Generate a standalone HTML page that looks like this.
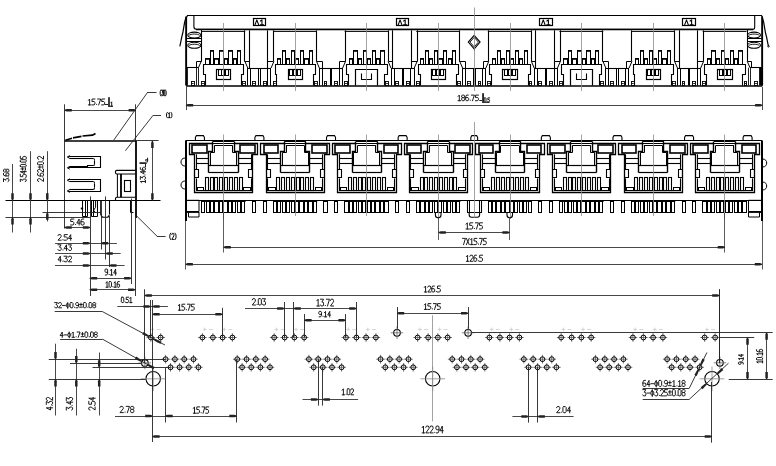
<!DOCTYPE html>
<html><head><meta charset="utf-8"><style>
html,body{margin:0;padding:0;background:#fff;}
body{width:776px;height:466px;overflow:hidden;}
svg{display:block;font-family:"Liberation Sans",sans-serif;will-change:transform;}
</style></head><body>
<svg width="776" height="466" viewBox="0 0 776 466">
<rect width="776" height="466" fill="#fff"/>
<path d="M186.50,85.50 L186.50,17.50 L187.50,15.50 L761.50,15.50 L762.50,17.50 L762.50,85.50" stroke="#000" stroke-width="1.2" fill="none" stroke-linejoin="miter"/>
<line x1="186.00" y1="16.50" x2="186.00" y2="85.60" stroke="#000" stroke-width="1.6" />
<line x1="762.00" y1="16.50" x2="762.00" y2="85.60" stroke="#000" stroke-width="1.6" />
<line x1="186.00" y1="86.00" x2="762.30" y2="86.00" stroke="#000" stroke-width="1.6" />
<path d="M193.9,15.8 V26.5 Q193.9,29.2 196.2,29.2 H753.3 Q754.6999999999999,29.2 754.6999999999999,27.5 V15.8" stroke="#000" stroke-width="1.1" fill="none" />
<line x1="196.00" y1="29.50" x2="753.30" y2="29.50" stroke="#000" stroke-width="1.4" />
<rect x="253.50" y="18.50" width="12.00" height="7.00" stroke="#000" stroke-width="1.2" fill="none"/>
<g transform="translate(255.00,19.90)"><path d="M0.00,5.00 L1.83,0.00 L3.66,5.00 M5.49,1.10 L6.95,0.00 L6.95,5.00 M5.49,5.00 L8.42,5.00" stroke="#000" stroke-width="1.1" fill="none" stroke-linejoin="round" stroke-linecap="square"/></g>
<rect x="396.50" y="18.50" width="12.00" height="7.00" stroke="#000" stroke-width="1.2" fill="none"/>
<g transform="translate(398.22,19.90)"><path d="M0.00,5.00 L1.83,0.00 L3.66,5.00 M5.49,1.10 L6.95,0.00 L6.95,5.00 M5.49,5.00 L8.42,5.00" stroke="#000" stroke-width="1.1" fill="none" stroke-linejoin="round" stroke-linecap="square"/></g>
<rect x="539.50" y="18.50" width="13.00" height="7.00" stroke="#000" stroke-width="1.2" fill="none"/>
<g transform="translate(541.44,19.90)"><path d="M0.00,5.00 L1.83,0.00 L3.66,5.00 M5.49,1.10 L6.95,0.00 L6.95,5.00 M5.49,5.00 L8.42,5.00" stroke="#000" stroke-width="1.1" fill="none" stroke-linejoin="round" stroke-linecap="square"/></g>
<rect x="682.50" y="18.50" width="13.00" height="7.00" stroke="#000" stroke-width="1.2" fill="none"/>
<g transform="translate(684.66,19.90)"><path d="M0.00,5.00 L1.83,0.00 L3.66,5.00 M5.49,1.10 L6.95,0.00 L6.95,5.00 M5.49,5.00 L8.42,5.00" stroke="#000" stroke-width="1.1" fill="none" stroke-linejoin="round" stroke-linecap="square"/></g>
<line x1="244.50" y1="30.30" x2="244.50" y2="61.40" stroke="#000" stroke-width="1.1" />
<line x1="273.50" y1="30.30" x2="273.50" y2="61.40" stroke="#000" stroke-width="1.1" />
<line x1="249.50" y1="30.30" x2="249.50" y2="68.10" stroke="#000" stroke-width="1.1" />
<line x1="267.50" y1="30.30" x2="267.50" y2="68.10" stroke="#000" stroke-width="1.1" />
<path d="M244.50,61.50 L249.50,61.50" stroke="#000" stroke-width="1" fill="none" stroke-linejoin="miter"/>
<path d="M267.50,61.50 L273.50,61.50" stroke="#000" stroke-width="1" fill="none" stroke-linejoin="miter"/>
<path d="M244.91000000000003,61.4 L247.81000000000003,68.1 M273.91,61.4 L271.01000000000005,68.1" stroke="#000" stroke-width="1" fill="none" />
<line x1="247.81" y1="68.50" x2="271.01" y2="68.50" stroke="#000" stroke-width="1.1" />
<line x1="247.50" y1="68.10" x2="247.50" y2="85.60" stroke="#000" stroke-width="1" />
<line x1="250.50" y1="68.10" x2="250.50" y2="85.60" stroke="#000" stroke-width="1" />
<line x1="258.50" y1="68.10" x2="258.50" y2="85.60" stroke="#000" stroke-width="1" />
<line x1="260.50" y1="68.10" x2="260.50" y2="85.60" stroke="#000" stroke-width="1" />
<line x1="267.50" y1="68.10" x2="267.50" y2="85.60" stroke="#000" stroke-width="1" />
<line x1="270.50" y1="68.10" x2="270.50" y2="85.60" stroke="#000" stroke-width="1" />
<rect x="242.50" y="81.50" width="3.00" height="4.00" stroke="#000" stroke-width="0.9" fill="none"/>
<line x1="242.81" y1="83.50" x2="245.21" y2="83.50" stroke="#000" stroke-width="0.8" />
<rect x="252.50" y="81.50" width="3.00" height="4.00" stroke="#000" stroke-width="0.9" fill="none"/>
<line x1="252.61" y1="83.50" x2="255.01" y2="83.50" stroke="#000" stroke-width="0.8" />
<rect x="263.50" y="81.50" width="3.00" height="4.00" stroke="#000" stroke-width="0.9" fill="none"/>
<line x1="263.41" y1="83.50" x2="265.81" y2="83.50" stroke="#000" stroke-width="0.8" />
<rect x="273.50" y="81.50" width="3.00" height="4.00" stroke="#000" stroke-width="0.9" fill="none"/>
<line x1="273.31" y1="83.50" x2="275.71" y2="83.50" stroke="#000" stroke-width="0.8" />
<line x1="316.50" y1="30.30" x2="316.50" y2="61.40" stroke="#000" stroke-width="1.1" />
<line x1="345.50" y1="30.30" x2="345.50" y2="61.40" stroke="#000" stroke-width="1.1" />
<path d="M316.50,61.50 L322.50,61.50 L322.50,68.50" stroke="#000" stroke-width="1" fill="none" stroke-linejoin="miter"/>
<path d="M339.50,68.50 L339.50,61.50 L345.50,61.50" stroke="#000" stroke-width="1" fill="none" stroke-linejoin="miter"/>
<path d="M316.52000000000004,61.4 L319.42,68.1 M345.52000000000004,61.4 L342.62000000000006,68.1" stroke="#000" stroke-width="1" fill="none" />
<line x1="319.42" y1="68.50" x2="342.62" y2="68.50" stroke="#000" stroke-width="1.1" />
<line x1="319.50" y1="68.10" x2="319.50" y2="85.60" stroke="#000" stroke-width="1" />
<line x1="322.50" y1="68.10" x2="322.50" y2="85.60" stroke="#000" stroke-width="1" />
<line x1="330.50" y1="68.10" x2="330.50" y2="85.60" stroke="#000" stroke-width="1" />
<line x1="331.50" y1="68.10" x2="331.50" y2="85.60" stroke="#000" stroke-width="1" />
<line x1="339.50" y1="68.10" x2="339.50" y2="85.60" stroke="#000" stroke-width="1" />
<line x1="342.50" y1="68.10" x2="342.50" y2="85.60" stroke="#000" stroke-width="1" />
<rect x="314.50" y="81.50" width="3.00" height="4.00" stroke="#000" stroke-width="0.9" fill="none"/>
<line x1="314.42" y1="83.50" x2="316.82" y2="83.50" stroke="#000" stroke-width="0.8" />
<rect x="324.50" y="81.50" width="2.00" height="4.00" stroke="#000" stroke-width="0.9" fill="none"/>
<line x1="324.22" y1="83.50" x2="326.62" y2="83.50" stroke="#000" stroke-width="0.8" />
<rect x="334.50" y="81.50" width="3.00" height="4.00" stroke="#000" stroke-width="0.9" fill="none"/>
<line x1="335.02" y1="83.50" x2="337.42" y2="83.50" stroke="#000" stroke-width="0.8" />
<rect x="344.50" y="81.50" width="3.00" height="4.00" stroke="#000" stroke-width="0.9" fill="none"/>
<line x1="344.92" y1="83.50" x2="347.32" y2="83.50" stroke="#000" stroke-width="0.8" />
<line x1="388.50" y1="30.30" x2="388.50" y2="61.40" stroke="#000" stroke-width="1.1" />
<line x1="417.50" y1="30.30" x2="417.50" y2="61.40" stroke="#000" stroke-width="1.1" />
<line x1="392.50" y1="30.30" x2="392.50" y2="68.10" stroke="#000" stroke-width="1.1" />
<line x1="411.50" y1="30.30" x2="411.50" y2="68.10" stroke="#000" stroke-width="1.1" />
<path d="M388.50,61.50 L392.50,61.50" stroke="#000" stroke-width="1" fill="none" stroke-linejoin="miter"/>
<path d="M411.50,61.50 L417.50,61.50" stroke="#000" stroke-width="1" fill="none" stroke-linejoin="miter"/>
<path d="M388.13,61.4 L391.03,68.1 M417.13,61.4 L414.23,68.1" stroke="#000" stroke-width="1" fill="none" />
<line x1="391.03" y1="68.50" x2="414.23" y2="68.50" stroke="#000" stroke-width="1.1" />
<line x1="391.50" y1="68.10" x2="391.50" y2="85.60" stroke="#000" stroke-width="1" />
<line x1="394.50" y1="68.10" x2="394.50" y2="85.60" stroke="#000" stroke-width="1" />
<line x1="402.50" y1="68.10" x2="402.50" y2="85.60" stroke="#000" stroke-width="1" />
<line x1="403.50" y1="68.10" x2="403.50" y2="85.60" stroke="#000" stroke-width="1" />
<line x1="410.50" y1="68.10" x2="410.50" y2="85.60" stroke="#000" stroke-width="1" />
<line x1="414.50" y1="68.10" x2="414.50" y2="85.60" stroke="#000" stroke-width="1" />
<rect x="385.50" y="81.50" width="3.00" height="4.00" stroke="#000" stroke-width="0.9" fill="none"/>
<line x1="386.03" y1="83.50" x2="388.43" y2="83.50" stroke="#000" stroke-width="0.8" />
<rect x="395.50" y="81.50" width="3.00" height="4.00" stroke="#000" stroke-width="0.9" fill="none"/>
<line x1="395.83" y1="83.50" x2="398.23" y2="83.50" stroke="#000" stroke-width="0.8" />
<rect x="406.50" y="81.50" width="3.00" height="4.00" stroke="#000" stroke-width="0.9" fill="none"/>
<line x1="406.63" y1="83.50" x2="409.03" y2="83.50" stroke="#000" stroke-width="0.8" />
<rect x="416.50" y="81.50" width="3.00" height="4.00" stroke="#000" stroke-width="0.9" fill="none"/>
<line x1="416.53" y1="83.50" x2="418.93" y2="83.50" stroke="#000" stroke-width="0.8" />
<line x1="459.50" y1="30.30" x2="459.50" y2="61.40" stroke="#000" stroke-width="1.1" />
<line x1="488.50" y1="30.30" x2="488.50" y2="61.40" stroke="#000" stroke-width="1.1" />
<path d="M459.50,61.50 L465.50,61.50 L465.50,68.50" stroke="#000" stroke-width="1" fill="none" stroke-linejoin="miter"/>
<path d="M483.50,68.50 L483.50,61.50 L488.50,61.50" stroke="#000" stroke-width="1" fill="none" stroke-linejoin="miter"/>
<path d="M459.74,61.4 L462.64,68.1 M488.74,61.4 L485.84000000000003,68.1" stroke="#000" stroke-width="1" fill="none" />
<line x1="462.64" y1="68.50" x2="485.84" y2="68.50" stroke="#000" stroke-width="1.1" />
<line x1="462.50" y1="68.10" x2="462.50" y2="85.60" stroke="#000" stroke-width="1" />
<line x1="465.50" y1="68.10" x2="465.50" y2="85.60" stroke="#000" stroke-width="1" />
<line x1="473.50" y1="68.10" x2="473.50" y2="85.60" stroke="#000" stroke-width="1" />
<line x1="475.50" y1="68.10" x2="475.50" y2="85.60" stroke="#000" stroke-width="1" />
<line x1="482.50" y1="68.10" x2="482.50" y2="85.60" stroke="#000" stroke-width="1" />
<line x1="485.50" y1="68.10" x2="485.50" y2="85.60" stroke="#000" stroke-width="1" />
<rect x="457.50" y="81.50" width="3.00" height="4.00" stroke="#000" stroke-width="0.9" fill="none"/>
<line x1="457.64" y1="83.50" x2="460.04" y2="83.50" stroke="#000" stroke-width="0.8" />
<rect x="467.50" y="81.50" width="3.00" height="4.00" stroke="#000" stroke-width="0.9" fill="none"/>
<line x1="467.44" y1="83.50" x2="469.84" y2="83.50" stroke="#000" stroke-width="0.8" />
<rect x="478.50" y="81.50" width="2.00" height="4.00" stroke="#000" stroke-width="0.9" fill="none"/>
<line x1="478.24" y1="83.50" x2="480.64" y2="83.50" stroke="#000" stroke-width="0.8" />
<rect x="487.50" y="81.50" width="3.00" height="4.00" stroke="#000" stroke-width="0.9" fill="none"/>
<line x1="488.14" y1="83.50" x2="490.54" y2="83.50" stroke="#000" stroke-width="0.8" />
<line x1="531.50" y1="30.30" x2="531.50" y2="61.40" stroke="#000" stroke-width="1.1" />
<line x1="560.50" y1="30.30" x2="560.50" y2="61.40" stroke="#000" stroke-width="1.1" />
<line x1="535.50" y1="30.30" x2="535.50" y2="68.10" stroke="#000" stroke-width="1.1" />
<line x1="554.50" y1="30.30" x2="554.50" y2="68.10" stroke="#000" stroke-width="1.1" />
<path d="M531.50,61.50 L535.50,61.50" stroke="#000" stroke-width="1" fill="none" stroke-linejoin="miter"/>
<path d="M554.50,61.50 L560.50,61.50" stroke="#000" stroke-width="1" fill="none" stroke-linejoin="miter"/>
<path d="M531.35,61.4 L534.25,68.1 M560.35,61.4 L557.45,68.1" stroke="#000" stroke-width="1" fill="none" />
<line x1="534.25" y1="68.50" x2="557.45" y2="68.50" stroke="#000" stroke-width="1.1" />
<line x1="534.50" y1="68.10" x2="534.50" y2="85.60" stroke="#000" stroke-width="1" />
<line x1="537.50" y1="68.10" x2="537.50" y2="85.60" stroke="#000" stroke-width="1" />
<line x1="545.50" y1="68.10" x2="545.50" y2="85.60" stroke="#000" stroke-width="1" />
<line x1="546.50" y1="68.10" x2="546.50" y2="85.60" stroke="#000" stroke-width="1" />
<line x1="554.50" y1="68.10" x2="554.50" y2="85.60" stroke="#000" stroke-width="1" />
<line x1="557.50" y1="68.10" x2="557.50" y2="85.60" stroke="#000" stroke-width="1" />
<rect x="529.50" y="81.50" width="2.00" height="4.00" stroke="#000" stroke-width="0.9" fill="none"/>
<line x1="529.25" y1="83.50" x2="531.65" y2="83.50" stroke="#000" stroke-width="0.8" />
<rect x="538.50" y="81.50" width="3.00" height="4.00" stroke="#000" stroke-width="0.9" fill="none"/>
<line x1="539.05" y1="83.50" x2="541.45" y2="83.50" stroke="#000" stroke-width="0.8" />
<rect x="549.50" y="81.50" width="3.00" height="4.00" stroke="#000" stroke-width="0.9" fill="none"/>
<line x1="549.85" y1="83.50" x2="552.25" y2="83.50" stroke="#000" stroke-width="0.8" />
<rect x="559.50" y="81.50" width="3.00" height="4.00" stroke="#000" stroke-width="0.9" fill="none"/>
<line x1="559.75" y1="83.50" x2="562.15" y2="83.50" stroke="#000" stroke-width="0.8" />
<line x1="602.50" y1="30.30" x2="602.50" y2="61.40" stroke="#000" stroke-width="1.1" />
<line x1="631.50" y1="30.30" x2="631.50" y2="61.40" stroke="#000" stroke-width="1.1" />
<path d="M602.50,61.50 L608.50,61.50 L608.50,68.50" stroke="#000" stroke-width="1" fill="none" stroke-linejoin="miter"/>
<path d="M626.50,68.50 L626.50,61.50 L631.50,61.50" stroke="#000" stroke-width="1" fill="none" stroke-linejoin="miter"/>
<path d="M602.96,61.4 L605.86,68.1 M631.96,61.4 L629.0600000000001,68.1" stroke="#000" stroke-width="1" fill="none" />
<line x1="605.86" y1="68.50" x2="629.06" y2="68.50" stroke="#000" stroke-width="1.1" />
<line x1="605.50" y1="68.10" x2="605.50" y2="85.60" stroke="#000" stroke-width="1" />
<line x1="608.50" y1="68.10" x2="608.50" y2="85.60" stroke="#000" stroke-width="1" />
<line x1="616.50" y1="68.10" x2="616.50" y2="85.60" stroke="#000" stroke-width="1" />
<line x1="618.50" y1="68.10" x2="618.50" y2="85.60" stroke="#000" stroke-width="1" />
<line x1="625.50" y1="68.10" x2="625.50" y2="85.60" stroke="#000" stroke-width="1" />
<line x1="628.50" y1="68.10" x2="628.50" y2="85.60" stroke="#000" stroke-width="1" />
<rect x="600.50" y="81.50" width="3.00" height="4.00" stroke="#000" stroke-width="0.9" fill="none"/>
<line x1="600.86" y1="83.50" x2="603.26" y2="83.50" stroke="#000" stroke-width="0.8" />
<rect x="610.50" y="81.50" width="3.00" height="4.00" stroke="#000" stroke-width="0.9" fill="none"/>
<line x1="610.66" y1="83.50" x2="613.06" y2="83.50" stroke="#000" stroke-width="0.8" />
<rect x="621.50" y="81.50" width="3.00" height="4.00" stroke="#000" stroke-width="0.9" fill="none"/>
<line x1="621.46" y1="83.50" x2="623.86" y2="83.50" stroke="#000" stroke-width="0.8" />
<rect x="631.50" y="81.50" width="3.00" height="4.00" stroke="#000" stroke-width="0.9" fill="none"/>
<line x1="631.36" y1="83.50" x2="633.76" y2="83.50" stroke="#000" stroke-width="0.8" />
<line x1="674.50" y1="30.30" x2="674.50" y2="61.40" stroke="#000" stroke-width="1.1" />
<line x1="703.50" y1="30.30" x2="703.50" y2="61.40" stroke="#000" stroke-width="1.1" />
<line x1="679.50" y1="30.30" x2="679.50" y2="68.10" stroke="#000" stroke-width="1.1" />
<line x1="697.50" y1="30.30" x2="697.50" y2="68.10" stroke="#000" stroke-width="1.1" />
<path d="M674.50,61.50 L679.50,61.50" stroke="#000" stroke-width="1" fill="none" stroke-linejoin="miter"/>
<path d="M697.50,61.50 L703.50,61.50" stroke="#000" stroke-width="1" fill="none" stroke-linejoin="miter"/>
<path d="M674.5699999999999,61.4 L677.4699999999999,68.1 M703.5699999999999,61.4 L700.67,68.1" stroke="#000" stroke-width="1" fill="none" />
<line x1="677.47" y1="68.50" x2="700.67" y2="68.50" stroke="#000" stroke-width="1.1" />
<line x1="677.50" y1="68.10" x2="677.50" y2="85.60" stroke="#000" stroke-width="1" />
<line x1="680.50" y1="68.10" x2="680.50" y2="85.60" stroke="#000" stroke-width="1" />
<line x1="688.50" y1="68.10" x2="688.50" y2="85.60" stroke="#000" stroke-width="1" />
<line x1="689.50" y1="68.10" x2="689.50" y2="85.60" stroke="#000" stroke-width="1" />
<line x1="697.50" y1="68.10" x2="697.50" y2="85.60" stroke="#000" stroke-width="1" />
<line x1="700.50" y1="68.10" x2="700.50" y2="85.60" stroke="#000" stroke-width="1" />
<rect x="672.50" y="81.50" width="3.00" height="4.00" stroke="#000" stroke-width="0.9" fill="none"/>
<line x1="672.47" y1="83.50" x2="674.87" y2="83.50" stroke="#000" stroke-width="0.8" />
<rect x="682.50" y="81.50" width="2.00" height="4.00" stroke="#000" stroke-width="0.9" fill="none"/>
<line x1="682.27" y1="83.50" x2="684.67" y2="83.50" stroke="#000" stroke-width="0.8" />
<rect x="692.50" y="81.50" width="3.00" height="4.00" stroke="#000" stroke-width="0.9" fill="none"/>
<line x1="693.07" y1="83.50" x2="695.47" y2="83.50" stroke="#000" stroke-width="0.8" />
<rect x="702.50" y="81.50" width="3.00" height="4.00" stroke="#000" stroke-width="0.9" fill="none"/>
<line x1="702.97" y1="83.50" x2="705.37" y2="83.50" stroke="#000" stroke-width="0.8" />
<line x1="201.41" y1="31.50" x2="245.21" y2="31.50" stroke="#000" stroke-width="0.9" />
<line x1="273.02" y1="31.50" x2="316.82" y2="31.50" stroke="#000" stroke-width="0.9" />
<line x1="344.63" y1="31.50" x2="388.43" y2="31.50" stroke="#000" stroke-width="0.9" />
<line x1="416.24" y1="31.50" x2="460.04" y2="31.50" stroke="#000" stroke-width="0.9" />
<line x1="487.85" y1="31.50" x2="531.64" y2="31.50" stroke="#000" stroke-width="0.9" />
<line x1="559.45" y1="31.50" x2="603.25" y2="31.50" stroke="#000" stroke-width="0.9" />
<line x1="631.06" y1="31.50" x2="674.87" y2="31.50" stroke="#000" stroke-width="0.9" />
<line x1="702.67" y1="31.50" x2="746.48" y2="31.50" stroke="#000" stroke-width="0.9" />
<line x1="201.50" y1="29.80" x2="201.50" y2="61.40" stroke="#000" stroke-width="1.1" />
<path d="M201.205,61.4 L198.405,67.8" stroke="#000" stroke-width="1" fill="none" />
<line x1="186.50" y1="67.50" x2="198.41" y2="67.50" stroke="#000" stroke-width="1.1" />
<path d="M201.50,61.50 L196.50,61.50 L196.50,67.50" stroke="#000" stroke-width="1" fill="none" stroke-linejoin="miter"/>
<line x1="187.50" y1="67.80" x2="187.50" y2="85.60" stroke="#222" stroke-width="1" />
<line x1="196.50" y1="67.80" x2="196.50" y2="85.60" stroke="#222" stroke-width="1" />
<line x1="198.50" y1="67.80" x2="198.50" y2="85.60" stroke="#222" stroke-width="1" />
<rect x="191.50" y="81.50" width="3.00" height="4.00" stroke="#000" stroke-width="0.9" fill="none"/>
<line x1="191.30" y1="83.50" x2="193.70" y2="83.50" stroke="#000" stroke-width="0.8" />
<rect x="201.50" y="81.50" width="3.00" height="4.00" stroke="#000" stroke-width="0.9" fill="none"/>
<line x1="201.70" y1="83.50" x2="204.10" y2="83.50" stroke="#000" stroke-width="0.8" />
<ellipse cx="194.35" cy="35.10" rx="6.55" ry="3.0" stroke="#000" stroke-width="1.1" fill="none"/>
<path d="M189.0,35.4 C190.5,33.6 198.205,33.6 199.705,35.4" stroke="#000" stroke-width="0.9" fill="none" />
<ellipse cx="194.35" cy="45.30" rx="6.55" ry="3.0" stroke="#000" stroke-width="1.1" fill="none"/>
<path d="M189.0,45.6 C190.5,43.8 198.205,43.8 199.705,45.6" stroke="#000" stroke-width="0.9" fill="none" />
<line x1="186.50" y1="38.50" x2="201.21" y2="38.50" stroke="#000" stroke-width="1" />
<line x1="186.50" y1="41.50" x2="201.21" y2="41.50" stroke="#000" stroke-width="1" />
<line x1="747.50" y1="29.80" x2="747.50" y2="61.40" stroke="#000" stroke-width="1.1" />
<path d="M747.275,61.4 L750.0749999999999,67.8" stroke="#000" stroke-width="1" fill="none" />
<line x1="761.80" y1="67.50" x2="750.07" y2="67.50" stroke="#000" stroke-width="1.1" />
<path d="M747.50,61.50 L751.50,61.50 L751.50,67.50" stroke="#000" stroke-width="1" fill="none" stroke-linejoin="miter"/>
<line x1="748.50" y1="67.80" x2="748.50" y2="85.60" stroke="#222" stroke-width="1" />
<line x1="750.50" y1="67.80" x2="750.50" y2="85.60" stroke="#222" stroke-width="1" />
<line x1="759.50" y1="67.80" x2="759.50" y2="85.60" stroke="#222" stroke-width="1" />
<rect x="759.8" y="67.8" width="2.6" height="17.5" fill="#000"/>
<rect x="754.50" y="81.50" width="3.00" height="4.00" stroke="#000" stroke-width="0.9" fill="none"/>
<line x1="754.60" y1="83.50" x2="757.00" y2="83.50" stroke="#000" stroke-width="0.8" />
<rect x="744.50" y="81.50" width="2.00" height="4.00" stroke="#000" stroke-width="0.9" fill="none"/>
<line x1="744.20" y1="83.50" x2="746.60" y2="83.50" stroke="#000" stroke-width="0.8" />
<ellipse cx="754.04" cy="35.10" rx="6.46" ry="3.0" stroke="#000" stroke-width="1.1" fill="none"/>
<path d="M748.775,35.4 C750.275,33.6 757.8,33.6 759.3,35.4" stroke="#000" stroke-width="0.9" fill="none" />
<ellipse cx="754.04" cy="45.30" rx="6.46" ry="3.0" stroke="#000" stroke-width="1.1" fill="none"/>
<path d="M748.775,45.6 C750.275,43.8 757.8,43.8 759.3,45.6" stroke="#000" stroke-width="0.9" fill="none" />
<line x1="761.80" y1="38.50" x2="747.27" y2="38.50" stroke="#000" stroke-width="1" />
<line x1="761.80" y1="41.50" x2="747.27" y2="41.50" stroke="#000" stroke-width="1" />
<path d="M186,17.5 C183.5,24 184,30 182,36 C181,40 180.8,43 179.8,46.3" stroke="#000" stroke-width="1.2" fill="none" />
<path d="M762.3,17.5 C764.8,24 764.3,30 766.3,36 C767.3,40 767.5,43 768.5,46.3" stroke="#000" stroke-width="1.2" fill="none" />
<circle cx="768.50" cy="46.30" r="0.80" stroke="#000" stroke-width="0.8" fill="none"/>
<rect x="205.50" y="58.50" width="4.00" height="6.00" stroke="#000" stroke-width="1" fill="none"/>
<line x1="205.81" y1="59.50" x2="209.00" y2="59.50" stroke="#000" stroke-width="0.8" />
<rect x="214.50" y="58.50" width="4.00" height="6.00" stroke="#000" stroke-width="1" fill="none"/>
<line x1="214.91" y1="59.50" x2="218.11" y2="59.50" stroke="#000" stroke-width="0.8" />
<rect x="224.50" y="58.50" width="3.00" height="6.00" stroke="#000" stroke-width="1" fill="none"/>
<line x1="224.11" y1="59.50" x2="227.31" y2="59.50" stroke="#000" stroke-width="0.8" />
<rect x="233.50" y="58.50" width="3.00" height="6.00" stroke="#000" stroke-width="1" fill="none"/>
<line x1="233.31" y1="59.50" x2="236.50" y2="59.50" stroke="#000" stroke-width="0.8" />
<rect x="210.50" y="50.50" width="3.00" height="14.00" stroke="#000" stroke-width="1" fill="none"/>
<line x1="210.61" y1="51.50" x2="213.81" y2="51.50" stroke="#000" stroke-width="0.8" />
<rect x="219.50" y="50.50" width="4.00" height="14.00" stroke="#000" stroke-width="1" fill="none"/>
<line x1="219.81" y1="51.50" x2="223.00" y2="51.50" stroke="#000" stroke-width="0.8" />
<rect x="228.50" y="50.50" width="4.00" height="14.00" stroke="#000" stroke-width="1" fill="none"/>
<line x1="228.91" y1="51.50" x2="232.11" y2="51.50" stroke="#000" stroke-width="0.8" />
<rect x="237.50" y="50.50" width="3.00" height="14.00" stroke="#000" stroke-width="1" fill="none"/>
<line x1="237.61" y1="51.50" x2="240.81" y2="51.50" stroke="#000" stroke-width="0.8" />
<path d="M205.50,85.50 L205.50,74.50 L203.50,74.50 L203.50,64.50 L243.50,64.50 L243.50,74.50 L241.50,74.50 L241.50,85.50" stroke="#000" stroke-width="1.1" fill="none" stroke-linejoin="miter"/>
<rect x="216.50" y="69.50" width="14.00" height="10.00" stroke="#000" stroke-width="1.2" fill="none"/>
<rect x="218.50" y="69.50" width="3.00" height="6.00" stroke="#000" stroke-width="1" fill="none"/>
<rect x="221.50" y="69.50" width="3.00" height="6.00" stroke="#000" stroke-width="1" fill="none"/>
<rect x="225.50" y="69.50" width="3.00" height="6.00" stroke="#000" stroke-width="1" fill="none"/>
<line x1="223.50" y1="23.00" x2="223.50" y2="91.00" stroke="#8a8a8a" stroke-width="0.8" />
<rect x="277.50" y="58.50" width="3.00" height="6.00" stroke="#000" stroke-width="1" fill="none"/>
<line x1="277.42" y1="59.50" x2="280.62" y2="59.50" stroke="#000" stroke-width="0.8" />
<rect x="286.50" y="58.50" width="3.00" height="6.00" stroke="#000" stroke-width="1" fill="none"/>
<line x1="286.52" y1="59.50" x2="289.72" y2="59.50" stroke="#000" stroke-width="0.8" />
<rect x="295.50" y="58.50" width="3.00" height="6.00" stroke="#000" stroke-width="1" fill="none"/>
<line x1="295.72" y1="59.50" x2="298.92" y2="59.50" stroke="#000" stroke-width="0.8" />
<rect x="304.50" y="58.50" width="4.00" height="6.00" stroke="#000" stroke-width="1" fill="none"/>
<line x1="304.92" y1="59.50" x2="308.12" y2="59.50" stroke="#000" stroke-width="0.8" />
<rect x="282.50" y="50.50" width="3.00" height="14.00" stroke="#000" stroke-width="1" fill="none"/>
<line x1="282.22" y1="51.50" x2="285.42" y2="51.50" stroke="#000" stroke-width="0.8" />
<rect x="291.50" y="50.50" width="3.00" height="14.00" stroke="#000" stroke-width="1" fill="none"/>
<line x1="291.42" y1="51.50" x2="294.62" y2="51.50" stroke="#000" stroke-width="0.8" />
<rect x="300.50" y="50.50" width="3.00" height="14.00" stroke="#000" stroke-width="1" fill="none"/>
<line x1="300.52" y1="51.50" x2="303.72" y2="51.50" stroke="#000" stroke-width="0.8" />
<rect x="309.50" y="50.50" width="3.00" height="14.00" stroke="#000" stroke-width="1" fill="none"/>
<line x1="309.22" y1="51.50" x2="312.42" y2="51.50" stroke="#000" stroke-width="0.8" />
<path d="M276.50,85.50 L276.50,74.50 L275.50,74.50 L275.50,64.50 L315.50,64.50 L315.50,74.50 L313.50,74.50 L313.50,85.50" stroke="#000" stroke-width="1.1" fill="none" stroke-linejoin="miter"/>
<rect x="288.50" y="69.50" width="14.00" height="10.00" stroke="#000" stroke-width="1.2" fill="none"/>
<rect x="289.50" y="69.50" width="3.00" height="6.00" stroke="#000" stroke-width="1" fill="none"/>
<rect x="293.50" y="69.50" width="3.00" height="6.00" stroke="#000" stroke-width="1" fill="none"/>
<rect x="297.50" y="69.50" width="3.00" height="6.00" stroke="#000" stroke-width="1" fill="none"/>
<line x1="295.50" y1="23.00" x2="295.50" y2="91.00" stroke="#8a8a8a" stroke-width="0.8" />
<rect x="349.50" y="58.50" width="3.00" height="6.00" stroke="#000" stroke-width="1" fill="none"/>
<line x1="349.03" y1="59.50" x2="352.23" y2="59.50" stroke="#000" stroke-width="0.8" />
<rect x="358.50" y="58.50" width="3.00" height="6.00" stroke="#000" stroke-width="1" fill="none"/>
<line x1="358.13" y1="59.50" x2="361.33" y2="59.50" stroke="#000" stroke-width="0.8" />
<rect x="367.50" y="58.50" width="3.00" height="6.00" stroke="#000" stroke-width="1" fill="none"/>
<line x1="367.33" y1="59.50" x2="370.53" y2="59.50" stroke="#000" stroke-width="0.8" />
<rect x="376.50" y="58.50" width="3.00" height="6.00" stroke="#000" stroke-width="1" fill="none"/>
<line x1="376.53" y1="59.50" x2="379.73" y2="59.50" stroke="#000" stroke-width="0.8" />
<rect x="353.50" y="50.50" width="4.00" height="14.00" stroke="#000" stroke-width="1" fill="none"/>
<line x1="353.83" y1="51.50" x2="357.03" y2="51.50" stroke="#000" stroke-width="0.8" />
<rect x="363.50" y="50.50" width="3.00" height="14.00" stroke="#000" stroke-width="1" fill="none"/>
<line x1="363.03" y1="51.50" x2="366.23" y2="51.50" stroke="#000" stroke-width="0.8" />
<rect x="372.50" y="50.50" width="3.00" height="14.00" stroke="#000" stroke-width="1" fill="none"/>
<line x1="372.13" y1="51.50" x2="375.33" y2="51.50" stroke="#000" stroke-width="0.8" />
<rect x="380.50" y="50.50" width="4.00" height="14.00" stroke="#000" stroke-width="1" fill="none"/>
<line x1="380.83" y1="51.50" x2="384.03" y2="51.50" stroke="#000" stroke-width="0.8" />
<path d="M348.50,85.50 L348.50,74.50 L346.50,74.50 L346.50,64.50 L387.50,64.50 L387.50,74.50 L384.50,74.50 L384.50,85.50" stroke="#000" stroke-width="1.1" fill="none" stroke-linejoin="miter"/>
<path d="M355.50,85.50 L355.50,69.50 L377.50,69.50 L377.50,85.50" stroke="#000" stroke-width="1.2" fill="none" stroke-linejoin="miter"/>
<path d="M361.50,73.50 L361.50,79.50 L371.50,79.50 L371.50,73.50" stroke="#000" stroke-width="1.1" fill="none" stroke-linejoin="miter"/>
<line x1="366.50" y1="23.00" x2="366.50" y2="91.00" stroke="#8a8a8a" stroke-width="0.8" />
<rect x="420.50" y="58.50" width="3.00" height="6.00" stroke="#000" stroke-width="1" fill="none"/>
<line x1="420.63" y1="59.50" x2="423.83" y2="59.50" stroke="#000" stroke-width="0.8" />
<rect x="429.50" y="58.50" width="3.00" height="6.00" stroke="#000" stroke-width="1" fill="none"/>
<line x1="429.74" y1="59.50" x2="432.94" y2="59.50" stroke="#000" stroke-width="0.8" />
<rect x="438.50" y="58.50" width="4.00" height="6.00" stroke="#000" stroke-width="1" fill="none"/>
<line x1="438.94" y1="59.50" x2="442.13" y2="59.50" stroke="#000" stroke-width="0.8" />
<rect x="448.50" y="58.50" width="3.00" height="6.00" stroke="#000" stroke-width="1" fill="none"/>
<line x1="448.13" y1="59.50" x2="451.33" y2="59.50" stroke="#000" stroke-width="0.8" />
<rect x="425.50" y="50.50" width="3.00" height="14.00" stroke="#000" stroke-width="1" fill="none"/>
<line x1="425.44" y1="51.50" x2="428.63" y2="51.50" stroke="#000" stroke-width="0.8" />
<rect x="434.50" y="50.50" width="3.00" height="14.00" stroke="#000" stroke-width="1" fill="none"/>
<line x1="434.63" y1="51.50" x2="437.83" y2="51.50" stroke="#000" stroke-width="0.8" />
<rect x="443.50" y="50.50" width="3.00" height="14.00" stroke="#000" stroke-width="1" fill="none"/>
<line x1="443.74" y1="51.50" x2="446.94" y2="51.50" stroke="#000" stroke-width="0.8" />
<rect x="452.50" y="50.50" width="3.00" height="14.00" stroke="#000" stroke-width="1" fill="none"/>
<line x1="452.44" y1="51.50" x2="455.63" y2="51.50" stroke="#000" stroke-width="0.8" />
<path d="M420.50,85.50 L420.50,74.50 L418.50,74.50 L418.50,64.50 L458.50,64.50 L458.50,74.50 L456.50,74.50 L456.50,85.50" stroke="#000" stroke-width="1.1" fill="none" stroke-linejoin="miter"/>
<rect x="431.50" y="69.50" width="14.00" height="10.00" stroke="#000" stroke-width="1.2" fill="none"/>
<rect x="432.50" y="69.50" width="3.00" height="6.00" stroke="#000" stroke-width="1" fill="none"/>
<rect x="436.50" y="69.50" width="3.00" height="6.00" stroke="#000" stroke-width="1" fill="none"/>
<rect x="440.50" y="69.50" width="3.00" height="6.00" stroke="#000" stroke-width="1" fill="none"/>
<line x1="438.50" y1="23.00" x2="438.50" y2="91.00" stroke="#8a8a8a" stroke-width="0.8" />
<rect x="492.50" y="58.50" width="3.00" height="6.00" stroke="#000" stroke-width="1" fill="none"/>
<line x1="492.25" y1="59.50" x2="495.44" y2="59.50" stroke="#000" stroke-width="0.8" />
<rect x="501.50" y="58.50" width="3.00" height="6.00" stroke="#000" stroke-width="1" fill="none"/>
<line x1="501.35" y1="59.50" x2="504.55" y2="59.50" stroke="#000" stroke-width="0.8" />
<rect x="510.50" y="58.50" width="3.00" height="6.00" stroke="#000" stroke-width="1" fill="none"/>
<line x1="510.55" y1="59.50" x2="513.75" y2="59.50" stroke="#000" stroke-width="0.8" />
<rect x="519.50" y="58.50" width="3.00" height="6.00" stroke="#000" stroke-width="1" fill="none"/>
<line x1="519.75" y1="59.50" x2="522.95" y2="59.50" stroke="#000" stroke-width="0.8" />
<rect x="497.50" y="50.50" width="3.00" height="14.00" stroke="#000" stroke-width="1" fill="none"/>
<line x1="497.05" y1="51.50" x2="500.25" y2="51.50" stroke="#000" stroke-width="0.8" />
<rect x="506.50" y="50.50" width="3.00" height="14.00" stroke="#000" stroke-width="1" fill="none"/>
<line x1="506.25" y1="51.50" x2="509.44" y2="51.50" stroke="#000" stroke-width="0.8" />
<rect x="515.50" y="50.50" width="3.00" height="14.00" stroke="#000" stroke-width="1" fill="none"/>
<line x1="515.35" y1="51.50" x2="518.55" y2="51.50" stroke="#000" stroke-width="0.8" />
<rect x="524.50" y="50.50" width="3.00" height="14.00" stroke="#000" stroke-width="1" fill="none"/>
<line x1="524.05" y1="51.50" x2="527.25" y2="51.50" stroke="#000" stroke-width="0.8" />
<path d="M491.50,85.50 L491.50,74.50 L489.50,74.50 L489.50,64.50 L530.50,64.50 L530.50,74.50 L528.50,74.50 L528.50,85.50" stroke="#000" stroke-width="1.1" fill="none" stroke-linejoin="miter"/>
<rect x="502.50" y="69.50" width="15.00" height="10.00" stroke="#000" stroke-width="1.2" fill="none"/>
<rect x="504.50" y="69.50" width="3.00" height="6.00" stroke="#000" stroke-width="1" fill="none"/>
<rect x="508.50" y="69.50" width="3.00" height="6.00" stroke="#000" stroke-width="1" fill="none"/>
<rect x="512.50" y="69.50" width="3.00" height="6.00" stroke="#000" stroke-width="1" fill="none"/>
<line x1="510.50" y1="23.00" x2="510.50" y2="91.00" stroke="#8a8a8a" stroke-width="0.8" />
<rect x="563.50" y="58.50" width="4.00" height="6.00" stroke="#000" stroke-width="1" fill="none"/>
<line x1="563.86" y1="59.50" x2="567.06" y2="59.50" stroke="#000" stroke-width="0.8" />
<rect x="572.50" y="58.50" width="4.00" height="6.00" stroke="#000" stroke-width="1" fill="none"/>
<line x1="572.95" y1="59.50" x2="576.15" y2="59.50" stroke="#000" stroke-width="0.8" />
<rect x="582.50" y="58.50" width="3.00" height="6.00" stroke="#000" stroke-width="1" fill="none"/>
<line x1="582.15" y1="59.50" x2="585.36" y2="59.50" stroke="#000" stroke-width="0.8" />
<rect x="591.50" y="58.50" width="3.00" height="6.00" stroke="#000" stroke-width="1" fill="none"/>
<line x1="591.36" y1="59.50" x2="594.56" y2="59.50" stroke="#000" stroke-width="0.8" />
<rect x="568.50" y="50.50" width="3.00" height="14.00" stroke="#000" stroke-width="1" fill="none"/>
<line x1="568.65" y1="51.50" x2="571.86" y2="51.50" stroke="#000" stroke-width="0.8" />
<rect x="577.50" y="50.50" width="4.00" height="14.00" stroke="#000" stroke-width="1" fill="none"/>
<line x1="577.86" y1="51.50" x2="581.06" y2="51.50" stroke="#000" stroke-width="0.8" />
<rect x="586.50" y="50.50" width="4.00" height="14.00" stroke="#000" stroke-width="1" fill="none"/>
<line x1="586.95" y1="51.50" x2="590.15" y2="51.50" stroke="#000" stroke-width="0.8" />
<rect x="595.50" y="50.50" width="3.00" height="14.00" stroke="#000" stroke-width="1" fill="none"/>
<line x1="595.65" y1="51.50" x2="598.86" y2="51.50" stroke="#000" stroke-width="0.8" />
<path d="M563.50,85.50 L563.50,74.50 L561.50,74.50 L561.50,64.50 L601.50,64.50 L601.50,74.50 L599.50,74.50 L599.50,85.50" stroke="#000" stroke-width="1.1" fill="none" stroke-linejoin="miter"/>
<path d="M570.50,85.50 L570.50,69.50 L592.50,69.50 L592.50,85.50" stroke="#000" stroke-width="1.2" fill="none" stroke-linejoin="miter"/>
<path d="M576.50,73.50 L576.50,79.50 L586.50,79.50 L586.50,73.50" stroke="#000" stroke-width="1.1" fill="none" stroke-linejoin="miter"/>
<line x1="581.50" y1="23.00" x2="581.50" y2="91.00" stroke="#8a8a8a" stroke-width="0.8" />
<rect x="635.50" y="58.50" width="3.00" height="6.00" stroke="#000" stroke-width="1" fill="none"/>
<line x1="635.47" y1="59.50" x2="638.67" y2="59.50" stroke="#000" stroke-width="0.8" />
<rect x="644.50" y="58.50" width="3.00" height="6.00" stroke="#000" stroke-width="1" fill="none"/>
<line x1="644.56" y1="59.50" x2="647.76" y2="59.50" stroke="#000" stroke-width="0.8" />
<rect x="653.50" y="58.50" width="3.00" height="6.00" stroke="#000" stroke-width="1" fill="none"/>
<line x1="653.76" y1="59.50" x2="656.97" y2="59.50" stroke="#000" stroke-width="0.8" />
<rect x="662.50" y="58.50" width="4.00" height="6.00" stroke="#000" stroke-width="1" fill="none"/>
<line x1="662.97" y1="59.50" x2="666.17" y2="59.50" stroke="#000" stroke-width="0.8" />
<rect x="640.50" y="50.50" width="3.00" height="14.00" stroke="#000" stroke-width="1" fill="none"/>
<line x1="640.26" y1="51.50" x2="643.47" y2="51.50" stroke="#000" stroke-width="0.8" />
<rect x="649.50" y="50.50" width="3.00" height="14.00" stroke="#000" stroke-width="1" fill="none"/>
<line x1="649.47" y1="51.50" x2="652.67" y2="51.50" stroke="#000" stroke-width="0.8" />
<rect x="658.50" y="50.50" width="3.00" height="14.00" stroke="#000" stroke-width="1" fill="none"/>
<line x1="658.56" y1="51.50" x2="661.76" y2="51.50" stroke="#000" stroke-width="0.8" />
<rect x="667.50" y="50.50" width="3.00" height="14.00" stroke="#000" stroke-width="1" fill="none"/>
<line x1="667.26" y1="51.50" x2="670.47" y2="51.50" stroke="#000" stroke-width="0.8" />
<path d="M634.50,85.50 L634.50,74.50 L633.50,74.50 L633.50,64.50 L673.50,64.50 L673.50,74.50 L671.50,74.50 L671.50,85.50" stroke="#000" stroke-width="1.1" fill="none" stroke-linejoin="miter"/>
<rect x="646.50" y="69.50" width="14.00" height="10.00" stroke="#000" stroke-width="1.2" fill="none"/>
<rect x="647.50" y="69.50" width="3.00" height="6.00" stroke="#000" stroke-width="1" fill="none"/>
<rect x="651.50" y="69.50" width="3.00" height="6.00" stroke="#000" stroke-width="1" fill="none"/>
<rect x="655.50" y="69.50" width="3.00" height="6.00" stroke="#000" stroke-width="1" fill="none"/>
<line x1="653.50" y1="23.00" x2="653.50" y2="91.00" stroke="#8a8a8a" stroke-width="0.8" />
<rect x="707.50" y="58.50" width="3.00" height="6.00" stroke="#000" stroke-width="1" fill="none"/>
<line x1="707.08" y1="59.50" x2="710.28" y2="59.50" stroke="#000" stroke-width="0.8" />
<rect x="716.50" y="58.50" width="3.00" height="6.00" stroke="#000" stroke-width="1" fill="none"/>
<line x1="716.17" y1="59.50" x2="719.38" y2="59.50" stroke="#000" stroke-width="0.8" />
<rect x="725.50" y="58.50" width="3.00" height="6.00" stroke="#000" stroke-width="1" fill="none"/>
<line x1="725.38" y1="59.50" x2="728.58" y2="59.50" stroke="#000" stroke-width="0.8" />
<rect x="734.50" y="58.50" width="3.00" height="6.00" stroke="#000" stroke-width="1" fill="none"/>
<line x1="734.58" y1="59.50" x2="737.78" y2="59.50" stroke="#000" stroke-width="0.8" />
<rect x="711.50" y="50.50" width="4.00" height="14.00" stroke="#000" stroke-width="1" fill="none"/>
<line x1="711.88" y1="51.50" x2="715.08" y2="51.50" stroke="#000" stroke-width="0.8" />
<rect x="721.50" y="50.50" width="3.00" height="14.00" stroke="#000" stroke-width="1" fill="none"/>
<line x1="721.08" y1="51.50" x2="724.28" y2="51.50" stroke="#000" stroke-width="0.8" />
<rect x="730.50" y="50.50" width="3.00" height="14.00" stroke="#000" stroke-width="1" fill="none"/>
<line x1="730.17" y1="51.50" x2="733.38" y2="51.50" stroke="#000" stroke-width="0.8" />
<rect x="738.50" y="50.50" width="4.00" height="14.00" stroke="#000" stroke-width="1" fill="none"/>
<line x1="738.88" y1="51.50" x2="742.08" y2="51.50" stroke="#000" stroke-width="0.8" />
<path d="M706.50,85.50 L706.50,74.50 L704.50,74.50 L704.50,64.50 L745.50,64.50 L745.50,74.50 L742.50,74.50 L742.50,85.50" stroke="#000" stroke-width="1.1" fill="none" stroke-linejoin="miter"/>
<rect x="717.50" y="69.50" width="15.00" height="10.00" stroke="#000" stroke-width="1.2" fill="none"/>
<rect x="719.50" y="69.50" width="3.00" height="6.00" stroke="#000" stroke-width="1" fill="none"/>
<rect x="723.50" y="69.50" width="3.00" height="6.00" stroke="#000" stroke-width="1" fill="none"/>
<rect x="727.50" y="69.50" width="3.00" height="6.00" stroke="#000" stroke-width="1" fill="none"/>
<line x1="724.50" y1="23.00" x2="724.50" y2="91.00" stroke="#8a8a8a" stroke-width="0.8" />
<path d="M474.2,35.4 L480.09999999999997,42.1 L474.2,48.8 L468.3,42.1 Z" stroke="#000" stroke-width="1.1" fill="none" />
<path d="M474.2,37.3 L478.4,42.1 L474.2,46.9 L470.0,42.1 Z" stroke="#000" stroke-width="0.9" fill="none" />
<line x1="474.50" y1="48.80" x2="474.50" y2="50.50" stroke="#000" stroke-width="1" />
<line x1="474.50" y1="7.50" x2="474.50" y2="91.00" stroke="#8a8a8a" stroke-width="0.8" />
<line x1="186.50" y1="87.00" x2="186.50" y2="110.00" stroke="#333" stroke-width="0.9" />
<line x1="762.50" y1="87.00" x2="762.50" y2="110.00" stroke="#333" stroke-width="0.9" />
<line x1="186.00" y1="105.50" x2="762.30" y2="105.50" stroke="#333" stroke-width="0.9" />
<path d="M186.00,104.70 L188.00,103.95 L193.20,103.95 L193.20,106.45 L188.00,106.45 L186.00,105.70 Z" fill="#222"/>
<path d="M762.30,104.70 L760.30,103.95 L755.10,103.95 L755.10,106.45 L760.30,106.45 L762.30,105.70 Z" fill="#222"/>
<g transform="translate(457.70,95.10)"><path d="M0.44,1.23 L1.62,0.00 L1.62,5.60 M0.44,5.60 L2.80,5.60 M6.35,2.63 L6.94,1.96 L6.94,0.67 L6.35,0.00 L4.58,0.00 L3.99,0.67 L3.99,1.96 L4.58,2.63 L6.35,2.63 L6.94,3.36 L6.94,4.93 L6.35,5.60 L4.58,5.60 L3.99,4.93 L3.99,3.36 L4.58,2.63 M10.49,0.00 L8.86,0.00 L7.98,1.68 L7.98,4.76 L8.57,5.60 L10.34,5.60 L10.93,4.76 L10.93,3.36 L10.34,2.52 L7.98,2.52 M13.76,0.00 L16.71,0.00 L14.79,5.60 M20.70,0.00 L17.90,0.00 L17.75,2.35 L19.96,2.35 L20.70,3.25 L20.70,4.76 L19.96,5.60 L17.75,5.60" stroke="#111" stroke-width="0.95" fill="none" stroke-linejoin="round" stroke-linecap="square"/><rect x="12.14" y="4.60" width="0.95" height="1.00" fill="#111"/></g>
<line x1="479.30" y1="100.50" x2="482.20" y2="100.50" stroke="#222" stroke-width="1" />
<rect x="482.2" y="93.2" width="1.7" height="9.3" fill="#111"/>
<g transform="translate(484.20,97.90)"><path d="M0.46,0.00 L1.37,0.00 L1.82,0.58 L1.82,3.31 L1.37,3.90 L0.46,3.90 L0.00,3.31 L0.00,0.58 L0.46,0.00 M5.40,0.00 L3.67,0.00 L3.58,1.64 L4.94,1.64 L5.40,2.26 L5.40,3.31 L4.94,3.90 L3.58,3.90" stroke="#111" stroke-width="0.95" fill="none" stroke-linejoin="round" stroke-linecap="square"/><rect x="2.40" y="2.90" width="0.95" height="1.00" fill="#111"/></g>
<line x1="482.20" y1="102.50" x2="489.60" y2="102.50" stroke="#222" stroke-width="0.9" />
<line x1="185.70" y1="140.50" x2="762.00" y2="140.50" stroke="#000" stroke-width="1.1" />
<line x1="185.70" y1="200.50" x2="762.00" y2="200.50" stroke="#000" stroke-width="1.1" />
<line x1="186.00" y1="140.60" x2="186.00" y2="221.00" stroke="#000" stroke-width="2" />
<line x1="762.00" y1="140.60" x2="762.00" y2="221.00" stroke="#000" stroke-width="2" />
<path d="M184.89999999999998,158 C179.7,158 179.7,166 184.89999999999998,166" stroke="#000" stroke-width="1" fill="none" />
<path d="M762.8,159 C768.0,159 768.0,167 762.8,167" stroke="#000" stroke-width="1" fill="none" />
<path d="M184.89999999999998,181 C179.7,181 179.7,189 184.89999999999998,189" stroke="#000" stroke-width="1" fill="none" />
<path d="M762.8,182 C768.0,182 768.0,190 762.8,190" stroke="#000" stroke-width="1" fill="none" />
<path d="M195.41,140.60 L195.41,137.30 L196.41,135.60 L203.41,135.60 L204.41,137.30 L204.41,140.60" stroke="#000" stroke-width="1.1" fill="none" stroke-linejoin="miter"/>
<path d="M254.91,140.60 L254.91,137.30 L255.91,135.60 L262.91,135.60 L263.91,137.30 L263.91,140.60" stroke="#000" stroke-width="1.1" fill="none" stroke-linejoin="miter"/>
<path d="M326.52,140.60 L326.52,137.30 L327.52,135.60 L334.52,135.60 L335.52,137.30 L335.52,140.60" stroke="#000" stroke-width="1.1" fill="none" stroke-linejoin="miter"/>
<path d="M398.13,140.60 L398.13,137.30 L399.13,135.60 L406.13,135.60 L407.13,137.30 L407.13,140.60" stroke="#000" stroke-width="1.1" fill="none" stroke-linejoin="miter"/>
<path d="M470.84,140.60 L470.84,137.30 L471.84,135.60 L476.64,135.60 L477.64,137.30 L477.64,140.60" stroke="#000" stroke-width="1.1" fill="none" stroke-linejoin="miter"/>
<path d="M541.35,140.60 L541.35,137.30 L542.35,135.60 L549.35,135.60 L550.35,137.30 L550.35,140.60" stroke="#000" stroke-width="1.1" fill="none" stroke-linejoin="miter"/>
<path d="M612.96,140.60 L612.96,137.30 L613.96,135.60 L620.96,135.60 L621.96,137.30 L621.96,140.60" stroke="#000" stroke-width="1.1" fill="none" stroke-linejoin="miter"/>
<path d="M684.57,140.60 L684.57,137.30 L685.57,135.60 L692.57,135.60 L693.57,137.30 L693.57,140.60" stroke="#000" stroke-width="1.1" fill="none" stroke-linejoin="miter"/>
<path d="M743.08,140.60 L743.08,137.30 L744.08,135.60 L751.08,135.60 L752.08,137.30 L752.08,140.60" stroke="#000" stroke-width="1.1" fill="none" stroke-linejoin="miter"/>
<path d="M212.50,143.50 L189.50,143.50 L189.50,154.50 L194.50,154.50 L194.50,192.50 L252.50,192.50 L252.50,154.50 L257.50,154.50 L257.50,143.50 L234.50,143.50" stroke="#000" stroke-width="1.3" fill="none" stroke-linejoin="miter"/>
<path d="M196.50,178.50 L196.50,190.50 L251.50,190.50 L251.50,178.50" stroke="#000" stroke-width="1.1" fill="none" stroke-linejoin="miter"/>
<line x1="196.50" y1="154.30" x2="196.50" y2="167.90" stroke="#000" stroke-width="1.1" />
<line x1="251.50" y1="154.30" x2="251.50" y2="167.90" stroke="#000" stroke-width="1.1" />
<path d="M194.50,169.50 L198.50,169.50 L198.50,177.50 L194.50,177.50" stroke="#000" stroke-width="1.1" fill="none" stroke-linejoin="miter"/>
<path d="M252.50,169.50 L248.50,169.50 L248.50,177.50 L252.50,177.50" stroke="#000" stroke-width="1.1" fill="none" stroke-linejoin="miter"/>
<line x1="196.50" y1="167.90" x2="196.50" y2="169.60" stroke="#000" stroke-width="1.1" />
<line x1="251.50" y1="167.90" x2="251.50" y2="169.60" stroke="#000" stroke-width="1.1" />
<line x1="196.50" y1="177.80" x2="196.50" y2="178.20" stroke="#000" stroke-width="1.1" />
<line x1="251.50" y1="177.80" x2="251.50" y2="178.20" stroke="#000" stroke-width="1.1" />
<line x1="212.71" y1="141.00" x2="234.31" y2="141.00" stroke="#000" stroke-width="2" />
<path d="M212.50,141.50 L212.50,151.50 L208.50,151.50 L208.50,172.50" stroke="#000" stroke-width="1.4" fill="none" stroke-linejoin="miter"/>
<path d="M234.50,141.50 L234.50,151.50 L238.50,151.50 L238.50,172.50" stroke="#000" stroke-width="1.4" fill="none" stroke-linejoin="miter"/>
<line x1="212.71" y1="143.50" x2="234.31" y2="143.50" stroke="#000" stroke-width="1" />
<line x1="214.41" y1="145.50" x2="232.61" y2="145.50" stroke="#000" stroke-width="1" />
<path d="M214.50,145.50 L214.50,152.50 L210.50,152.50 L210.50,165.50" stroke="#000" stroke-width="1" fill="none" stroke-linejoin="miter"/>
<path d="M232.50,145.50 L232.50,152.50 L236.50,152.50 L236.50,165.50" stroke="#000" stroke-width="1" fill="none" stroke-linejoin="miter"/>
<path d="M208.50,165.50 L238.50,165.50" stroke="#000" stroke-width="1.2" fill="none" stroke-linejoin="miter"/>
<path d="M208.50,172.50 L238.50,172.50" stroke="#000" stroke-width="1.2" fill="none" stroke-linejoin="miter"/>
<rect x="192.00" y="145.00" width="15.00" height="8.00" stroke="#000" stroke-width="1.6" fill="none"/>
<rect x="240.00" y="145.00" width="15.00" height="8.00" stroke="#000" stroke-width="1.6" fill="none"/>
<line x1="196.11" y1="158.50" x2="208.81" y2="158.50" stroke="#000" stroke-width="1.1" />
<line x1="196.11" y1="163.50" x2="208.81" y2="163.50" stroke="#000" stroke-width="1.1" />
<line x1="238.21" y1="158.50" x2="251.11" y2="158.50" stroke="#000" stroke-width="1.1" />
<line x1="238.21" y1="163.50" x2="251.11" y2="163.50" stroke="#000" stroke-width="1.1" />
<rect x="205.50" y="177.50" width="3.00" height="13.00" stroke="#000" stroke-width="1.1" fill="none"/>
<rect x="210.50" y="177.50" width="3.00" height="13.00" stroke="#000" stroke-width="1.1" fill="none"/>
<rect x="214.50" y="177.50" width="3.00" height="13.00" stroke="#000" stroke-width="1.1" fill="none"/>
<rect x="219.50" y="177.50" width="3.00" height="13.00" stroke="#000" stroke-width="1.1" fill="none"/>
<rect x="224.50" y="177.50" width="3.00" height="13.00" stroke="#000" stroke-width="1.1" fill="none"/>
<rect x="229.50" y="177.50" width="3.00" height="13.00" stroke="#000" stroke-width="1.1" fill="none"/>
<rect x="234.50" y="177.50" width="3.00" height="13.00" stroke="#000" stroke-width="1.1" fill="none"/>
<rect x="239.50" y="177.50" width="3.00" height="13.00" stroke="#000" stroke-width="1.1" fill="none"/>
<rect x="197.50" y="187.50" width="6.00" height="3.00" stroke="#000" stroke-width="1" fill="none"/>
<rect x="243.50" y="187.50" width="7.00" height="3.00" stroke="#000" stroke-width="1" fill="none"/>
<line x1="201.81" y1="201.50" x2="245.61" y2="201.50" stroke="#000" stroke-width="0.9" />
<rect x="201.50" y="201.50" width="3.00" height="11.00" stroke="#000" stroke-width="1" fill="none"/>
<rect x="206.50" y="201.50" width="3.00" height="11.00" stroke="#000" stroke-width="1" fill="none"/>
<rect x="210.50" y="201.50" width="3.00" height="11.00" stroke="#000" stroke-width="1" fill="none"/>
<rect x="214.50" y="201.50" width="4.00" height="11.00" stroke="#000" stroke-width="1" fill="none"/>
<rect x="219.50" y="201.50" width="3.00" height="11.00" stroke="#000" stroke-width="1" fill="none"/>
<rect x="223.50" y="201.50" width="4.00" height="11.00" stroke="#000" stroke-width="1" fill="none"/>
<rect x="228.50" y="201.50" width="3.00" height="11.00" stroke="#000" stroke-width="1" fill="none"/>
<rect x="232.50" y="201.50" width="3.00" height="11.00" stroke="#000" stroke-width="1" fill="none"/>
<rect x="237.50" y="201.50" width="3.00" height="11.00" stroke="#000" stroke-width="1" fill="none"/>
<rect x="241.50" y="201.50" width="3.00" height="11.00" stroke="#000" stroke-width="1" fill="none"/>
<rect x="252.50" y="201.50" width="3.00" height="11.00" stroke="#000" stroke-width="1" fill="none"/>
<rect x="263.50" y="201.50" width="3.00" height="11.00" stroke="#000" stroke-width="1" fill="none"/>
<line x1="223.50" y1="134.50" x2="223.50" y2="219.00" stroke="#8a8a8a" stroke-width="0.8" />
<path d="M284.50,143.50 L260.50,143.50 L260.50,154.50 L266.50,154.50 L266.50,192.50 L324.50,192.50 L324.50,154.50 L329.50,154.50 L329.50,143.50 L305.50,143.50" stroke="#000" stroke-width="1.3" fill="none" stroke-linejoin="miter"/>
<path d="M267.50,178.50 L267.50,190.50 L322.50,190.50 L322.50,178.50" stroke="#000" stroke-width="1.1" fill="none" stroke-linejoin="miter"/>
<line x1="267.50" y1="154.30" x2="267.50" y2="167.90" stroke="#000" stroke-width="1.1" />
<line x1="322.50" y1="154.30" x2="322.50" y2="167.90" stroke="#000" stroke-width="1.1" />
<path d="M266.50,169.50 L270.50,169.50 L270.50,177.50 L266.50,177.50" stroke="#000" stroke-width="1.1" fill="none" stroke-linejoin="miter"/>
<path d="M324.50,169.50 L320.50,169.50 L320.50,177.50 L324.50,177.50" stroke="#000" stroke-width="1.1" fill="none" stroke-linejoin="miter"/>
<line x1="267.50" y1="167.90" x2="267.50" y2="169.60" stroke="#000" stroke-width="1.1" />
<line x1="322.50" y1="167.90" x2="322.50" y2="169.60" stroke="#000" stroke-width="1.1" />
<line x1="267.50" y1="177.80" x2="267.50" y2="178.20" stroke="#000" stroke-width="1.1" />
<line x1="322.50" y1="177.80" x2="322.50" y2="178.20" stroke="#000" stroke-width="1.1" />
<line x1="284.32" y1="141.00" x2="305.92" y2="141.00" stroke="#000" stroke-width="2" />
<path d="M284.50,141.50 L284.50,151.50 L280.50,151.50 L280.50,172.50" stroke="#000" stroke-width="1.4" fill="none" stroke-linejoin="miter"/>
<path d="M305.50,141.50 L305.50,151.50 L309.50,151.50 L309.50,172.50" stroke="#000" stroke-width="1.4" fill="none" stroke-linejoin="miter"/>
<line x1="284.32" y1="143.50" x2="305.92" y2="143.50" stroke="#000" stroke-width="1" />
<line x1="286.02" y1="145.50" x2="304.22" y2="145.50" stroke="#000" stroke-width="1" />
<path d="M286.50,145.50 L286.50,152.50 L282.50,152.50 L282.50,165.50" stroke="#000" stroke-width="1" fill="none" stroke-linejoin="miter"/>
<path d="M304.50,145.50 L304.50,152.50 L308.50,152.50 L308.50,165.50" stroke="#000" stroke-width="1" fill="none" stroke-linejoin="miter"/>
<path d="M280.50,165.50 L309.50,165.50" stroke="#000" stroke-width="1.2" fill="none" stroke-linejoin="miter"/>
<path d="M280.50,172.50 L309.50,172.50" stroke="#000" stroke-width="1.2" fill="none" stroke-linejoin="miter"/>
<rect x="264.00" y="145.00" width="14.00" height="8.00" stroke="#000" stroke-width="1.6" fill="none"/>
<rect x="312.00" y="145.00" width="15.00" height="8.00" stroke="#000" stroke-width="1.6" fill="none"/>
<line x1="267.72" y1="158.50" x2="280.42" y2="158.50" stroke="#000" stroke-width="1.1" />
<line x1="267.72" y1="163.50" x2="280.42" y2="163.50" stroke="#000" stroke-width="1.1" />
<line x1="309.82" y1="158.50" x2="322.72" y2="158.50" stroke="#000" stroke-width="1.1" />
<line x1="309.82" y1="163.50" x2="322.72" y2="163.50" stroke="#000" stroke-width="1.1" />
<rect x="276.50" y="177.50" width="3.00" height="13.00" stroke="#000" stroke-width="1.1" fill="none"/>
<rect x="281.50" y="177.50" width="3.00" height="13.00" stroke="#000" stroke-width="1.1" fill="none"/>
<rect x="286.50" y="177.50" width="3.00" height="13.00" stroke="#000" stroke-width="1.1" fill="none"/>
<rect x="291.50" y="177.50" width="3.00" height="13.00" stroke="#000" stroke-width="1.1" fill="none"/>
<rect x="296.50" y="177.50" width="3.00" height="13.00" stroke="#000" stroke-width="1.1" fill="none"/>
<rect x="300.50" y="177.50" width="3.00" height="13.00" stroke="#000" stroke-width="1.1" fill="none"/>
<rect x="305.50" y="177.50" width="3.00" height="13.00" stroke="#000" stroke-width="1.1" fill="none"/>
<rect x="310.50" y="177.50" width="3.00" height="13.00" stroke="#000" stroke-width="1.1" fill="none"/>
<rect x="268.50" y="187.50" width="7.00" height="3.00" stroke="#000" stroke-width="1" fill="none"/>
<rect x="315.50" y="187.50" width="6.00" height="3.00" stroke="#000" stroke-width="1" fill="none"/>
<line x1="273.42" y1="201.50" x2="317.22" y2="201.50" stroke="#000" stroke-width="0.9" />
<rect x="273.50" y="201.50" width="3.00" height="11.00" stroke="#000" stroke-width="1" fill="none"/>
<rect x="277.50" y="201.50" width="3.00" height="11.00" stroke="#000" stroke-width="1" fill="none"/>
<rect x="282.50" y="201.50" width="3.00" height="11.00" stroke="#000" stroke-width="1" fill="none"/>
<rect x="286.50" y="201.50" width="3.00" height="11.00" stroke="#000" stroke-width="1" fill="none"/>
<rect x="291.50" y="201.50" width="3.00" height="11.00" stroke="#000" stroke-width="1" fill="none"/>
<rect x="295.50" y="201.50" width="3.00" height="11.00" stroke="#000" stroke-width="1" fill="none"/>
<rect x="299.50" y="201.50" width="4.00" height="11.00" stroke="#000" stroke-width="1" fill="none"/>
<rect x="304.50" y="201.50" width="3.00" height="11.00" stroke="#000" stroke-width="1" fill="none"/>
<rect x="308.50" y="201.50" width="4.00" height="11.00" stroke="#000" stroke-width="1" fill="none"/>
<rect x="313.50" y="201.50" width="3.00" height="11.00" stroke="#000" stroke-width="1" fill="none"/>
<rect x="323.50" y="201.50" width="4.00" height="11.00" stroke="#000" stroke-width="1" fill="none"/>
<rect x="334.50" y="201.50" width="3.00" height="11.00" stroke="#000" stroke-width="1" fill="none"/>
<line x1="295.50" y1="134.50" x2="295.50" y2="216.00" stroke="#8a8a8a" stroke-width="0.8" />
<path d="M355.50,143.50 L332.50,143.50 L332.50,154.50 L337.50,154.50 L337.50,192.50 L396.50,192.50 L396.50,154.50 L401.50,154.50 L401.50,143.50 L377.50,143.50" stroke="#000" stroke-width="1.3" fill="none" stroke-linejoin="miter"/>
<path d="M339.50,178.50 L339.50,190.50 L394.50,190.50 L394.50,178.50" stroke="#000" stroke-width="1.1" fill="none" stroke-linejoin="miter"/>
<line x1="339.50" y1="154.30" x2="339.50" y2="167.90" stroke="#000" stroke-width="1.1" />
<line x1="394.50" y1="154.30" x2="394.50" y2="167.90" stroke="#000" stroke-width="1.1" />
<path d="M337.50,169.50 L341.50,169.50 L341.50,177.50 L337.50,177.50" stroke="#000" stroke-width="1.1" fill="none" stroke-linejoin="miter"/>
<path d="M396.50,169.50 L392.50,169.50 L392.50,177.50 L396.50,177.50" stroke="#000" stroke-width="1.1" fill="none" stroke-linejoin="miter"/>
<line x1="339.50" y1="167.90" x2="339.50" y2="169.60" stroke="#000" stroke-width="1.1" />
<line x1="394.50" y1="167.90" x2="394.50" y2="169.60" stroke="#000" stroke-width="1.1" />
<line x1="339.50" y1="177.80" x2="339.50" y2="178.20" stroke="#000" stroke-width="1.1" />
<line x1="394.50" y1="177.80" x2="394.50" y2="178.20" stroke="#000" stroke-width="1.1" />
<line x1="355.93" y1="141.00" x2="377.53" y2="141.00" stroke="#000" stroke-width="2" />
<path d="M355.50,141.50 L355.50,151.50 L352.50,151.50 L352.50,172.50" stroke="#000" stroke-width="1.4" fill="none" stroke-linejoin="miter"/>
<path d="M377.50,141.50 L377.50,151.50 L381.50,151.50 L381.50,172.50" stroke="#000" stroke-width="1.4" fill="none" stroke-linejoin="miter"/>
<line x1="355.93" y1="143.50" x2="377.53" y2="143.50" stroke="#000" stroke-width="1" />
<line x1="357.63" y1="145.50" x2="375.83" y2="145.50" stroke="#000" stroke-width="1" />
<path d="M357.50,145.50 L357.50,152.50 L353.50,152.50 L353.50,165.50" stroke="#000" stroke-width="1" fill="none" stroke-linejoin="miter"/>
<path d="M375.50,145.50 L375.50,152.50 L379.50,152.50 L379.50,165.50" stroke="#000" stroke-width="1" fill="none" stroke-linejoin="miter"/>
<path d="M352.50,165.50 L381.50,165.50" stroke="#000" stroke-width="1.2" fill="none" stroke-linejoin="miter"/>
<path d="M352.50,172.50 L381.50,172.50" stroke="#000" stroke-width="1.2" fill="none" stroke-linejoin="miter"/>
<rect x="335.00" y="145.00" width="15.00" height="8.00" stroke="#000" stroke-width="1.6" fill="none"/>
<rect x="384.00" y="145.00" width="14.00" height="8.00" stroke="#000" stroke-width="1.6" fill="none"/>
<line x1="339.33" y1="158.50" x2="352.03" y2="158.50" stroke="#000" stroke-width="1.1" />
<line x1="339.33" y1="163.50" x2="352.03" y2="163.50" stroke="#000" stroke-width="1.1" />
<line x1="381.43" y1="158.50" x2="394.33" y2="158.50" stroke="#000" stroke-width="1.1" />
<line x1="381.43" y1="163.50" x2="394.33" y2="163.50" stroke="#000" stroke-width="1.1" />
<rect x="348.50" y="177.50" width="3.00" height="13.00" stroke="#000" stroke-width="1.1" fill="none"/>
<rect x="353.50" y="177.50" width="3.00" height="13.00" stroke="#000" stroke-width="1.1" fill="none"/>
<rect x="358.50" y="177.50" width="3.00" height="13.00" stroke="#000" stroke-width="1.1" fill="none"/>
<rect x="362.50" y="177.50" width="3.00" height="13.00" stroke="#000" stroke-width="1.1" fill="none"/>
<rect x="367.50" y="177.50" width="3.00" height="13.00" stroke="#000" stroke-width="1.1" fill="none"/>
<rect x="372.50" y="177.50" width="3.00" height="13.00" stroke="#000" stroke-width="1.1" fill="none"/>
<rect x="377.50" y="177.50" width="3.00" height="13.00" stroke="#000" stroke-width="1.1" fill="none"/>
<rect x="382.50" y="177.50" width="3.00" height="13.00" stroke="#000" stroke-width="1.1" fill="none"/>
<rect x="340.50" y="187.50" width="6.00" height="3.00" stroke="#000" stroke-width="1" fill="none"/>
<rect x="387.50" y="187.50" width="6.00" height="3.00" stroke="#000" stroke-width="1" fill="none"/>
<line x1="345.03" y1="201.50" x2="388.83" y2="201.50" stroke="#000" stroke-width="0.9" />
<rect x="344.50" y="201.50" width="4.00" height="11.00" stroke="#000" stroke-width="1" fill="none"/>
<rect x="349.50" y="201.50" width="3.00" height="11.00" stroke="#000" stroke-width="1" fill="none"/>
<rect x="353.50" y="201.50" width="3.00" height="11.00" stroke="#000" stroke-width="1" fill="none"/>
<rect x="358.50" y="201.50" width="3.00" height="11.00" stroke="#000" stroke-width="1" fill="none"/>
<rect x="362.50" y="201.50" width="3.00" height="11.00" stroke="#000" stroke-width="1" fill="none"/>
<rect x="367.50" y="201.50" width="3.00" height="11.00" stroke="#000" stroke-width="1" fill="none"/>
<rect x="371.50" y="201.50" width="3.00" height="11.00" stroke="#000" stroke-width="1" fill="none"/>
<rect x="375.50" y="201.50" width="4.00" height="11.00" stroke="#000" stroke-width="1" fill="none"/>
<rect x="380.50" y="201.50" width="3.00" height="11.00" stroke="#000" stroke-width="1" fill="none"/>
<rect x="384.50" y="201.50" width="4.00" height="11.00" stroke="#000" stroke-width="1" fill="none"/>
<rect x="395.50" y="201.50" width="3.00" height="11.00" stroke="#000" stroke-width="1" fill="none"/>
<rect x="406.50" y="201.50" width="3.00" height="11.00" stroke="#000" stroke-width="1" fill="none"/>
<line x1="366.50" y1="134.50" x2="366.50" y2="216.00" stroke="#8a8a8a" stroke-width="0.8" />
<path d="M427.50,143.50 L404.50,143.50 L404.50,154.50 L409.50,154.50 L409.50,192.50 L467.50,192.50 L467.50,154.50 L472.50,154.50 L472.50,143.50 L449.50,143.50" stroke="#000" stroke-width="1.3" fill="none" stroke-linejoin="miter"/>
<path d="M410.50,178.50 L410.50,190.50 L465.50,190.50 L465.50,178.50" stroke="#000" stroke-width="1.1" fill="none" stroke-linejoin="miter"/>
<line x1="410.50" y1="154.30" x2="410.50" y2="167.90" stroke="#000" stroke-width="1.1" />
<line x1="465.50" y1="154.30" x2="465.50" y2="167.90" stroke="#000" stroke-width="1.1" />
<path d="M409.50,169.50 L413.50,169.50 L413.50,177.50 L409.50,177.50" stroke="#000" stroke-width="1.1" fill="none" stroke-linejoin="miter"/>
<path d="M467.50,169.50 L463.50,169.50 L463.50,177.50 L467.50,177.50" stroke="#000" stroke-width="1.1" fill="none" stroke-linejoin="miter"/>
<line x1="410.50" y1="167.90" x2="410.50" y2="169.60" stroke="#000" stroke-width="1.1" />
<line x1="465.50" y1="167.90" x2="465.50" y2="169.60" stroke="#000" stroke-width="1.1" />
<line x1="410.50" y1="177.80" x2="410.50" y2="178.20" stroke="#000" stroke-width="1.1" />
<line x1="465.50" y1="177.80" x2="465.50" y2="178.20" stroke="#000" stroke-width="1.1" />
<line x1="427.54" y1="141.00" x2="449.13" y2="141.00" stroke="#000" stroke-width="2" />
<path d="M427.50,141.50 L427.50,151.50 L423.50,151.50 L423.50,172.50" stroke="#000" stroke-width="1.4" fill="none" stroke-linejoin="miter"/>
<path d="M449.50,141.50 L449.50,151.50 L453.50,151.50 L453.50,172.50" stroke="#000" stroke-width="1.4" fill="none" stroke-linejoin="miter"/>
<line x1="427.54" y1="143.50" x2="449.13" y2="143.50" stroke="#000" stroke-width="1" />
<line x1="429.24" y1="145.50" x2="447.44" y2="145.50" stroke="#000" stroke-width="1" />
<path d="M429.50,145.50 L429.50,152.50 L425.50,152.50 L425.50,165.50" stroke="#000" stroke-width="1" fill="none" stroke-linejoin="miter"/>
<path d="M447.50,145.50 L447.50,152.50 L451.50,152.50 L451.50,165.50" stroke="#000" stroke-width="1" fill="none" stroke-linejoin="miter"/>
<path d="M423.50,165.50 L453.50,165.50" stroke="#000" stroke-width="1.2" fill="none" stroke-linejoin="miter"/>
<path d="M423.50,172.50 L453.50,172.50" stroke="#000" stroke-width="1.2" fill="none" stroke-linejoin="miter"/>
<rect x="407.00" y="145.00" width="14.00" height="8.00" stroke="#000" stroke-width="1.6" fill="none"/>
<rect x="455.00" y="145.00" width="15.00" height="8.00" stroke="#000" stroke-width="1.6" fill="none"/>
<line x1="410.94" y1="158.50" x2="423.63" y2="158.50" stroke="#000" stroke-width="1.1" />
<line x1="410.94" y1="163.50" x2="423.63" y2="163.50" stroke="#000" stroke-width="1.1" />
<line x1="453.04" y1="158.50" x2="465.94" y2="158.50" stroke="#000" stroke-width="1.1" />
<line x1="453.04" y1="163.50" x2="465.94" y2="163.50" stroke="#000" stroke-width="1.1" />
<rect x="420.50" y="177.50" width="3.00" height="13.00" stroke="#000" stroke-width="1.1" fill="none"/>
<rect x="424.50" y="177.50" width="3.00" height="13.00" stroke="#000" stroke-width="1.1" fill="none"/>
<rect x="429.50" y="177.50" width="3.00" height="13.00" stroke="#000" stroke-width="1.1" fill="none"/>
<rect x="434.50" y="177.50" width="3.00" height="13.00" stroke="#000" stroke-width="1.1" fill="none"/>
<rect x="439.50" y="177.50" width="3.00" height="13.00" stroke="#000" stroke-width="1.1" fill="none"/>
<rect x="444.50" y="177.50" width="3.00" height="13.00" stroke="#000" stroke-width="1.1" fill="none"/>
<rect x="449.50" y="177.50" width="3.00" height="13.00" stroke="#000" stroke-width="1.1" fill="none"/>
<rect x="453.50" y="177.50" width="3.00" height="13.00" stroke="#000" stroke-width="1.1" fill="none"/>
<rect x="411.50" y="187.50" width="7.00" height="3.00" stroke="#000" stroke-width="1" fill="none"/>
<rect x="458.50" y="187.50" width="7.00" height="3.00" stroke="#000" stroke-width="1" fill="none"/>
<line x1="416.63" y1="201.50" x2="460.44" y2="201.50" stroke="#000" stroke-width="0.9" />
<rect x="416.50" y="201.50" width="3.00" height="11.00" stroke="#000" stroke-width="1" fill="none"/>
<rect x="420.50" y="201.50" width="4.00" height="11.00" stroke="#000" stroke-width="1" fill="none"/>
<rect x="425.50" y="201.50" width="3.00" height="11.00" stroke="#000" stroke-width="1" fill="none"/>
<rect x="429.50" y="201.50" width="3.00" height="11.00" stroke="#000" stroke-width="1" fill="none"/>
<rect x="434.50" y="201.50" width="3.00" height="11.00" stroke="#000" stroke-width="1" fill="none"/>
<rect x="438.50" y="201.50" width="3.00" height="11.00" stroke="#000" stroke-width="1" fill="none"/>
<rect x="443.50" y="201.50" width="3.00" height="11.00" stroke="#000" stroke-width="1" fill="none"/>
<rect x="447.50" y="201.50" width="3.00" height="11.00" stroke="#000" stroke-width="1" fill="none"/>
<rect x="452.50" y="201.50" width="3.00" height="11.00" stroke="#000" stroke-width="1" fill="none"/>
<rect x="456.50" y="201.50" width="3.00" height="11.00" stroke="#000" stroke-width="1" fill="none"/>
<line x1="438.50" y1="134.50" x2="438.50" y2="219.00" stroke="#8a8a8a" stroke-width="0.8" />
<path d="M499.50,143.50 L475.50,143.50 L475.50,154.50 L480.50,154.50 L480.50,192.50 L539.50,192.50 L539.50,154.50 L544.50,154.50 L544.50,143.50 L520.50,143.50" stroke="#000" stroke-width="1.3" fill="none" stroke-linejoin="miter"/>
<path d="M482.50,178.50 L482.50,190.50 L537.50,190.50 L537.50,178.50" stroke="#000" stroke-width="1.1" fill="none" stroke-linejoin="miter"/>
<line x1="482.50" y1="154.30" x2="482.50" y2="167.90" stroke="#000" stroke-width="1.1" />
<line x1="537.50" y1="154.30" x2="537.50" y2="167.90" stroke="#000" stroke-width="1.1" />
<path d="M480.50,169.50 L484.50,169.50 L484.50,177.50 L480.50,177.50" stroke="#000" stroke-width="1.1" fill="none" stroke-linejoin="miter"/>
<path d="M539.50,169.50 L535.50,169.50 L535.50,177.50 L539.50,177.50" stroke="#000" stroke-width="1.1" fill="none" stroke-linejoin="miter"/>
<line x1="482.50" y1="167.90" x2="482.50" y2="169.60" stroke="#000" stroke-width="1.1" />
<line x1="537.50" y1="167.90" x2="537.50" y2="169.60" stroke="#000" stroke-width="1.1" />
<line x1="482.50" y1="177.80" x2="482.50" y2="178.20" stroke="#000" stroke-width="1.1" />
<line x1="537.50" y1="177.80" x2="537.50" y2="178.20" stroke="#000" stroke-width="1.1" />
<line x1="499.15" y1="141.00" x2="520.75" y2="141.00" stroke="#000" stroke-width="2" />
<path d="M499.50,141.50 L499.50,151.50 L495.50,151.50 L495.50,172.50" stroke="#000" stroke-width="1.4" fill="none" stroke-linejoin="miter"/>
<path d="M520.50,141.50 L520.50,151.50 L524.50,151.50 L524.50,172.50" stroke="#000" stroke-width="1.4" fill="none" stroke-linejoin="miter"/>
<line x1="499.15" y1="143.50" x2="520.75" y2="143.50" stroke="#000" stroke-width="1" />
<line x1="500.85" y1="145.50" x2="519.05" y2="145.50" stroke="#000" stroke-width="1" />
<path d="M500.50,145.50 L500.50,152.50 L496.50,152.50 L496.50,165.50" stroke="#000" stroke-width="1" fill="none" stroke-linejoin="miter"/>
<path d="M519.50,145.50 L519.50,152.50 L523.50,152.50 L523.50,165.50" stroke="#000" stroke-width="1" fill="none" stroke-linejoin="miter"/>
<path d="M495.50,165.50 L524.50,165.50" stroke="#000" stroke-width="1.2" fill="none" stroke-linejoin="miter"/>
<path d="M495.50,172.50 L524.50,172.50" stroke="#000" stroke-width="1.2" fill="none" stroke-linejoin="miter"/>
<rect x="479.00" y="145.00" width="14.00" height="8.00" stroke="#000" stroke-width="1.6" fill="none"/>
<rect x="527.00" y="145.00" width="14.00" height="8.00" stroke="#000" stroke-width="1.6" fill="none"/>
<line x1="482.55" y1="158.50" x2="495.25" y2="158.50" stroke="#000" stroke-width="1.1" />
<line x1="482.55" y1="163.50" x2="495.25" y2="163.50" stroke="#000" stroke-width="1.1" />
<line x1="524.64" y1="158.50" x2="537.55" y2="158.50" stroke="#000" stroke-width="1.1" />
<line x1="524.64" y1="163.50" x2="537.55" y2="163.50" stroke="#000" stroke-width="1.1" />
<rect x="491.50" y="177.50" width="3.00" height="13.00" stroke="#000" stroke-width="1.1" fill="none"/>
<rect x="496.50" y="177.50" width="3.00" height="13.00" stroke="#000" stroke-width="1.1" fill="none"/>
<rect x="501.50" y="177.50" width="3.00" height="13.00" stroke="#000" stroke-width="1.1" fill="none"/>
<rect x="506.50" y="177.50" width="3.00" height="13.00" stroke="#000" stroke-width="1.1" fill="none"/>
<rect x="510.50" y="177.50" width="3.00" height="13.00" stroke="#000" stroke-width="1.1" fill="none"/>
<rect x="515.50" y="177.50" width="3.00" height="13.00" stroke="#000" stroke-width="1.1" fill="none"/>
<rect x="520.50" y="177.50" width="3.00" height="13.00" stroke="#000" stroke-width="1.1" fill="none"/>
<rect x="525.50" y="177.50" width="3.00" height="13.00" stroke="#000" stroke-width="1.1" fill="none"/>
<rect x="483.50" y="187.50" width="6.00" height="3.00" stroke="#000" stroke-width="1" fill="none"/>
<rect x="530.50" y="187.50" width="6.00" height="3.00" stroke="#000" stroke-width="1" fill="none"/>
<line x1="488.25" y1="201.50" x2="532.05" y2="201.50" stroke="#000" stroke-width="0.9" />
<rect x="488.50" y="201.50" width="3.00" height="11.00" stroke="#000" stroke-width="1" fill="none"/>
<rect x="492.50" y="201.50" width="3.00" height="11.00" stroke="#000" stroke-width="1" fill="none"/>
<rect x="496.50" y="201.50" width="4.00" height="11.00" stroke="#000" stroke-width="1" fill="none"/>
<rect x="501.50" y="201.50" width="3.00" height="11.00" stroke="#000" stroke-width="1" fill="none"/>
<rect x="505.50" y="201.50" width="4.00" height="11.00" stroke="#000" stroke-width="1" fill="none"/>
<rect x="510.50" y="201.50" width="3.00" height="11.00" stroke="#000" stroke-width="1" fill="none"/>
<rect x="514.50" y="201.50" width="3.00" height="11.00" stroke="#000" stroke-width="1" fill="none"/>
<rect x="519.50" y="201.50" width="3.00" height="11.00" stroke="#000" stroke-width="1" fill="none"/>
<rect x="523.50" y="201.50" width="3.00" height="11.00" stroke="#000" stroke-width="1" fill="none"/>
<rect x="528.50" y="201.50" width="3.00" height="11.00" stroke="#000" stroke-width="1" fill="none"/>
<rect x="538.50" y="201.50" width="3.00" height="11.00" stroke="#000" stroke-width="1" fill="none"/>
<rect x="549.50" y="201.50" width="3.00" height="11.00" stroke="#000" stroke-width="1" fill="none"/>
<line x1="510.50" y1="134.50" x2="510.50" y2="219.00" stroke="#8a8a8a" stroke-width="0.8" />
<path d="M570.50,143.50 L547.50,143.50 L547.50,154.50 L552.50,154.50 L552.50,192.50 L610.50,192.50 L610.50,154.50 L615.50,154.50 L615.50,143.50 L592.50,143.50" stroke="#000" stroke-width="1.3" fill="none" stroke-linejoin="miter"/>
<path d="M554.50,178.50 L554.50,190.50 L609.50,190.50 L609.50,178.50" stroke="#000" stroke-width="1.1" fill="none" stroke-linejoin="miter"/>
<line x1="554.50" y1="154.30" x2="554.50" y2="167.90" stroke="#000" stroke-width="1.1" />
<line x1="609.50" y1="154.30" x2="609.50" y2="167.90" stroke="#000" stroke-width="1.1" />
<path d="M552.50,169.50 L556.50,169.50 L556.50,177.50 L552.50,177.50" stroke="#000" stroke-width="1.1" fill="none" stroke-linejoin="miter"/>
<path d="M610.50,169.50 L606.50,169.50 L606.50,177.50 L610.50,177.50" stroke="#000" stroke-width="1.1" fill="none" stroke-linejoin="miter"/>
<line x1="554.50" y1="167.90" x2="554.50" y2="169.60" stroke="#000" stroke-width="1.1" />
<line x1="609.50" y1="167.90" x2="609.50" y2="169.60" stroke="#000" stroke-width="1.1" />
<line x1="554.50" y1="177.80" x2="554.50" y2="178.20" stroke="#000" stroke-width="1.1" />
<line x1="609.50" y1="177.80" x2="609.50" y2="178.20" stroke="#000" stroke-width="1.1" />
<line x1="570.75" y1="141.00" x2="592.36" y2="141.00" stroke="#000" stroke-width="2" />
<path d="M570.50,141.50 L570.50,151.50 L566.50,151.50 L566.50,172.50" stroke="#000" stroke-width="1.4" fill="none" stroke-linejoin="miter"/>
<path d="M592.50,141.50 L592.50,151.50 L596.50,151.50 L596.50,172.50" stroke="#000" stroke-width="1.4" fill="none" stroke-linejoin="miter"/>
<line x1="570.75" y1="143.50" x2="592.36" y2="143.50" stroke="#000" stroke-width="1" />
<line x1="572.45" y1="145.50" x2="590.65" y2="145.50" stroke="#000" stroke-width="1" />
<path d="M572.50,145.50 L572.50,152.50 L568.50,152.50 L568.50,165.50" stroke="#000" stroke-width="1" fill="none" stroke-linejoin="miter"/>
<path d="M590.50,145.50 L590.50,152.50 L594.50,152.50 L594.50,165.50" stroke="#000" stroke-width="1" fill="none" stroke-linejoin="miter"/>
<path d="M566.50,165.50 L596.50,165.50" stroke="#000" stroke-width="1.2" fill="none" stroke-linejoin="miter"/>
<path d="M566.50,172.50 L596.50,172.50" stroke="#000" stroke-width="1.2" fill="none" stroke-linejoin="miter"/>
<rect x="550.00" y="145.00" width="15.00" height="8.00" stroke="#000" stroke-width="1.6" fill="none"/>
<rect x="598.00" y="145.00" width="15.00" height="8.00" stroke="#000" stroke-width="1.6" fill="none"/>
<line x1="554.15" y1="158.50" x2="566.86" y2="158.50" stroke="#000" stroke-width="1.1" />
<line x1="554.15" y1="163.50" x2="566.86" y2="163.50" stroke="#000" stroke-width="1.1" />
<line x1="596.25" y1="158.50" x2="609.15" y2="158.50" stroke="#000" stroke-width="1.1" />
<line x1="596.25" y1="163.50" x2="609.15" y2="163.50" stroke="#000" stroke-width="1.1" />
<rect x="563.50" y="177.50" width="3.00" height="13.00" stroke="#000" stroke-width="1.1" fill="none"/>
<rect x="568.50" y="177.50" width="3.00" height="13.00" stroke="#000" stroke-width="1.1" fill="none"/>
<rect x="572.50" y="177.50" width="3.00" height="13.00" stroke="#000" stroke-width="1.1" fill="none"/>
<rect x="577.50" y="177.50" width="3.00" height="13.00" stroke="#000" stroke-width="1.1" fill="none"/>
<rect x="582.50" y="177.50" width="3.00" height="13.00" stroke="#000" stroke-width="1.1" fill="none"/>
<rect x="587.50" y="177.50" width="3.00" height="13.00" stroke="#000" stroke-width="1.1" fill="none"/>
<rect x="592.50" y="177.50" width="3.00" height="13.00" stroke="#000" stroke-width="1.1" fill="none"/>
<rect x="597.50" y="177.50" width="3.00" height="13.00" stroke="#000" stroke-width="1.1" fill="none"/>
<rect x="555.50" y="187.50" width="6.00" height="3.00" stroke="#000" stroke-width="1" fill="none"/>
<rect x="601.50" y="187.50" width="7.00" height="3.00" stroke="#000" stroke-width="1" fill="none"/>
<line x1="559.86" y1="201.50" x2="603.65" y2="201.50" stroke="#000" stroke-width="0.9" />
<rect x="559.50" y="201.50" width="3.00" height="11.00" stroke="#000" stroke-width="1" fill="none"/>
<rect x="564.50" y="201.50" width="3.00" height="11.00" stroke="#000" stroke-width="1" fill="none"/>
<rect x="568.50" y="201.50" width="3.00" height="11.00" stroke="#000" stroke-width="1" fill="none"/>
<rect x="573.50" y="201.50" width="3.00" height="11.00" stroke="#000" stroke-width="1" fill="none"/>
<rect x="577.50" y="201.50" width="3.00" height="11.00" stroke="#000" stroke-width="1" fill="none"/>
<rect x="581.50" y="201.50" width="4.00" height="11.00" stroke="#000" stroke-width="1" fill="none"/>
<rect x="586.50" y="201.50" width="3.00" height="11.00" stroke="#000" stroke-width="1" fill="none"/>
<rect x="590.50" y="201.50" width="4.00" height="11.00" stroke="#000" stroke-width="1" fill="none"/>
<rect x="595.50" y="201.50" width="3.00" height="11.00" stroke="#000" stroke-width="1" fill="none"/>
<rect x="599.50" y="201.50" width="3.00" height="11.00" stroke="#000" stroke-width="1" fill="none"/>
<rect x="610.50" y="201.50" width="3.00" height="11.00" stroke="#000" stroke-width="1" fill="none"/>
<rect x="621.50" y="201.50" width="3.00" height="11.00" stroke="#000" stroke-width="1" fill="none"/>
<line x1="581.50" y1="134.50" x2="581.50" y2="216.00" stroke="#8a8a8a" stroke-width="0.8" />
<path d="M642.50,143.50 L618.50,143.50 L618.50,154.50 L624.50,154.50 L624.50,192.50 L682.50,192.50 L682.50,154.50 L687.50,154.50 L687.50,143.50 L663.50,143.50" stroke="#000" stroke-width="1.3" fill="none" stroke-linejoin="miter"/>
<path d="M625.50,178.50 L625.50,190.50 L680.50,190.50 L680.50,178.50" stroke="#000" stroke-width="1.1" fill="none" stroke-linejoin="miter"/>
<line x1="625.50" y1="154.30" x2="625.50" y2="167.90" stroke="#000" stroke-width="1.1" />
<line x1="680.50" y1="154.30" x2="680.50" y2="167.90" stroke="#000" stroke-width="1.1" />
<path d="M624.50,169.50 L628.50,169.50 L628.50,177.50 L624.50,177.50" stroke="#000" stroke-width="1.1" fill="none" stroke-linejoin="miter"/>
<path d="M682.50,169.50 L678.50,169.50 L678.50,177.50 L682.50,177.50" stroke="#000" stroke-width="1.1" fill="none" stroke-linejoin="miter"/>
<line x1="625.50" y1="167.90" x2="625.50" y2="169.60" stroke="#000" stroke-width="1.1" />
<line x1="680.50" y1="167.90" x2="680.50" y2="169.60" stroke="#000" stroke-width="1.1" />
<line x1="625.50" y1="177.80" x2="625.50" y2="178.20" stroke="#000" stroke-width="1.1" />
<line x1="680.50" y1="177.80" x2="680.50" y2="178.20" stroke="#000" stroke-width="1.1" />
<line x1="642.37" y1="141.00" x2="663.97" y2="141.00" stroke="#000" stroke-width="2" />
<path d="M642.50,141.50 L642.50,151.50 L638.50,151.50 L638.50,172.50" stroke="#000" stroke-width="1.4" fill="none" stroke-linejoin="miter"/>
<path d="M663.50,141.50 L663.50,151.50 L667.50,151.50 L667.50,172.50" stroke="#000" stroke-width="1.4" fill="none" stroke-linejoin="miter"/>
<line x1="642.37" y1="143.50" x2="663.97" y2="143.50" stroke="#000" stroke-width="1" />
<line x1="644.06" y1="145.50" x2="662.26" y2="145.50" stroke="#000" stroke-width="1" />
<path d="M644.50,145.50 L644.50,152.50 L640.50,152.50 L640.50,165.50" stroke="#000" stroke-width="1" fill="none" stroke-linejoin="miter"/>
<path d="M662.50,145.50 L662.50,152.50 L666.50,152.50 L666.50,165.50" stroke="#000" stroke-width="1" fill="none" stroke-linejoin="miter"/>
<path d="M638.50,165.50 L667.50,165.50" stroke="#000" stroke-width="1.2" fill="none" stroke-linejoin="miter"/>
<path d="M638.50,172.50 L667.50,172.50" stroke="#000" stroke-width="1.2" fill="none" stroke-linejoin="miter"/>
<rect x="622.00" y="145.00" width="14.00" height="8.00" stroke="#000" stroke-width="1.6" fill="none"/>
<rect x="670.00" y="145.00" width="15.00" height="8.00" stroke="#000" stroke-width="1.6" fill="none"/>
<line x1="625.76" y1="158.50" x2="638.47" y2="158.50" stroke="#000" stroke-width="1.1" />
<line x1="625.76" y1="163.50" x2="638.47" y2="163.50" stroke="#000" stroke-width="1.1" />
<line x1="667.87" y1="158.50" x2="680.76" y2="158.50" stroke="#000" stroke-width="1.1" />
<line x1="667.87" y1="163.50" x2="680.76" y2="163.50" stroke="#000" stroke-width="1.1" />
<rect x="634.50" y="177.50" width="3.00" height="13.00" stroke="#000" stroke-width="1.1" fill="none"/>
<rect x="639.50" y="177.50" width="3.00" height="13.00" stroke="#000" stroke-width="1.1" fill="none"/>
<rect x="644.50" y="177.50" width="3.00" height="13.00" stroke="#000" stroke-width="1.1" fill="none"/>
<rect x="649.50" y="177.50" width="3.00" height="13.00" stroke="#000" stroke-width="1.1" fill="none"/>
<rect x="654.50" y="177.50" width="3.00" height="13.00" stroke="#000" stroke-width="1.1" fill="none"/>
<rect x="659.50" y="177.50" width="3.00" height="13.00" stroke="#000" stroke-width="1.1" fill="none"/>
<rect x="663.50" y="177.50" width="3.00" height="13.00" stroke="#000" stroke-width="1.1" fill="none"/>
<rect x="668.50" y="177.50" width="3.00" height="13.00" stroke="#000" stroke-width="1.1" fill="none"/>
<rect x="626.50" y="187.50" width="7.00" height="3.00" stroke="#000" stroke-width="1" fill="none"/>
<rect x="673.50" y="187.50" width="6.00" height="3.00" stroke="#000" stroke-width="1" fill="none"/>
<line x1="631.47" y1="201.50" x2="675.26" y2="201.50" stroke="#000" stroke-width="0.9" />
<rect x="631.50" y="201.50" width="3.00" height="11.00" stroke="#000" stroke-width="1" fill="none"/>
<rect x="635.50" y="201.50" width="3.00" height="11.00" stroke="#000" stroke-width="1" fill="none"/>
<rect x="640.50" y="201.50" width="3.00" height="11.00" stroke="#000" stroke-width="1" fill="none"/>
<rect x="644.50" y="201.50" width="3.00" height="11.00" stroke="#000" stroke-width="1" fill="none"/>
<rect x="649.50" y="201.50" width="3.00" height="11.00" stroke="#000" stroke-width="1" fill="none"/>
<rect x="653.50" y="201.50" width="3.00" height="11.00" stroke="#000" stroke-width="1" fill="none"/>
<rect x="657.50" y="201.50" width="4.00" height="11.00" stroke="#000" stroke-width="1" fill="none"/>
<rect x="662.50" y="201.50" width="3.00" height="11.00" stroke="#000" stroke-width="1" fill="none"/>
<rect x="666.50" y="201.50" width="4.00" height="11.00" stroke="#000" stroke-width="1" fill="none"/>
<rect x="671.50" y="201.50" width="3.00" height="11.00" stroke="#000" stroke-width="1" fill="none"/>
<rect x="682.50" y="201.50" width="3.00" height="11.00" stroke="#000" stroke-width="1" fill="none"/>
<rect x="692.50" y="201.50" width="3.00" height="11.00" stroke="#000" stroke-width="1" fill="none"/>
<line x1="653.50" y1="134.50" x2="653.50" y2="216.00" stroke="#8a8a8a" stroke-width="0.8" />
<path d="M713.50,143.50 L690.50,143.50 L690.50,154.50 L695.50,154.50 L695.50,192.50 L754.50,192.50 L754.50,154.50 L759.50,154.50 L759.50,143.50 L735.50,143.50" stroke="#000" stroke-width="1.3" fill="none" stroke-linejoin="miter"/>
<path d="M697.50,178.50 L697.50,190.50 L752.50,190.50 L752.50,178.50" stroke="#000" stroke-width="1.1" fill="none" stroke-linejoin="miter"/>
<line x1="697.50" y1="154.30" x2="697.50" y2="167.90" stroke="#000" stroke-width="1.1" />
<line x1="752.50" y1="154.30" x2="752.50" y2="167.90" stroke="#000" stroke-width="1.1" />
<path d="M695.50,169.50 L699.50,169.50 L699.50,177.50 L695.50,177.50" stroke="#000" stroke-width="1.1" fill="none" stroke-linejoin="miter"/>
<path d="M754.50,169.50 L750.50,169.50 L750.50,177.50 L754.50,177.50" stroke="#000" stroke-width="1.1" fill="none" stroke-linejoin="miter"/>
<line x1="697.50" y1="167.90" x2="697.50" y2="169.60" stroke="#000" stroke-width="1.1" />
<line x1="752.50" y1="167.90" x2="752.50" y2="169.60" stroke="#000" stroke-width="1.1" />
<line x1="697.50" y1="177.80" x2="697.50" y2="178.20" stroke="#000" stroke-width="1.1" />
<line x1="752.50" y1="177.80" x2="752.50" y2="178.20" stroke="#000" stroke-width="1.1" />
<line x1="713.98" y1="141.00" x2="735.58" y2="141.00" stroke="#000" stroke-width="2" />
<path d="M713.50,141.50 L713.50,151.50 L710.50,151.50 L710.50,172.50" stroke="#000" stroke-width="1.4" fill="none" stroke-linejoin="miter"/>
<path d="M735.50,141.50 L735.50,151.50 L739.50,151.50 L739.50,172.50" stroke="#000" stroke-width="1.4" fill="none" stroke-linejoin="miter"/>
<line x1="713.98" y1="143.50" x2="735.58" y2="143.50" stroke="#000" stroke-width="1" />
<line x1="715.67" y1="145.50" x2="733.88" y2="145.50" stroke="#000" stroke-width="1" />
<path d="M715.50,145.50 L715.50,152.50 L711.50,152.50 L711.50,165.50" stroke="#000" stroke-width="1" fill="none" stroke-linejoin="miter"/>
<path d="M733.50,145.50 L733.50,152.50 L737.50,152.50 L737.50,165.50" stroke="#000" stroke-width="1" fill="none" stroke-linejoin="miter"/>
<path d="M710.50,165.50 L739.50,165.50" stroke="#000" stroke-width="1.2" fill="none" stroke-linejoin="miter"/>
<path d="M710.50,172.50 L739.50,172.50" stroke="#000" stroke-width="1.2" fill="none" stroke-linejoin="miter"/>
<rect x="693.00" y="145.00" width="15.00" height="8.00" stroke="#000" stroke-width="1.6" fill="none"/>
<rect x="742.00" y="145.00" width="14.00" height="8.00" stroke="#000" stroke-width="1.6" fill="none"/>
<line x1="697.38" y1="158.50" x2="710.08" y2="158.50" stroke="#000" stroke-width="1.1" />
<line x1="697.38" y1="163.50" x2="710.08" y2="163.50" stroke="#000" stroke-width="1.1" />
<line x1="739.48" y1="158.50" x2="752.38" y2="158.50" stroke="#000" stroke-width="1.1" />
<line x1="739.48" y1="163.50" x2="752.38" y2="163.50" stroke="#000" stroke-width="1.1" />
<rect x="706.50" y="177.50" width="3.00" height="13.00" stroke="#000" stroke-width="1.1" fill="none"/>
<rect x="711.50" y="177.50" width="3.00" height="13.00" stroke="#000" stroke-width="1.1" fill="none"/>
<rect x="716.50" y="177.50" width="3.00" height="13.00" stroke="#000" stroke-width="1.1" fill="none"/>
<rect x="720.50" y="177.50" width="3.00" height="13.00" stroke="#000" stroke-width="1.1" fill="none"/>
<rect x="725.50" y="177.50" width="3.00" height="13.00" stroke="#000" stroke-width="1.1" fill="none"/>
<rect x="730.50" y="177.50" width="3.00" height="13.00" stroke="#000" stroke-width="1.1" fill="none"/>
<rect x="735.50" y="177.50" width="3.00" height="13.00" stroke="#000" stroke-width="1.1" fill="none"/>
<rect x="740.50" y="177.50" width="3.00" height="13.00" stroke="#000" stroke-width="1.1" fill="none"/>
<rect x="698.50" y="187.50" width="6.00" height="3.00" stroke="#000" stroke-width="1" fill="none"/>
<rect x="745.50" y="187.50" width="6.00" height="3.00" stroke="#000" stroke-width="1" fill="none"/>
<line x1="703.08" y1="201.50" x2="746.88" y2="201.50" stroke="#000" stroke-width="0.9" />
<rect x="702.50" y="201.50" width="4.00" height="11.00" stroke="#000" stroke-width="1" fill="none"/>
<rect x="707.50" y="201.50" width="3.00" height="11.00" stroke="#000" stroke-width="1" fill="none"/>
<rect x="711.50" y="201.50" width="3.00" height="11.00" stroke="#000" stroke-width="1" fill="none"/>
<rect x="716.50" y="201.50" width="3.00" height="11.00" stroke="#000" stroke-width="1" fill="none"/>
<rect x="720.50" y="201.50" width="3.00" height="11.00" stroke="#000" stroke-width="1" fill="none"/>
<rect x="725.50" y="201.50" width="3.00" height="11.00" stroke="#000" stroke-width="1" fill="none"/>
<rect x="729.50" y="201.50" width="3.00" height="11.00" stroke="#000" stroke-width="1" fill="none"/>
<rect x="734.50" y="201.50" width="3.00" height="11.00" stroke="#000" stroke-width="1" fill="none"/>
<rect x="738.50" y="201.50" width="3.00" height="11.00" stroke="#000" stroke-width="1" fill="none"/>
<rect x="742.50" y="201.50" width="4.00" height="11.00" stroke="#000" stroke-width="1" fill="none"/>
<line x1="724.50" y1="134.50" x2="724.50" y2="219.00" stroke="#8a8a8a" stroke-width="0.8" />
<path d="M185.7,200.3 H199 V211.5 H185.7" stroke="#000" stroke-width="1" fill="none" />
<line x1="186.70" y1="212.00" x2="199.00" y2="212.00" stroke="#000" stroke-width="1.8" />
<path d="M188.5,212 V217 H199 V212" stroke="#000" stroke-width="1" fill="none" />
<path d="M762.0,200.3 H748.5 V211.5 H762.0" stroke="#000" stroke-width="1" fill="none" />
<line x1="748.50" y1="212.00" x2="761.00" y2="212.00" stroke="#000" stroke-width="1.8" />
<path d="M759.5,212 V217 H748.5 V212" stroke="#000" stroke-width="1" fill="none" />
<path d="M435.4,212.7 V215 Q435.4,217.7 437.9,217.7 H438.5 Q441.0,217.7 441.0,215 V212.7" stroke="#000" stroke-width="1.1" fill="none" />
<path d="M507.0,212.7 V215 Q507.0,217.7 509.5,217.7 H510.0 Q512.5,217.7 512.5,215 V212.7" stroke="#000" stroke-width="1.1" fill="none" />
<path d="M467.50,200.50 L467.50,212.50 L481.50,212.50 L481.50,200.50" stroke="#000" stroke-width="1.1" fill="none" stroke-linejoin="miter"/>
<line x1="469.50" y1="200.60" x2="469.50" y2="212.70" stroke="#000" stroke-width="1" />
<line x1="479.50" y1="200.60" x2="479.50" y2="212.70" stroke="#000" stroke-width="1" />
<path d="M469.2,212.7 V215 Q469.2,217.2 471.5,217.2 H477.3 Q479.6,217.2 479.6,215 V212.7" stroke="#000" stroke-width="1.1" fill="none" />
<line x1="474.50" y1="122.00" x2="474.50" y2="218.00" stroke="#8a8a8a" stroke-width="0.8" />
<line x1="438.50" y1="218.00" x2="438.50" y2="240.00" stroke="#333" stroke-width="0.8" />
<line x1="509.50" y1="218.00" x2="509.50" y2="240.00" stroke="#333" stroke-width="0.8" />
<line x1="438.63" y1="232.50" x2="509.55" y2="232.50" stroke="#333" stroke-width="0.9" />
<path d="M438.63,232.10 L440.63,231.35 L445.83,231.35 L445.83,233.85 L440.63,233.85 L438.63,233.10 Z" fill="#222"/>
<path d="M509.55,232.10 L507.55,231.35 L502.35,231.35 L502.35,233.85 L507.55,233.85 L509.55,233.10 Z" fill="#222"/>
<g transform="translate(465.70,222.80)"><path d="M0.44,1.36 L1.62,0.00 L1.62,6.20 M0.44,6.20 L2.80,6.20 M6.94,0.00 L4.13,0.00 L3.99,2.60 L6.20,2.60 L6.94,3.60 L6.94,5.27 L6.20,6.20 L3.99,6.20 M9.76,0.00 L12.71,0.00 L10.80,6.20 M16.70,0.00 L13.90,0.00 L13.75,2.60 L15.96,2.60 L16.70,3.60 L16.70,5.27 L15.96,6.20 L13.75,6.20" stroke="#111" stroke-width="0.95" fill="none" stroke-linejoin="round" stroke-linecap="square"/><rect x="8.15" y="5.20" width="0.95" height="1.00" fill="#111"/></g>
<line x1="223.50" y1="213.00" x2="223.50" y2="252.50" stroke="#333" stroke-width="0.8" />
<line x1="724.50" y1="213.00" x2="724.50" y2="252.50" stroke="#333" stroke-width="0.8" />
<line x1="223.61" y1="247.50" x2="724.88" y2="247.50" stroke="#333" stroke-width="0.9" />
<path d="M223.61,246.80 L225.61,246.05 L230.81,246.05 L230.81,248.55 L225.61,248.55 L223.61,247.80 Z" fill="#222"/>
<path d="M724.88,246.80 L722.88,246.05 L717.67,246.05 L717.67,248.55 L722.88,248.55 L724.88,247.80 Z" fill="#222"/>
<g transform="translate(462.60,238.40)"><path d="M0.00,0.00 L2.82,0.00 L0.99,6.20 M3.81,0.00 L6.63,6.20 M6.63,0.00 L3.81,6.20 M8.05,1.36 L9.18,0.00 L9.18,6.20 M8.05,6.20 L10.31,6.20 M14.26,0.00 L11.58,0.00 L11.44,2.60 L13.55,2.60 L14.26,3.60 L14.26,5.27 L13.55,6.20 L11.44,6.20 M16.97,0.00 L19.79,0.00 L17.95,6.20 M23.60,0.00 L20.92,0.00 L20.78,2.60 L22.89,2.60 L23.60,3.60 L23.60,5.27 L22.89,6.20 L20.78,6.20" stroke="#111" stroke-width="0.95" fill="none" stroke-linejoin="round" stroke-linecap="square"/><rect x="15.40" y="5.20" width="0.95" height="1.00" fill="#111"/></g>
<line x1="185.50" y1="221.00" x2="185.50" y2="269.50" stroke="#333" stroke-width="0.8" />
<line x1="762.50" y1="221.00" x2="762.50" y2="269.50" stroke="#333" stroke-width="0.8" />
<line x1="185.70" y1="264.50" x2="762.00" y2="264.50" stroke="#333" stroke-width="0.9" />
<path d="M185.70,263.70 L187.70,262.95 L192.90,262.95 L192.90,265.45 L187.70,265.45 L185.70,264.70 Z" fill="#222"/>
<path d="M762.00,263.70 L760.00,262.95 L754.80,262.95 L754.80,265.45 L760.00,265.45 L762.00,264.70 Z" fill="#222"/>
<g transform="translate(466.00,255.20)"><path d="M0.44,1.34 L1.60,0.00 L1.60,6.10 M0.44,6.10 L2.77,6.10 M3.94,1.10 L4.52,0.00 L6.27,0.00 L6.85,1.10 L6.85,2.32 L3.94,6.10 L6.85,6.10 M10.35,0.00 L8.75,0.00 L7.88,1.83 L7.88,5.19 L8.46,6.10 L10.21,6.10 L10.79,5.19 L10.79,3.66 L10.21,2.75 L7.88,2.75 M16.50,0.00 L13.73,0.00 L13.59,2.56 L15.77,2.56 L16.50,3.54 L16.50,5.19 L15.77,6.10 L13.59,6.10" stroke="#111" stroke-width="0.95" fill="none" stroke-linejoin="round" stroke-linecap="square"/><rect x="11.98" y="5.10" width="0.95" height="1.00" fill="#111"/></g>
<line x1="64.50" y1="104.30" x2="64.50" y2="228.50" stroke="#222" stroke-width="0.9" />
<line x1="135.50" y1="104.30" x2="135.50" y2="140.90" stroke="#222" stroke-width="0.9" />
<line x1="64.60" y1="141.00" x2="135.80" y2="141.00" stroke="#000" stroke-width="1.5" />
<line x1="136.00" y1="140.90" x2="136.00" y2="218.00" stroke="#000" stroke-width="1.8" />
<line x1="5.50" y1="200.50" x2="160.50" y2="200.50" stroke="#000" stroke-width="1" />
<line x1="135.80" y1="140.50" x2="158.60" y2="140.50" stroke="#222" stroke-width="0.9" />
<path d="M65.4,140.2 L72,138.3 M73,137.9 L81.5,136.3 M82.5,136 L92.5,135.2 L95.5,133.4" stroke="#000" stroke-width="1.7" fill="none" />
<line x1="64.60" y1="110.50" x2="135.80" y2="110.50" stroke="#333" stroke-width="0.9" />
<path d="M64.60,109.70 L66.60,108.95 L71.80,108.95 L71.80,111.45 L66.60,111.45 L64.60,110.70 Z" fill="#222"/>
<path d="M135.80,109.70 L133.80,108.95 L128.60,108.95 L128.60,111.45 L133.80,111.45 L135.80,110.70 Z" fill="#222"/>
<g transform="translate(88.00,99.00)"><path d="M0.44,1.30 L1.61,0.00 L1.61,5.90 M0.44,5.90 L2.79,5.90 M6.89,0.00 L4.11,0.00 L3.96,2.48 L6.16,2.48 L6.89,3.42 L6.89,5.02 L6.16,5.90 L3.96,5.90 M9.71,0.00 L12.64,0.00 L10.73,5.90 M16.60,0.00 L13.81,0.00 L13.67,2.48 L15.87,2.48 L16.60,3.42 L16.60,5.02 L15.87,5.90 L13.67,5.90" stroke="#111" stroke-width="0.95" fill="none" stroke-linejoin="round" stroke-linecap="square"/><rect x="8.10" y="4.90" width="0.95" height="1.00" fill="#111"/></g>
<line x1="104.60" y1="104.50" x2="108.20" y2="104.50" stroke="#222" stroke-width="1" />
<rect x="108.2" y="97.2" width="1.6" height="9.4" fill="#111"/>
<g transform="translate(110.70,101.80)"><path d="M0.27,0.92 L0.99,0.00 L0.99,4.20 M0.27,4.20 L1.71,4.20" stroke="#111" stroke-width="0.95" fill="none" stroke-linejoin="round" stroke-linecap="square"/></g>
<line x1="108.20" y1="106.50" x2="112.80" y2="106.50" stroke="#222" stroke-width="0.9" />
<line x1="113.60" y1="140.30" x2="147.80" y2="92.00" stroke="#222" stroke-width="0.9" />
<line x1="147.80" y1="92.50" x2="156.50" y2="92.50" stroke="#222" stroke-width="0.9" />
<g transform="translate(159.80,90.20)"><path d="M1.01,-0.11 L0.40,1.38 L0.40,4.12 L1.01,5.61 M1.82,0.00 L3.16,0.00 L2.42,2.31 L2.89,2.31 L3.16,3.19 L3.16,4.67 L2.89,5.50 L2.09,5.50 L1.82,4.67 M3.97,0.00 L4.65,0.00 L4.98,0.82 L4.98,4.67 L4.65,5.50 L3.97,5.50 L3.64,4.67 L3.64,0.82 L3.97,0.00 M5.79,-0.11 L6.40,1.38 L6.40,4.12 L5.79,5.61" stroke="#000" stroke-width="0.95" fill="none" stroke-linejoin="round" stroke-linecap="square"/></g>
<line x1="125.40" y1="150.70" x2="153.20" y2="115.20" stroke="#222" stroke-width="0.9" />
<line x1="153.20" y1="115.50" x2="161.00" y2="115.50" stroke="#222" stroke-width="0.9" />
<g transform="translate(166.00,112.60)"><path d="M1.30,-0.10 L0.52,1.25 L0.52,3.75 L1.30,5.10 M2.60,1.10 L3.29,0.00 L3.29,5.00 M2.60,5.00 L3.98,5.00 M5.10,-0.10 L5.88,1.25 L5.88,3.75 L5.10,5.10" stroke="#000" stroke-width="0.95" fill="none" stroke-linejoin="round" stroke-linecap="square"/></g>
<path d="M68.50,156.50 L100.50,156.50 L100.50,167.50 L68.50,167.50" stroke="#000" stroke-width="1.1" fill="none" stroke-linejoin="miter"/>
<path d="M69.50,158.50 L93.50,158.50" stroke="#000" stroke-width="1.1" fill="none" stroke-linejoin="miter"/>
<path d="M94.50,160.50 L94.50,164.50" stroke="#000" stroke-width="1.1" fill="none" stroke-linejoin="miter"/>
<path d="M93.5,158.5 Q94.5,158.5 94.5,160.5 M94.5,164.5 Q94.5,165.5 93.3,165.5" stroke="#000" stroke-width="1.1" fill="none" />
<path d="M93.50,165.50 L87.50,165.50 L87.50,166.50 L69.50,166.50" stroke="#000" stroke-width="1.1" fill="none" stroke-linejoin="miter"/>
<path d="M69.8,155.6 L67.3,157.0 L69.8,158.39999999999998" stroke="#000" stroke-width="1" fill="none" />
<path d="M69.8,166.39999999999998 L67.3,167.79999999999998 L69.8,169.2" stroke="#000" stroke-width="1" fill="none" />
<path d="M68.50,179.50 L100.50,179.50 L100.50,191.50 L68.50,191.50" stroke="#000" stroke-width="1.1" fill="none" stroke-linejoin="miter"/>
<path d="M69.50,181.50 L93.50,181.50" stroke="#000" stroke-width="1.1" fill="none" stroke-linejoin="miter"/>
<path d="M94.50,183.50 L94.50,187.50" stroke="#000" stroke-width="1.1" fill="none" stroke-linejoin="miter"/>
<path d="M93.5,181.5 Q94.5,181.5 94.5,183.5 M94.5,187.5 Q94.5,189.5 93.3,189.5" stroke="#000" stroke-width="1.1" fill="none" />
<path d="M93.50,189.50 L87.50,189.50 L87.50,189.50 L69.50,189.50" stroke="#000" stroke-width="1.1" fill="none" stroke-linejoin="miter"/>
<path d="M69.8,178.79999999999998 L67.3,180.2 L69.8,181.59999999999997" stroke="#000" stroke-width="1" fill="none" />
<path d="M69.8,189.59999999999997 L67.3,190.99999999999997 L69.8,192.39999999999998" stroke="#000" stroke-width="1" fill="none" />
<path d="M135.4,170.4 H116.8 Q115.5,170.4 115.5,171.6 V172.8 Q115.5,174 116.8,174 H135.4" stroke="#000" stroke-width="1.1" fill="none" />
<path d="M117.4,174 V197.2 M120.6,174 V197.2 M121.4,174 V197.2" stroke="#000" stroke-width="1" fill="none" />
<rect x="124.50" y="180.50" width="6.00" height="11.00" stroke="#000" stroke-width="1.1" fill="none"/>
<path d="M135.4,197.2 H116.8 Q115.5,197.2 115.5,198.4 V200.4" stroke="#000" stroke-width="1.1" fill="none" />
<path d="M82.50,200.50 L82.50,216.50 L87.50,216.50 L87.50,200.50" stroke="#000" stroke-width="1" fill="none" stroke-linejoin="miter"/>
<line x1="85.50" y1="200.40" x2="85.50" y2="216.80" stroke="#000" stroke-width="1" />
<rect x="80.8" y="207.6" width="2.4" height="1.8" fill="#000"/>
<path d="M91.50,200.50 L91.50,216.50 L97.50,216.50 L97.50,200.50" stroke="#000" stroke-width="1" fill="none" stroke-linejoin="miter"/>
<line x1="93.50" y1="200.40" x2="93.50" y2="216.80" stroke="#000" stroke-width="1" />
<path d="M95.6,200.9 V207.3 L93.6,210.2 L95.6,213.0" stroke="#000" stroke-width="1" fill="none" />
<path d="M101.00,200.00 L101.00,215.00" stroke="#000" stroke-width="1.6" fill="none" stroke-linejoin="miter"/>
<path d="M101.0,214.8 Q101.6,217.3 103.6,217.3 H106.8 Q108.8,217.3 109.3,214.8" stroke="#000" stroke-width="1.1" fill="none" />
<path d="M109.50,200.50 L109.50,214.50" stroke="#000" stroke-width="1.1" fill="none" stroke-linejoin="miter"/>
<path d="M130.50,200.50 L130.50,212.50 L133.50,212.50" stroke="#000" stroke-width="1" fill="none" stroke-linejoin="miter"/>
<line x1="131.50" y1="200.40" x2="131.50" y2="212.50" stroke="#000" stroke-width="1" />
<line x1="64.60" y1="212.50" x2="100.70" y2="212.50" stroke="#222" stroke-width="0.9" />
<line x1="5.50" y1="217.50" x2="90.00" y2="217.50" stroke="#222" stroke-width="0.9" />
<line x1="90.50" y1="196.40" x2="90.50" y2="296.00" stroke="#222" stroke-width="0.9" />
<line x1="101.50" y1="216.00" x2="101.50" y2="249.50" stroke="#222" stroke-width="0.9" />
<line x1="105.50" y1="196.40" x2="105.50" y2="259.50" stroke="#222" stroke-width="0.9" />
<line x1="109.50" y1="216.00" x2="109.50" y2="267.00" stroke="#222" stroke-width="0.9" />
<line x1="131.50" y1="198.50" x2="131.50" y2="284.00" stroke="#222" stroke-width="0.9" />
<line x1="135.50" y1="216.00" x2="135.50" y2="296.00" stroke="#222" stroke-width="0.9" />
<line x1="64.60" y1="227.50" x2="90.00" y2="227.50" stroke="#333" stroke-width="0.9" />
<path d="M64.60,227.00 L66.60,226.25 L71.80,226.25 L71.80,228.75 L66.60,228.75 L64.60,228.00 Z" fill="#222"/>
<path d="M90.00,227.00 L88.00,226.25 L82.80,226.25 L82.80,228.75 L88.00,228.75 L90.00,228.00 Z" fill="#222"/>
<g transform="translate(70.70,219.00)"><path d="M3.11,0.00 L0.16,0.00 L0.00,2.52 L2.33,2.52 L3.11,3.48 L3.11,5.10 L2.33,6.00 L0.00,6.00 M8.42,6.00 L8.42,0.00 L6.09,4.08 L9.20,4.08 M12.93,0.00 L11.22,0.00 L10.29,1.80 L10.29,5.10 L10.91,6.00 L12.78,6.00 L13.40,5.10 L13.40,3.60 L12.78,2.70 L10.29,2.70" stroke="#111" stroke-width="0.95" fill="none" stroke-linejoin="round" stroke-linecap="square"/><rect x="4.41" y="5.00" width="0.95" height="1.00" fill="#111"/></g>
<line x1="55.00" y1="243.50" x2="116.90" y2="243.50" stroke="#333" stroke-width="0.9" />
<path d="M90.00,242.70 L88.00,241.95 L82.80,241.95 L82.80,244.45 L88.00,244.45 L90.00,243.70 Z" fill="#222"/>
<path d="M101.00,242.70 L103.00,241.95 L108.20,241.95 L108.20,244.45 L103.00,244.45 L101.00,243.70 Z" fill="#222"/>
<g transform="translate(58.00,234.60)"><path d="M0.00,1.01 L0.63,0.00 L2.51,0.00 L3.13,1.01 L3.13,2.13 L0.00,5.60 L3.13,5.60 M9.27,0.00 L6.29,0.00 L6.14,2.35 L8.49,2.35 L9.27,3.25 L9.27,4.76 L8.49,5.60 L6.14,5.60 M12.72,5.60 L12.72,0.00 L10.37,3.81 L13.50,3.81" stroke="#111" stroke-width="0.95" fill="none" stroke-linejoin="round" stroke-linecap="square"/><rect x="4.45" y="4.60" width="0.95" height="1.00" fill="#111"/></g>
<line x1="55.00" y1="253.50" x2="120.70" y2="253.50" stroke="#333" stroke-width="0.9" />
<path d="M90.00,253.00 L88.00,252.25 L82.80,252.25 L82.80,254.75 L88.00,254.75 L90.00,254.00 Z" fill="#222"/>
<path d="M105.60,253.00 L107.60,252.25 L112.80,252.25 L112.80,254.75 L107.60,254.75 L105.60,254.00 Z" fill="#222"/>
<g transform="translate(58.00,244.80)"><path d="M0.00,0.00 L3.13,0.00 L1.41,2.35 L2.51,2.35 L3.13,3.25 L3.13,4.76 L2.51,5.60 L0.63,5.60 L0.00,4.76 M8.49,5.60 L8.49,0.00 L6.14,3.81 L9.27,3.81 M10.37,0.00 L13.50,0.00 L11.78,2.35 L12.87,2.35 L13.50,3.25 L13.50,4.76 L12.87,5.60 L10.99,5.60 L10.37,4.76" stroke="#111" stroke-width="0.95" fill="none" stroke-linejoin="round" stroke-linecap="square"/><rect x="4.45" y="4.60" width="0.95" height="1.00" fill="#111"/></g>
<line x1="55.00" y1="265.50" x2="124.60" y2="265.50" stroke="#333" stroke-width="0.9" />
<path d="M90.00,264.90 L88.00,264.15 L82.80,264.15 L82.80,266.65 L88.00,266.65 L90.00,265.90 Z" fill="#222"/>
<path d="M109.30,264.90 L111.30,264.15 L116.50,264.15 L116.50,266.65 L111.30,266.65 L109.30,265.90 Z" fill="#222"/>
<g transform="translate(58.00,256.20)"><path d="M2.35,5.60 L2.35,0.00 L0.00,3.81 L3.13,3.81 M6.14,0.00 L9.27,0.00 L7.55,2.35 L8.64,2.35 L9.27,3.25 L9.27,4.76 L8.64,5.60 L6.76,5.60 L6.14,4.76 M10.37,1.01 L10.99,0.00 L12.87,0.00 L13.50,1.01 L13.50,2.13 L10.37,5.60 L13.50,5.60" stroke="#111" stroke-width="0.95" fill="none" stroke-linejoin="round" stroke-linecap="square"/><rect x="4.45" y="4.60" width="0.95" height="1.00" fill="#111"/></g>
<line x1="89.50" y1="278.50" x2="131.30" y2="278.50" stroke="#333" stroke-width="0.9" />
<path d="M90.00,277.70 L92.00,276.95 L97.20,276.95 L97.20,279.45 L92.00,279.45 L90.00,278.70 Z" fill="#222"/>
<path d="M131.30,277.70 L129.30,276.95 L124.10,276.95 L124.10,279.45 L129.30,279.45 L131.30,278.70 Z" fill="#222"/>
<g transform="translate(105.00,269.00)"><path d="M2.62,3.30 L0.52,3.30 L0.00,2.40 L0.00,0.90 L0.52,0.00 L2.10,0.00 L2.62,0.90 L2.62,4.20 L1.83,6.00 L0.39,6.00 M5.53,1.32 L6.58,0.00 L6.58,6.00 M5.53,6.00 L7.63,6.00 M10.64,6.00 L10.64,0.00 L8.68,4.08 L11.30,4.08" stroke="#111" stroke-width="0.95" fill="none" stroke-linejoin="round" stroke-linecap="square"/><rect x="3.65" y="5.00" width="0.95" height="1.00" fill="#111"/></g>
<line x1="89.50" y1="289.50" x2="135.20" y2="289.50" stroke="#333" stroke-width="0.9" />
<path d="M90.00,289.20 L92.00,288.45 L97.20,288.45 L97.20,290.95 L92.00,290.95 L90.00,290.20 Z" fill="#222"/>
<path d="M135.20,289.20 L133.20,288.45 L128.00,288.45 L128.00,290.95 L133.20,290.95 L135.20,290.20 Z" fill="#222"/>
<g transform="translate(105.70,281.60)"><path d="M0.37,1.23 L1.35,0.00 L1.35,5.60 M0.37,5.60 L2.33,5.60 M3.93,0.00 L5.16,0.00 L5.77,0.84 L5.77,4.76 L5.16,5.60 L3.93,5.60 L3.32,4.76 L3.32,0.84 L3.93,0.00 M8.50,1.23 L9.48,0.00 L9.48,5.60 M8.50,5.60 L10.46,5.60 M13.53,0.00 L12.18,0.00 L11.45,1.68 L11.45,4.76 L11.94,5.60 L13.41,5.60 L13.90,4.76 L13.90,3.36 L13.41,2.52 L11.45,2.52" stroke="#111" stroke-width="0.95" fill="none" stroke-linejoin="round" stroke-linecap="square"/><rect x="6.71" y="4.60" width="0.95" height="1.00" fill="#111"/></g>
<line x1="136.20" y1="215.50" x2="157.00" y2="236.20" stroke="#222" stroke-width="0.9" />
<line x1="157.00" y1="236.50" x2="165.60" y2="236.50" stroke="#222" stroke-width="0.9" />
<g transform="translate(169.20,233.40)"><path d="M1.50,-0.12 L0.60,1.50 L0.60,4.50 L1.50,6.12 M2.70,1.08 L3.10,0.00 L4.30,0.00 L4.70,1.08 L4.70,2.28 L2.70,6.00 L4.70,6.00 M5.90,-0.12 L6.80,1.50 L6.80,4.50 L5.90,6.12" stroke="#000" stroke-width="0.95" fill="none" stroke-linejoin="round" stroke-linecap="square"/></g>
<line x1="152.50" y1="140.90" x2="152.50" y2="200.40" stroke="#333" stroke-width="0.9" />
<path d="M151.90,140.90 L151.15,142.90 L151.15,148.10 L153.65,148.10 L153.65,142.90 L152.90,140.90 Z" fill="#222"/>
<path d="M151.90,200.40 L151.15,198.40 L151.15,193.20 L153.65,193.20 L153.65,198.40 L152.90,200.40 Z" fill="#222"/>
<g transform="matrix(0,-1,1,0,140.30,183.00)"><path d="M0.42,1.12 L1.53,0.00 L1.53,5.10 M0.42,5.10 L2.63,5.10 M3.75,0.00 L6.52,0.00 L4.99,2.14 L5.97,2.14 L6.52,2.96 L6.52,4.33 L5.97,5.10 L4.30,5.10 L3.75,4.33 M11.26,5.10 L11.26,0.00 L9.18,3.47 L11.95,3.47 M15.28,0.00 L13.76,0.00 L12.93,1.53 L12.93,4.33 L13.48,5.10 L15.15,5.10 L15.70,4.33 L15.70,3.06 L15.15,2.29 L12.93,2.29" stroke="#111" stroke-width="0.95" fill="none" stroke-linejoin="round" stroke-linecap="square"/><rect x="7.63" y="4.10" width="0.95" height="1.00" fill="#111"/></g>
<rect x="139.5" y="162.3" width="7.2" height="1.6" fill="#111"/>
<line x1="145.50" y1="163.90" x2="145.50" y2="167.30" stroke="#222" stroke-width="1" />
<g transform="matrix(0,-1,1,0,145.60,161.60)"><path d="M0.51,0.44 L1.87,0.00 L1.87,2.00 M0.51,2.00 L3.23,2.00" stroke="#111" stroke-width="0.95" fill="none" stroke-linejoin="round" stroke-linecap="square"/></g>
<line x1="147.50" y1="157.80" x2="147.50" y2="162.30" stroke="#222" stroke-width="0.9" />
<line x1="12.50" y1="164.00" x2="12.50" y2="232.50" stroke="#333" stroke-width="0.9" />
<path d="M12.00,200.40 L11.25,198.40 L11.25,193.20 L13.75,193.20 L13.75,198.40 L13.00,200.40 Z" fill="#222"/>
<path d="M12.00,217.30 L11.25,219.30 L11.25,224.50 L13.75,224.50 L13.75,219.30 L13.00,217.30 Z" fill="#222"/>
<g transform="matrix(0,-1,1,0,3.50,181.50)"><path d="M0.00,0.00 L2.85,0.00 L1.28,2.27 L2.28,2.27 L2.85,3.13 L2.85,4.59 L2.28,5.40 L0.57,5.40 L0.00,4.59 M8.02,0.00 L6.45,0.00 L5.59,1.62 L5.59,4.59 L6.16,5.40 L7.87,5.40 L8.44,4.59 L8.44,3.24 L7.87,2.43 L5.59,2.43 M11.73,2.54 L12.30,1.89 L12.30,0.65 L11.73,0.00 L10.02,0.00 L9.45,0.65 L9.45,1.89 L10.02,2.54 L11.73,2.54 L12.30,3.24 L12.30,4.75 L11.73,5.40 L10.02,5.40 L9.45,4.75 L9.45,3.24 L10.02,2.54" stroke="#111" stroke-width="0.95" fill="none" stroke-linejoin="round" stroke-linecap="square"/><rect x="4.01" y="4.40" width="0.95" height="1.00" fill="#111"/></g>
<line x1="30.50" y1="151.20" x2="30.50" y2="232.50" stroke="#333" stroke-width="0.9" />
<path d="M30.00,200.40 L29.25,198.40 L29.25,193.20 L31.75,193.20 L31.75,198.40 L31.00,200.40 Z" fill="#222"/>
<path d="M30.00,217.30 L29.25,219.30 L29.25,224.50 L31.75,224.50 L31.75,219.30 L31.00,217.30 Z" fill="#222"/>
<g transform="matrix(0,-1,1,0,20.30,181.50)"><path d="M0.00,0.00 L2.43,0.00 L1.09,2.48 L1.94,2.48 L2.43,3.42 L2.43,5.01 L1.94,5.90 L0.49,5.90 L0.00,5.01 M7.19,0.00 L4.89,0.00 L4.76,2.48 L6.59,2.48 L7.19,3.42 L7.19,5.01 L6.59,5.90 L4.76,5.90 M9.87,5.90 L9.87,0.00 L8.05,4.01 L10.48,4.01 M12.55,0.71 L12.55,3.66 M11.46,2.18 L13.64,2.18 M11.46,5.19 L13.64,5.19 M15.23,0.00 L16.44,0.00 L17.05,0.88 L17.05,5.01 L16.44,5.90 L15.23,5.90 L14.62,5.01 L14.62,0.88 L15.23,0.00 M19.99,0.00 L21.21,0.00 L21.81,0.88 L21.81,5.01 L21.21,5.90 L19.99,5.90 L19.38,5.01 L19.38,0.88 L19.99,0.00 M25.10,0.00 L22.79,0.00 L22.67,2.48 L24.49,2.48 L25.10,3.42 L25.10,5.01 L24.49,5.90 L22.67,5.90" stroke="#111" stroke-width="0.95" fill="none" stroke-linejoin="round" stroke-linecap="square"/><rect x="3.35" y="4.90" width="0.95" height="1.00" fill="#111"/><rect x="17.97" y="4.90" width="0.95" height="1.00" fill="#111"/></g>
<line x1="47.50" y1="151.20" x2="47.50" y2="221.50" stroke="#333" stroke-width="0.9" />
<path d="M46.80,200.40 L46.05,198.40 L46.05,193.20 L48.55,193.20 L48.55,198.40 L47.80,200.40 Z" fill="#222"/>
<path d="M46.80,212.50 L46.05,214.50 L46.05,219.70 L48.55,219.70 L48.55,214.50 L47.80,212.50 Z" fill="#222"/>
<g transform="matrix(0,-1,1,0,37.60,181.50)"><path d="M0.00,1.06 L0.56,0.00 L2.24,0.00 L2.80,1.06 L2.80,2.24 L0.00,5.90 L2.80,5.90 M7.86,0.00 L6.32,0.00 L5.48,1.77 L5.48,5.01 L6.04,5.90 L7.72,5.90 L8.28,5.01 L8.28,3.54 L7.72,2.65 L5.48,2.65 M9.26,1.06 L9.82,0.00 L11.50,0.00 L12.06,1.06 L12.06,2.24 L9.26,5.90 L12.06,5.90 M14.44,0.71 L14.44,3.66 M13.18,2.18 L15.70,2.18 M13.18,5.19 L15.70,5.19 M17.52,0.00 L18.92,0.00 L19.62,0.88 L19.62,5.01 L18.92,5.90 L17.52,5.90 L16.82,5.01 L16.82,0.88 L17.52,0.00 M22.30,1.06 L22.86,0.00 L24.54,0.00 L25.10,1.06 L25.10,2.24 L22.30,5.90 L25.10,5.90" stroke="#111" stroke-width="0.95" fill="none" stroke-linejoin="round" stroke-linecap="square"/><rect x="3.93" y="4.90" width="0.95" height="1.00" fill="#111"/><rect x="20.75" y="4.90" width="0.95" height="1.00" fill="#111"/></g>
<line x1="42.50" y1="212.50" x2="64.60" y2="212.50" stroke="#222" stroke-width="0.9" />
<line x1="146.55" y1="337.50" x2="155.15" y2="337.50" stroke="#555" stroke-width="0.8" />
<line x1="150.85" y1="333.20" x2="150.85" y2="341.80" stroke="#555" stroke-width="0.8" />
<circle cx="150.85" cy="337.50" r="2.40" stroke="#000" stroke-width="1.0" fill="none"/>
<line x1="156.35" y1="337.50" x2="164.95" y2="337.50" stroke="#555" stroke-width="0.8" />
<line x1="160.65" y1="333.20" x2="160.65" y2="341.80" stroke="#555" stroke-width="0.8" />
<circle cx="160.65" cy="337.50" r="2.40" stroke="#000" stroke-width="1.0" fill="none"/>
<line x1="150.75" y1="329.40" x2="154.35" y2="329.40" stroke="#ccc" stroke-width="0.8" />
<line x1="152.55" y1="327.60" x2="152.55" y2="331.20" stroke="#ccc" stroke-width="0.8" />
<line x1="156.65" y1="329.50" x2="160.45" y2="329.50" stroke="#ccc" stroke-width="0.8" />
<line x1="198.10" y1="337.50" x2="206.70" y2="337.50" stroke="#555" stroke-width="0.8" />
<line x1="202.40" y1="333.20" x2="202.40" y2="341.80" stroke="#555" stroke-width="0.8" />
<circle cx="202.40" cy="337.50" r="2.40" stroke="#000" stroke-width="1.0" fill="none"/>
<line x1="208.60" y1="337.50" x2="217.20" y2="337.50" stroke="#555" stroke-width="0.8" />
<line x1="212.90" y1="333.20" x2="212.90" y2="341.80" stroke="#555" stroke-width="0.8" />
<circle cx="212.90" cy="337.50" r="2.40" stroke="#000" stroke-width="1.0" fill="none"/>
<line x1="218.30" y1="337.50" x2="226.90" y2="337.50" stroke="#555" stroke-width="0.8" />
<line x1="222.60" y1="333.20" x2="222.60" y2="341.80" stroke="#555" stroke-width="0.8" />
<circle cx="222.60" cy="337.50" r="2.40" stroke="#000" stroke-width="1.0" fill="none"/>
<line x1="228.10" y1="337.50" x2="236.70" y2="337.50" stroke="#555" stroke-width="0.8" />
<line x1="232.40" y1="333.20" x2="232.40" y2="341.80" stroke="#555" stroke-width="0.8" />
<circle cx="232.40" cy="337.50" r="2.40" stroke="#000" stroke-width="1.0" fill="none"/>
<line x1="202.90" y1="329.40" x2="206.50" y2="329.40" stroke="#ccc" stroke-width="0.8" />
<line x1="204.70" y1="327.60" x2="204.70" y2="331.20" stroke="#ccc" stroke-width="0.8" />
<line x1="208.90" y1="329.50" x2="212.70" y2="329.50" stroke="#ccc" stroke-width="0.8" />
<line x1="222.50" y1="329.40" x2="226.10" y2="329.40" stroke="#ccc" stroke-width="0.8" />
<line x1="224.30" y1="327.60" x2="224.30" y2="331.20" stroke="#ccc" stroke-width="0.8" />
<line x1="228.40" y1="329.50" x2="232.20" y2="329.50" stroke="#ccc" stroke-width="0.8" />
<line x1="269.85" y1="337.50" x2="278.45" y2="337.50" stroke="#555" stroke-width="0.8" />
<line x1="274.15" y1="333.20" x2="274.15" y2="341.80" stroke="#555" stroke-width="0.8" />
<circle cx="274.15" cy="337.50" r="2.40" stroke="#000" stroke-width="1.0" fill="none"/>
<line x1="280.35" y1="337.50" x2="288.95" y2="337.50" stroke="#555" stroke-width="0.8" />
<line x1="284.65" y1="333.20" x2="284.65" y2="341.80" stroke="#555" stroke-width="0.8" />
<circle cx="284.65" cy="337.50" r="2.40" stroke="#000" stroke-width="1.0" fill="none"/>
<line x1="290.05" y1="337.50" x2="298.65" y2="337.50" stroke="#555" stroke-width="0.8" />
<line x1="294.35" y1="333.20" x2="294.35" y2="341.80" stroke="#555" stroke-width="0.8" />
<circle cx="294.35" cy="337.50" r="2.40" stroke="#000" stroke-width="1.0" fill="none"/>
<line x1="299.85" y1="337.50" x2="308.45" y2="337.50" stroke="#555" stroke-width="0.8" />
<line x1="304.15" y1="333.20" x2="304.15" y2="341.80" stroke="#555" stroke-width="0.8" />
<circle cx="304.15" cy="337.50" r="2.40" stroke="#000" stroke-width="1.0" fill="none"/>
<line x1="274.65" y1="329.40" x2="278.25" y2="329.40" stroke="#ccc" stroke-width="0.8" />
<line x1="276.45" y1="327.60" x2="276.45" y2="331.20" stroke="#ccc" stroke-width="0.8" />
<line x1="280.65" y1="329.50" x2="284.45" y2="329.50" stroke="#ccc" stroke-width="0.8" />
<line x1="294.25" y1="329.40" x2="297.85" y2="329.40" stroke="#ccc" stroke-width="0.8" />
<line x1="296.05" y1="327.60" x2="296.05" y2="331.20" stroke="#ccc" stroke-width="0.8" />
<line x1="300.15" y1="329.50" x2="303.95" y2="329.50" stroke="#ccc" stroke-width="0.8" />
<line x1="341.60" y1="337.50" x2="350.20" y2="337.50" stroke="#555" stroke-width="0.8" />
<line x1="345.90" y1="333.20" x2="345.90" y2="341.80" stroke="#555" stroke-width="0.8" />
<circle cx="345.90" cy="337.50" r="2.40" stroke="#000" stroke-width="1.0" fill="none"/>
<line x1="352.10" y1="337.50" x2="360.70" y2="337.50" stroke="#555" stroke-width="0.8" />
<line x1="356.40" y1="333.20" x2="356.40" y2="341.80" stroke="#555" stroke-width="0.8" />
<circle cx="356.40" cy="337.50" r="2.40" stroke="#000" stroke-width="1.0" fill="none"/>
<line x1="361.80" y1="337.50" x2="370.40" y2="337.50" stroke="#555" stroke-width="0.8" />
<line x1="366.10" y1="333.20" x2="366.10" y2="341.80" stroke="#555" stroke-width="0.8" />
<circle cx="366.10" cy="337.50" r="2.40" stroke="#000" stroke-width="1.0" fill="none"/>
<line x1="371.60" y1="337.50" x2="380.20" y2="337.50" stroke="#555" stroke-width="0.8" />
<line x1="375.90" y1="333.20" x2="375.90" y2="341.80" stroke="#555" stroke-width="0.8" />
<circle cx="375.90" cy="337.50" r="2.40" stroke="#000" stroke-width="1.0" fill="none"/>
<line x1="346.40" y1="329.40" x2="350.00" y2="329.40" stroke="#ccc" stroke-width="0.8" />
<line x1="348.20" y1="327.60" x2="348.20" y2="331.20" stroke="#ccc" stroke-width="0.8" />
<line x1="352.40" y1="329.50" x2="356.20" y2="329.50" stroke="#ccc" stroke-width="0.8" />
<line x1="366.00" y1="329.40" x2="369.60" y2="329.40" stroke="#ccc" stroke-width="0.8" />
<line x1="367.80" y1="327.60" x2="367.80" y2="331.20" stroke="#ccc" stroke-width="0.8" />
<line x1="371.90" y1="329.50" x2="375.70" y2="329.50" stroke="#ccc" stroke-width="0.8" />
<line x1="413.35" y1="337.50" x2="421.95" y2="337.50" stroke="#555" stroke-width="0.8" />
<line x1="417.65" y1="333.20" x2="417.65" y2="341.80" stroke="#555" stroke-width="0.8" />
<circle cx="417.65" cy="337.50" r="2.40" stroke="#000" stroke-width="1.0" fill="none"/>
<line x1="423.85" y1="337.50" x2="432.45" y2="337.50" stroke="#555" stroke-width="0.8" />
<line x1="428.15" y1="333.20" x2="428.15" y2="341.80" stroke="#555" stroke-width="0.8" />
<circle cx="428.15" cy="337.50" r="2.40" stroke="#000" stroke-width="1.0" fill="none"/>
<line x1="433.55" y1="337.50" x2="442.15" y2="337.50" stroke="#555" stroke-width="0.8" />
<line x1="437.85" y1="333.20" x2="437.85" y2="341.80" stroke="#555" stroke-width="0.8" />
<circle cx="437.85" cy="337.50" r="2.40" stroke="#000" stroke-width="1.0" fill="none"/>
<line x1="443.35" y1="337.50" x2="451.95" y2="337.50" stroke="#555" stroke-width="0.8" />
<line x1="447.65" y1="333.20" x2="447.65" y2="341.80" stroke="#555" stroke-width="0.8" />
<circle cx="447.65" cy="337.50" r="2.40" stroke="#000" stroke-width="1.0" fill="none"/>
<line x1="418.15" y1="329.40" x2="421.75" y2="329.40" stroke="#ccc" stroke-width="0.8" />
<line x1="419.95" y1="327.60" x2="419.95" y2="331.20" stroke="#ccc" stroke-width="0.8" />
<line x1="424.15" y1="329.50" x2="427.95" y2="329.50" stroke="#ccc" stroke-width="0.8" />
<line x1="437.75" y1="329.40" x2="441.35" y2="329.40" stroke="#ccc" stroke-width="0.8" />
<line x1="439.55" y1="327.60" x2="439.55" y2="331.20" stroke="#ccc" stroke-width="0.8" />
<line x1="443.65" y1="329.50" x2="447.45" y2="329.50" stroke="#ccc" stroke-width="0.8" />
<line x1="485.10" y1="337.50" x2="493.70" y2="337.50" stroke="#555" stroke-width="0.8" />
<line x1="489.40" y1="333.20" x2="489.40" y2="341.80" stroke="#555" stroke-width="0.8" />
<circle cx="489.40" cy="337.50" r="2.40" stroke="#000" stroke-width="1.0" fill="none"/>
<line x1="495.60" y1="337.50" x2="504.20" y2="337.50" stroke="#555" stroke-width="0.8" />
<line x1="499.90" y1="333.20" x2="499.90" y2="341.80" stroke="#555" stroke-width="0.8" />
<circle cx="499.90" cy="337.50" r="2.40" stroke="#000" stroke-width="1.0" fill="none"/>
<line x1="505.30" y1="337.50" x2="513.90" y2="337.50" stroke="#555" stroke-width="0.8" />
<line x1="509.60" y1="333.20" x2="509.60" y2="341.80" stroke="#555" stroke-width="0.8" />
<circle cx="509.60" cy="337.50" r="2.40" stroke="#000" stroke-width="1.0" fill="none"/>
<line x1="515.10" y1="337.50" x2="523.70" y2="337.50" stroke="#555" stroke-width="0.8" />
<line x1="519.40" y1="333.20" x2="519.40" y2="341.80" stroke="#555" stroke-width="0.8" />
<circle cx="519.40" cy="337.50" r="2.40" stroke="#000" stroke-width="1.0" fill="none"/>
<line x1="489.90" y1="329.40" x2="493.50" y2="329.40" stroke="#ccc" stroke-width="0.8" />
<line x1="491.70" y1="327.60" x2="491.70" y2="331.20" stroke="#ccc" stroke-width="0.8" />
<line x1="495.90" y1="329.50" x2="499.70" y2="329.50" stroke="#ccc" stroke-width="0.8" />
<line x1="509.50" y1="329.40" x2="513.10" y2="329.40" stroke="#ccc" stroke-width="0.8" />
<line x1="511.30" y1="327.60" x2="511.30" y2="331.20" stroke="#ccc" stroke-width="0.8" />
<line x1="515.40" y1="329.50" x2="519.20" y2="329.50" stroke="#ccc" stroke-width="0.8" />
<line x1="556.85" y1="337.50" x2="565.45" y2="337.50" stroke="#555" stroke-width="0.8" />
<line x1="561.15" y1="333.20" x2="561.15" y2="341.80" stroke="#555" stroke-width="0.8" />
<circle cx="561.15" cy="337.50" r="2.40" stroke="#000" stroke-width="1.0" fill="none"/>
<line x1="567.35" y1="337.50" x2="575.95" y2="337.50" stroke="#555" stroke-width="0.8" />
<line x1="571.65" y1="333.20" x2="571.65" y2="341.80" stroke="#555" stroke-width="0.8" />
<circle cx="571.65" cy="337.50" r="2.40" stroke="#000" stroke-width="1.0" fill="none"/>
<line x1="577.05" y1="337.50" x2="585.65" y2="337.50" stroke="#555" stroke-width="0.8" />
<line x1="581.35" y1="333.20" x2="581.35" y2="341.80" stroke="#555" stroke-width="0.8" />
<circle cx="581.35" cy="337.50" r="2.40" stroke="#000" stroke-width="1.0" fill="none"/>
<line x1="586.85" y1="337.50" x2="595.45" y2="337.50" stroke="#555" stroke-width="0.8" />
<line x1="591.15" y1="333.20" x2="591.15" y2="341.80" stroke="#555" stroke-width="0.8" />
<circle cx="591.15" cy="337.50" r="2.40" stroke="#000" stroke-width="1.0" fill="none"/>
<line x1="561.65" y1="329.40" x2="565.25" y2="329.40" stroke="#ccc" stroke-width="0.8" />
<line x1="563.45" y1="327.60" x2="563.45" y2="331.20" stroke="#ccc" stroke-width="0.8" />
<line x1="567.65" y1="329.50" x2="571.45" y2="329.50" stroke="#ccc" stroke-width="0.8" />
<line x1="581.25" y1="329.40" x2="584.85" y2="329.40" stroke="#ccc" stroke-width="0.8" />
<line x1="583.05" y1="327.60" x2="583.05" y2="331.20" stroke="#ccc" stroke-width="0.8" />
<line x1="587.15" y1="329.50" x2="590.95" y2="329.50" stroke="#ccc" stroke-width="0.8" />
<line x1="628.60" y1="337.50" x2="637.20" y2="337.50" stroke="#555" stroke-width="0.8" />
<line x1="632.90" y1="333.20" x2="632.90" y2="341.80" stroke="#555" stroke-width="0.8" />
<circle cx="632.90" cy="337.50" r="2.40" stroke="#000" stroke-width="1.0" fill="none"/>
<line x1="639.10" y1="337.50" x2="647.70" y2="337.50" stroke="#555" stroke-width="0.8" />
<line x1="643.40" y1="333.20" x2="643.40" y2="341.80" stroke="#555" stroke-width="0.8" />
<circle cx="643.40" cy="337.50" r="2.40" stroke="#000" stroke-width="1.0" fill="none"/>
<line x1="648.80" y1="337.50" x2="657.40" y2="337.50" stroke="#555" stroke-width="0.8" />
<line x1="653.10" y1="333.20" x2="653.10" y2="341.80" stroke="#555" stroke-width="0.8" />
<circle cx="653.10" cy="337.50" r="2.40" stroke="#000" stroke-width="1.0" fill="none"/>
<line x1="658.60" y1="337.50" x2="667.20" y2="337.50" stroke="#555" stroke-width="0.8" />
<line x1="662.90" y1="333.20" x2="662.90" y2="341.80" stroke="#555" stroke-width="0.8" />
<circle cx="662.90" cy="337.50" r="2.40" stroke="#000" stroke-width="1.0" fill="none"/>
<line x1="633.40" y1="329.40" x2="637.00" y2="329.40" stroke="#ccc" stroke-width="0.8" />
<line x1="635.20" y1="327.60" x2="635.20" y2="331.20" stroke="#ccc" stroke-width="0.8" />
<line x1="639.40" y1="329.50" x2="643.20" y2="329.50" stroke="#ccc" stroke-width="0.8" />
<line x1="653.00" y1="329.40" x2="656.60" y2="329.40" stroke="#ccc" stroke-width="0.8" />
<line x1="654.80" y1="327.60" x2="654.80" y2="331.20" stroke="#ccc" stroke-width="0.8" />
<line x1="658.90" y1="329.50" x2="662.70" y2="329.50" stroke="#ccc" stroke-width="0.8" />
<line x1="700.35" y1="337.50" x2="708.95" y2="337.50" stroke="#555" stroke-width="0.8" />
<line x1="704.65" y1="333.20" x2="704.65" y2="341.80" stroke="#555" stroke-width="0.8" />
<circle cx="704.65" cy="337.50" r="2.40" stroke="#000" stroke-width="1.0" fill="none"/>
<line x1="710.85" y1="337.50" x2="719.45" y2="337.50" stroke="#555" stroke-width="0.8" />
<line x1="715.15" y1="333.20" x2="715.15" y2="341.80" stroke="#555" stroke-width="0.8" />
<circle cx="715.15" cy="337.50" r="2.40" stroke="#000" stroke-width="1.0" fill="none"/>
<line x1="705.15" y1="329.40" x2="708.75" y2="329.40" stroke="#ccc" stroke-width="0.8" />
<line x1="706.95" y1="327.60" x2="706.95" y2="331.20" stroke="#ccc" stroke-width="0.8" />
<line x1="711.15" y1="329.50" x2="714.95" y2="329.50" stroke="#ccc" stroke-width="0.8" />
<line x1="161.30" y1="359.20" x2="169.90" y2="359.20" stroke="#555" stroke-width="0.8" />
<line x1="165.60" y1="354.90" x2="165.60" y2="363.50" stroke="#555" stroke-width="0.8" />
<circle cx="165.60" cy="359.20" r="2.40" stroke="#000" stroke-width="1.0" fill="none"/>
<line x1="170.60" y1="359.20" x2="179.20" y2="359.20" stroke="#555" stroke-width="0.8" />
<line x1="174.90" y1="354.90" x2="174.90" y2="363.50" stroke="#555" stroke-width="0.8" />
<circle cx="174.90" cy="359.20" r="2.40" stroke="#000" stroke-width="1.0" fill="none"/>
<line x1="179.90" y1="359.20" x2="188.50" y2="359.20" stroke="#555" stroke-width="0.8" />
<line x1="184.20" y1="354.90" x2="184.20" y2="363.50" stroke="#555" stroke-width="0.8" />
<circle cx="184.20" cy="359.20" r="2.40" stroke="#000" stroke-width="1.0" fill="none"/>
<line x1="189.20" y1="359.20" x2="197.80" y2="359.20" stroke="#555" stroke-width="0.8" />
<line x1="193.50" y1="354.90" x2="193.50" y2="363.50" stroke="#555" stroke-width="0.8" />
<circle cx="193.50" cy="359.20" r="2.40" stroke="#000" stroke-width="1.0" fill="none"/>
<line x1="166.20" y1="367.30" x2="174.80" y2="367.30" stroke="#555" stroke-width="0.8" />
<line x1="170.50" y1="363.00" x2="170.50" y2="371.60" stroke="#555" stroke-width="0.8" />
<circle cx="170.50" cy="367.30" r="2.40" stroke="#000" stroke-width="1.0" fill="none"/>
<line x1="175.30" y1="367.30" x2="183.90" y2="367.30" stroke="#555" stroke-width="0.8" />
<line x1="179.60" y1="363.00" x2="179.60" y2="371.60" stroke="#555" stroke-width="0.8" />
<circle cx="179.60" cy="367.30" r="2.40" stroke="#000" stroke-width="1.0" fill="none"/>
<line x1="184.50" y1="367.30" x2="193.10" y2="367.30" stroke="#555" stroke-width="0.8" />
<line x1="188.80" y1="363.00" x2="188.80" y2="371.60" stroke="#555" stroke-width="0.8" />
<circle cx="188.80" cy="367.30" r="2.40" stroke="#000" stroke-width="1.0" fill="none"/>
<line x1="194.10" y1="367.30" x2="202.70" y2="367.30" stroke="#555" stroke-width="0.8" />
<line x1="198.40" y1="363.00" x2="198.40" y2="371.60" stroke="#555" stroke-width="0.8" />
<circle cx="198.40" cy="367.30" r="2.40" stroke="#000" stroke-width="1.0" fill="none"/>
<line x1="232.95" y1="359.20" x2="241.55" y2="359.20" stroke="#555" stroke-width="0.8" />
<line x1="237.25" y1="354.90" x2="237.25" y2="363.50" stroke="#555" stroke-width="0.8" />
<circle cx="237.25" cy="359.20" r="2.40" stroke="#000" stroke-width="1.0" fill="none"/>
<line x1="242.25" y1="359.20" x2="250.85" y2="359.20" stroke="#555" stroke-width="0.8" />
<line x1="246.55" y1="354.90" x2="246.55" y2="363.50" stroke="#555" stroke-width="0.8" />
<circle cx="246.55" cy="359.20" r="2.40" stroke="#000" stroke-width="1.0" fill="none"/>
<line x1="251.55" y1="359.20" x2="260.15" y2="359.20" stroke="#555" stroke-width="0.8" />
<line x1="255.85" y1="354.90" x2="255.85" y2="363.50" stroke="#555" stroke-width="0.8" />
<circle cx="255.85" cy="359.20" r="2.40" stroke="#000" stroke-width="1.0" fill="none"/>
<line x1="260.85" y1="359.20" x2="269.45" y2="359.20" stroke="#555" stroke-width="0.8" />
<line x1="265.15" y1="354.90" x2="265.15" y2="363.50" stroke="#555" stroke-width="0.8" />
<circle cx="265.15" cy="359.20" r="2.40" stroke="#000" stroke-width="1.0" fill="none"/>
<line x1="237.80" y1="367.30" x2="246.40" y2="367.30" stroke="#555" stroke-width="0.8" />
<line x1="242.10" y1="363.00" x2="242.10" y2="371.60" stroke="#555" stroke-width="0.8" />
<circle cx="242.10" cy="367.30" r="2.40" stroke="#000" stroke-width="1.0" fill="none"/>
<line x1="246.90" y1="367.30" x2="255.50" y2="367.30" stroke="#555" stroke-width="0.8" />
<line x1="251.20" y1="363.00" x2="251.20" y2="371.60" stroke="#555" stroke-width="0.8" />
<circle cx="251.20" cy="367.30" r="2.40" stroke="#000" stroke-width="1.0" fill="none"/>
<line x1="256.10" y1="367.30" x2="264.70" y2="367.30" stroke="#555" stroke-width="0.8" />
<line x1="260.40" y1="363.00" x2="260.40" y2="371.60" stroke="#555" stroke-width="0.8" />
<circle cx="260.40" cy="367.30" r="2.40" stroke="#000" stroke-width="1.0" fill="none"/>
<line x1="265.70" y1="367.30" x2="274.30" y2="367.30" stroke="#555" stroke-width="0.8" />
<line x1="270.00" y1="363.00" x2="270.00" y2="371.60" stroke="#555" stroke-width="0.8" />
<circle cx="270.00" cy="367.30" r="2.40" stroke="#000" stroke-width="1.0" fill="none"/>
<line x1="304.60" y1="359.20" x2="313.20" y2="359.20" stroke="#555" stroke-width="0.8" />
<line x1="308.90" y1="354.90" x2="308.90" y2="363.50" stroke="#555" stroke-width="0.8" />
<circle cx="308.90" cy="359.20" r="2.40" stroke="#000" stroke-width="1.0" fill="none"/>
<line x1="313.90" y1="359.20" x2="322.50" y2="359.20" stroke="#555" stroke-width="0.8" />
<line x1="318.20" y1="354.90" x2="318.20" y2="363.50" stroke="#555" stroke-width="0.8" />
<circle cx="318.20" cy="359.20" r="2.40" stroke="#000" stroke-width="1.0" fill="none"/>
<line x1="323.20" y1="359.20" x2="331.80" y2="359.20" stroke="#555" stroke-width="0.8" />
<line x1="327.50" y1="354.90" x2="327.50" y2="363.50" stroke="#555" stroke-width="0.8" />
<circle cx="327.50" cy="359.20" r="2.40" stroke="#000" stroke-width="1.0" fill="none"/>
<line x1="332.50" y1="359.20" x2="341.10" y2="359.20" stroke="#555" stroke-width="0.8" />
<line x1="336.80" y1="354.90" x2="336.80" y2="363.50" stroke="#555" stroke-width="0.8" />
<circle cx="336.80" cy="359.20" r="2.40" stroke="#000" stroke-width="1.0" fill="none"/>
<line x1="309.40" y1="367.30" x2="318.00" y2="367.30" stroke="#555" stroke-width="0.8" />
<line x1="313.70" y1="363.00" x2="313.70" y2="371.60" stroke="#555" stroke-width="0.8" />
<circle cx="313.70" cy="367.30" r="2.40" stroke="#000" stroke-width="1.0" fill="none"/>
<line x1="318.50" y1="367.30" x2="327.10" y2="367.30" stroke="#555" stroke-width="0.8" />
<line x1="322.80" y1="363.00" x2="322.80" y2="371.60" stroke="#555" stroke-width="0.8" />
<circle cx="322.80" cy="367.30" r="2.40" stroke="#000" stroke-width="1.0" fill="none"/>
<line x1="327.70" y1="367.30" x2="336.30" y2="367.30" stroke="#555" stroke-width="0.8" />
<line x1="332.00" y1="363.00" x2="332.00" y2="371.60" stroke="#555" stroke-width="0.8" />
<circle cx="332.00" cy="367.30" r="2.40" stroke="#000" stroke-width="1.0" fill="none"/>
<line x1="337.30" y1="367.30" x2="345.90" y2="367.30" stroke="#555" stroke-width="0.8" />
<line x1="341.60" y1="363.00" x2="341.60" y2="371.60" stroke="#555" stroke-width="0.8" />
<circle cx="341.60" cy="367.30" r="2.40" stroke="#000" stroke-width="1.0" fill="none"/>
<line x1="376.25" y1="359.20" x2="384.85" y2="359.20" stroke="#555" stroke-width="0.8" />
<line x1="380.55" y1="354.90" x2="380.55" y2="363.50" stroke="#555" stroke-width="0.8" />
<circle cx="380.55" cy="359.20" r="2.40" stroke="#000" stroke-width="1.0" fill="none"/>
<line x1="385.55" y1="359.20" x2="394.15" y2="359.20" stroke="#555" stroke-width="0.8" />
<line x1="389.85" y1="354.90" x2="389.85" y2="363.50" stroke="#555" stroke-width="0.8" />
<circle cx="389.85" cy="359.20" r="2.40" stroke="#000" stroke-width="1.0" fill="none"/>
<line x1="394.85" y1="359.20" x2="403.45" y2="359.20" stroke="#555" stroke-width="0.8" />
<line x1="399.15" y1="354.90" x2="399.15" y2="363.50" stroke="#555" stroke-width="0.8" />
<circle cx="399.15" cy="359.20" r="2.40" stroke="#000" stroke-width="1.0" fill="none"/>
<line x1="404.15" y1="359.20" x2="412.75" y2="359.20" stroke="#555" stroke-width="0.8" />
<line x1="408.45" y1="354.90" x2="408.45" y2="363.50" stroke="#555" stroke-width="0.8" />
<circle cx="408.45" cy="359.20" r="2.40" stroke="#000" stroke-width="1.0" fill="none"/>
<line x1="381.00" y1="367.30" x2="389.60" y2="367.30" stroke="#555" stroke-width="0.8" />
<line x1="385.30" y1="363.00" x2="385.30" y2="371.60" stroke="#555" stroke-width="0.8" />
<circle cx="385.30" cy="367.30" r="2.40" stroke="#000" stroke-width="1.0" fill="none"/>
<line x1="390.10" y1="367.30" x2="398.70" y2="367.30" stroke="#555" stroke-width="0.8" />
<line x1="394.40" y1="363.00" x2="394.40" y2="371.60" stroke="#555" stroke-width="0.8" />
<circle cx="394.40" cy="367.30" r="2.40" stroke="#000" stroke-width="1.0" fill="none"/>
<line x1="399.30" y1="367.30" x2="407.90" y2="367.30" stroke="#555" stroke-width="0.8" />
<line x1="403.60" y1="363.00" x2="403.60" y2="371.60" stroke="#555" stroke-width="0.8" />
<circle cx="403.60" cy="367.30" r="2.40" stroke="#000" stroke-width="1.0" fill="none"/>
<line x1="408.90" y1="367.30" x2="417.50" y2="367.30" stroke="#555" stroke-width="0.8" />
<line x1="413.20" y1="363.00" x2="413.20" y2="371.60" stroke="#555" stroke-width="0.8" />
<circle cx="413.20" cy="367.30" r="2.40" stroke="#000" stroke-width="1.0" fill="none"/>
<line x1="447.90" y1="359.20" x2="456.50" y2="359.20" stroke="#555" stroke-width="0.8" />
<line x1="452.20" y1="354.90" x2="452.20" y2="363.50" stroke="#555" stroke-width="0.8" />
<circle cx="452.20" cy="359.20" r="2.40" stroke="#000" stroke-width="1.0" fill="none"/>
<line x1="457.20" y1="359.20" x2="465.80" y2="359.20" stroke="#555" stroke-width="0.8" />
<line x1="461.50" y1="354.90" x2="461.50" y2="363.50" stroke="#555" stroke-width="0.8" />
<circle cx="461.50" cy="359.20" r="2.40" stroke="#000" stroke-width="1.0" fill="none"/>
<line x1="466.50" y1="359.20" x2="475.10" y2="359.20" stroke="#555" stroke-width="0.8" />
<line x1="470.80" y1="354.90" x2="470.80" y2="363.50" stroke="#555" stroke-width="0.8" />
<circle cx="470.80" cy="359.20" r="2.40" stroke="#000" stroke-width="1.0" fill="none"/>
<line x1="475.80" y1="359.20" x2="484.40" y2="359.20" stroke="#555" stroke-width="0.8" />
<line x1="480.10" y1="354.90" x2="480.10" y2="363.50" stroke="#555" stroke-width="0.8" />
<circle cx="480.10" cy="359.20" r="2.40" stroke="#000" stroke-width="1.0" fill="none"/>
<line x1="452.60" y1="367.30" x2="461.20" y2="367.30" stroke="#555" stroke-width="0.8" />
<line x1="456.90" y1="363.00" x2="456.90" y2="371.60" stroke="#555" stroke-width="0.8" />
<circle cx="456.90" cy="367.30" r="2.40" stroke="#000" stroke-width="1.0" fill="none"/>
<line x1="461.70" y1="367.30" x2="470.30" y2="367.30" stroke="#555" stroke-width="0.8" />
<line x1="466.00" y1="363.00" x2="466.00" y2="371.60" stroke="#555" stroke-width="0.8" />
<circle cx="466.00" cy="367.30" r="2.40" stroke="#000" stroke-width="1.0" fill="none"/>
<line x1="470.90" y1="367.30" x2="479.50" y2="367.30" stroke="#555" stroke-width="0.8" />
<line x1="475.20" y1="363.00" x2="475.20" y2="371.60" stroke="#555" stroke-width="0.8" />
<circle cx="475.20" cy="367.30" r="2.40" stroke="#000" stroke-width="1.0" fill="none"/>
<line x1="480.50" y1="367.30" x2="489.10" y2="367.30" stroke="#555" stroke-width="0.8" />
<line x1="484.80" y1="363.00" x2="484.80" y2="371.60" stroke="#555" stroke-width="0.8" />
<circle cx="484.80" cy="367.30" r="2.40" stroke="#000" stroke-width="1.0" fill="none"/>
<line x1="519.55" y1="359.20" x2="528.15" y2="359.20" stroke="#555" stroke-width="0.8" />
<line x1="523.85" y1="354.90" x2="523.85" y2="363.50" stroke="#555" stroke-width="0.8" />
<circle cx="523.85" cy="359.20" r="2.40" stroke="#000" stroke-width="1.0" fill="none"/>
<line x1="528.85" y1="359.20" x2="537.45" y2="359.20" stroke="#555" stroke-width="0.8" />
<line x1="533.15" y1="354.90" x2="533.15" y2="363.50" stroke="#555" stroke-width="0.8" />
<circle cx="533.15" cy="359.20" r="2.40" stroke="#000" stroke-width="1.0" fill="none"/>
<line x1="538.15" y1="359.20" x2="546.75" y2="359.20" stroke="#555" stroke-width="0.8" />
<line x1="542.45" y1="354.90" x2="542.45" y2="363.50" stroke="#555" stroke-width="0.8" />
<circle cx="542.45" cy="359.20" r="2.40" stroke="#000" stroke-width="1.0" fill="none"/>
<line x1="547.45" y1="359.20" x2="556.05" y2="359.20" stroke="#555" stroke-width="0.8" />
<line x1="551.75" y1="354.90" x2="551.75" y2="363.50" stroke="#555" stroke-width="0.8" />
<circle cx="551.75" cy="359.20" r="2.40" stroke="#000" stroke-width="1.0" fill="none"/>
<line x1="524.20" y1="367.30" x2="532.80" y2="367.30" stroke="#555" stroke-width="0.8" />
<line x1="528.50" y1="363.00" x2="528.50" y2="371.60" stroke="#555" stroke-width="0.8" />
<circle cx="528.50" cy="367.30" r="2.40" stroke="#000" stroke-width="1.0" fill="none"/>
<line x1="533.30" y1="367.30" x2="541.90" y2="367.30" stroke="#555" stroke-width="0.8" />
<line x1="537.60" y1="363.00" x2="537.60" y2="371.60" stroke="#555" stroke-width="0.8" />
<circle cx="537.60" cy="367.30" r="2.40" stroke="#000" stroke-width="1.0" fill="none"/>
<line x1="542.50" y1="367.30" x2="551.10" y2="367.30" stroke="#555" stroke-width="0.8" />
<line x1="546.80" y1="363.00" x2="546.80" y2="371.60" stroke="#555" stroke-width="0.8" />
<circle cx="546.80" cy="367.30" r="2.40" stroke="#000" stroke-width="1.0" fill="none"/>
<line x1="552.10" y1="367.30" x2="560.70" y2="367.30" stroke="#555" stroke-width="0.8" />
<line x1="556.40" y1="363.00" x2="556.40" y2="371.60" stroke="#555" stroke-width="0.8" />
<circle cx="556.40" cy="367.30" r="2.40" stroke="#000" stroke-width="1.0" fill="none"/>
<line x1="591.20" y1="359.20" x2="599.80" y2="359.20" stroke="#555" stroke-width="0.8" />
<line x1="595.50" y1="354.90" x2="595.50" y2="363.50" stroke="#555" stroke-width="0.8" />
<circle cx="595.50" cy="359.20" r="2.40" stroke="#000" stroke-width="1.0" fill="none"/>
<line x1="600.50" y1="359.20" x2="609.10" y2="359.20" stroke="#555" stroke-width="0.8" />
<line x1="604.80" y1="354.90" x2="604.80" y2="363.50" stroke="#555" stroke-width="0.8" />
<circle cx="604.80" cy="359.20" r="2.40" stroke="#000" stroke-width="1.0" fill="none"/>
<line x1="609.80" y1="359.20" x2="618.40" y2="359.20" stroke="#555" stroke-width="0.8" />
<line x1="614.10" y1="354.90" x2="614.10" y2="363.50" stroke="#555" stroke-width="0.8" />
<circle cx="614.10" cy="359.20" r="2.40" stroke="#000" stroke-width="1.0" fill="none"/>
<line x1="619.10" y1="359.20" x2="627.70" y2="359.20" stroke="#555" stroke-width="0.8" />
<line x1="623.40" y1="354.90" x2="623.40" y2="363.50" stroke="#555" stroke-width="0.8" />
<circle cx="623.40" cy="359.20" r="2.40" stroke="#000" stroke-width="1.0" fill="none"/>
<line x1="595.80" y1="367.30" x2="604.40" y2="367.30" stroke="#555" stroke-width="0.8" />
<line x1="600.10" y1="363.00" x2="600.10" y2="371.60" stroke="#555" stroke-width="0.8" />
<circle cx="600.10" cy="367.30" r="2.40" stroke="#000" stroke-width="1.0" fill="none"/>
<line x1="604.90" y1="367.30" x2="613.50" y2="367.30" stroke="#555" stroke-width="0.8" />
<line x1="609.20" y1="363.00" x2="609.20" y2="371.60" stroke="#555" stroke-width="0.8" />
<circle cx="609.20" cy="367.30" r="2.40" stroke="#000" stroke-width="1.0" fill="none"/>
<line x1="614.10" y1="367.30" x2="622.70" y2="367.30" stroke="#555" stroke-width="0.8" />
<line x1="618.40" y1="363.00" x2="618.40" y2="371.60" stroke="#555" stroke-width="0.8" />
<circle cx="618.40" cy="367.30" r="2.40" stroke="#000" stroke-width="1.0" fill="none"/>
<line x1="623.70" y1="367.30" x2="632.30" y2="367.30" stroke="#555" stroke-width="0.8" />
<line x1="628.00" y1="363.00" x2="628.00" y2="371.60" stroke="#555" stroke-width="0.8" />
<circle cx="628.00" cy="367.30" r="2.40" stroke="#000" stroke-width="1.0" fill="none"/>
<line x1="662.85" y1="359.20" x2="671.45" y2="359.20" stroke="#555" stroke-width="0.8" />
<line x1="667.15" y1="354.90" x2="667.15" y2="363.50" stroke="#555" stroke-width="0.8" />
<circle cx="667.15" cy="359.20" r="2.40" stroke="#000" stroke-width="1.0" fill="none"/>
<line x1="672.15" y1="359.20" x2="680.75" y2="359.20" stroke="#555" stroke-width="0.8" />
<line x1="676.45" y1="354.90" x2="676.45" y2="363.50" stroke="#555" stroke-width="0.8" />
<circle cx="676.45" cy="359.20" r="2.40" stroke="#000" stroke-width="1.0" fill="none"/>
<line x1="681.45" y1="359.20" x2="690.05" y2="359.20" stroke="#555" stroke-width="0.8" />
<line x1="685.75" y1="354.90" x2="685.75" y2="363.50" stroke="#555" stroke-width="0.8" />
<circle cx="685.75" cy="359.20" r="2.40" stroke="#000" stroke-width="1.0" fill="none"/>
<line x1="690.75" y1="359.20" x2="699.35" y2="359.20" stroke="#555" stroke-width="0.8" />
<line x1="695.05" y1="354.90" x2="695.05" y2="363.50" stroke="#555" stroke-width="0.8" />
<circle cx="695.05" cy="359.20" r="2.40" stroke="#000" stroke-width="1.0" fill="none"/>
<line x1="667.40" y1="367.30" x2="676.00" y2="367.30" stroke="#555" stroke-width="0.8" />
<line x1="671.70" y1="363.00" x2="671.70" y2="371.60" stroke="#555" stroke-width="0.8" />
<circle cx="671.70" cy="367.30" r="2.40" stroke="#000" stroke-width="1.0" fill="none"/>
<line x1="676.50" y1="367.30" x2="685.10" y2="367.30" stroke="#555" stroke-width="0.8" />
<line x1="680.80" y1="363.00" x2="680.80" y2="371.60" stroke="#555" stroke-width="0.8" />
<circle cx="680.80" cy="367.30" r="2.40" stroke="#000" stroke-width="1.0" fill="none"/>
<line x1="685.70" y1="367.30" x2="694.30" y2="367.30" stroke="#555" stroke-width="0.8" />
<line x1="690.00" y1="363.00" x2="690.00" y2="371.60" stroke="#555" stroke-width="0.8" />
<circle cx="690.00" cy="367.30" r="2.40" stroke="#000" stroke-width="1.0" fill="none"/>
<line x1="695.30" y1="367.30" x2="703.90" y2="367.30" stroke="#555" stroke-width="0.8" />
<line x1="699.60" y1="363.00" x2="699.60" y2="371.60" stroke="#555" stroke-width="0.8" />
<circle cx="699.60" cy="367.30" r="2.40" stroke="#000" stroke-width="1.0" fill="none"/>
<circle cx="144.85" cy="362.95" r="3.35" stroke="#000" stroke-width="1.05" fill="none"/>
<line x1="138.65" y1="362.95" x2="151.05" y2="362.95" stroke="#666" stroke-width="0.8" />
<line x1="144.85" y1="356.75" x2="144.85" y2="369.15" stroke="#666" stroke-width="0.8" />
<circle cx="397.00" cy="332.80" r="3.35" stroke="#000" stroke-width="1.05" fill="none"/>
<line x1="390.80" y1="332.80" x2="403.20" y2="332.80" stroke="#666" stroke-width="0.8" />
<line x1="397.00" y1="326.60" x2="397.00" y2="339.00" stroke="#666" stroke-width="0.8" />
<circle cx="468.10" cy="332.80" r="3.35" stroke="#000" stroke-width="1.05" fill="none"/>
<line x1="461.90" y1="332.80" x2="474.30" y2="332.80" stroke="#666" stroke-width="0.8" />
<line x1="468.10" y1="326.60" x2="468.10" y2="339.00" stroke="#666" stroke-width="0.8" />
<circle cx="719.90" cy="362.80" r="3.35" stroke="#000" stroke-width="1.05" fill="none"/>
<line x1="713.70" y1="362.80" x2="726.10" y2="362.80" stroke="#666" stroke-width="0.8" />
<line x1="719.90" y1="356.60" x2="719.90" y2="369.00" stroke="#666" stroke-width="0.8" />
<circle cx="153.20" cy="378.80" r="7.25" stroke="#000" stroke-width="1.05" fill="none"/>
<line x1="140.90" y1="378.80" x2="165.50" y2="378.80" stroke="#888" stroke-width="0.8" />
<line x1="153.20" y1="366.50" x2="153.20" y2="391.10" stroke="#888" stroke-width="0.8" />
<circle cx="432.70" cy="378.80" r="7.25" stroke="#000" stroke-width="1.05" fill="none"/>
<line x1="420.40" y1="378.80" x2="445.00" y2="378.80" stroke="#888" stroke-width="0.8" />
<line x1="432.70" y1="366.50" x2="432.70" y2="391.10" stroke="#888" stroke-width="0.8" />
<circle cx="712.00" cy="378.80" r="7.25" stroke="#000" stroke-width="1.05" fill="none"/>
<line x1="699.70" y1="378.80" x2="724.30" y2="378.80" stroke="#888" stroke-width="0.8" />
<line x1="712.00" y1="366.50" x2="712.00" y2="391.10" stroke="#888" stroke-width="0.8" />
<line x1="144.50" y1="289.30" x2="144.50" y2="362.90" stroke="#222" stroke-width="0.9" />
<line x1="719.50" y1="289.30" x2="719.50" y2="362.80" stroke="#222" stroke-width="0.9" />
<line x1="144.70" y1="295.50" x2="719.40" y2="295.50" stroke="#333" stroke-width="0.9" />
<path d="M144.70,295.00 L146.70,294.25 L151.90,294.25 L151.90,296.75 L146.70,296.75 L144.70,296.00 Z" fill="#222"/>
<path d="M719.40,295.00 L717.40,294.25 L712.20,294.25 L712.20,296.75 L717.40,296.75 L719.40,296.00 Z" fill="#222"/>
<g transform="translate(424.00,286.00)"><path d="M0.43,1.32 L1.58,0.00 L1.58,6.00 M0.43,6.00 L2.73,6.00 M3.89,1.08 L4.47,0.00 L6.19,0.00 L6.77,1.08 L6.77,2.28 L3.89,6.00 L6.77,6.00 M10.23,0.00 L8.64,0.00 L7.78,1.80 L7.78,5.10 L8.36,6.00 L10.08,6.00 L10.66,5.10 L10.66,3.60 L10.08,2.70 L7.78,2.70 M16.30,0.00 L13.57,0.00 L13.42,2.52 L15.58,2.52 L16.30,3.48 L16.30,5.10 L15.58,6.00 L13.42,6.00" stroke="#111" stroke-width="0.95" fill="none" stroke-linejoin="round" stroke-linecap="square"/><rect x="11.83" y="5.00" width="0.95" height="1.00" fill="#111"/></g>
<line x1="117.30" y1="306.50" x2="167.90" y2="306.50" stroke="#333" stroke-width="0.9" />
<path d="M150.60,306.10 L148.60,305.35 L143.40,305.35 L143.40,307.85 L148.60,307.85 L150.60,307.10 Z" fill="#222"/>
<path d="M152.40,306.10 L154.40,305.35 L159.60,305.35 L159.60,307.85 L154.40,307.85 L152.40,307.10 Z" fill="#222"/>
<g transform="translate(121.30,297.20)"><path d="M0.62,0.00 L1.86,0.00 L2.48,0.81 L2.48,4.59 L1.86,5.40 L0.62,5.40 L0.00,4.59 L0.00,0.81 L0.62,0.00 M7.35,0.00 L4.99,0.00 L4.86,2.27 L6.73,2.27 L7.35,3.13 L7.35,4.59 L6.73,5.40 L4.86,5.40 M8.59,1.19 L9.58,0.00 L9.58,5.40 M8.59,5.40 L10.58,5.40" stroke="#111" stroke-width="0.95" fill="none" stroke-linejoin="round" stroke-linecap="square"/><rect x="3.43" y="4.40" width="0.95" height="1.00" fill="#111"/></g>
<line x1="150.50" y1="300.00" x2="150.50" y2="337.50" stroke="#222" stroke-width="0.9" />
<line x1="152.50" y1="300.00" x2="152.50" y2="442.00" stroke="#222" stroke-width="0.9" />
<line x1="152.40" y1="314.50" x2="222.50" y2="314.50" stroke="#333" stroke-width="0.9" />
<path d="M152.40,313.80 L154.40,313.05 L159.60,313.05 L159.60,315.55 L154.40,315.55 L152.40,314.80 Z" fill="#222"/>
<path d="M222.50,313.80 L220.50,313.05 L215.30,313.05 L215.30,315.55 L220.50,315.55 L222.50,314.80 Z" fill="#222"/>
<g transform="translate(178.00,304.20)"><path d="M0.43,1.32 L1.57,0.00 L1.57,6.00 M0.43,6.00 L2.72,6.00 M6.73,0.00 L4.01,0.00 L3.87,2.52 L6.01,2.52 L6.73,3.48 L6.73,5.10 L6.01,6.00 L3.87,6.00 M9.47,0.00 L12.33,0.00 L10.47,6.00 M16.20,0.00 L13.48,0.00 L13.34,2.52 L15.48,2.52 L16.20,3.48 L16.20,5.10 L15.48,6.00 L13.34,6.00" stroke="#111" stroke-width="0.95" fill="none" stroke-linejoin="round" stroke-linecap="square"/><rect x="7.89" y="5.00" width="0.95" height="1.00" fill="#111"/></g>
<line x1="222.50" y1="307.80" x2="222.50" y2="337.50" stroke="#222" stroke-width="0.9" />
<line x1="245.00" y1="308.50" x2="356.40" y2="308.50" stroke="#333" stroke-width="0.9" />
<path d="M284.30,308.00 L282.30,307.25 L277.10,307.25 L277.10,309.75 L282.30,309.75 L284.30,309.00 Z" fill="#222"/>
<path d="M293.60,308.00 L295.60,307.25 L300.80,307.25 L300.80,309.75 L295.60,309.75 L293.60,309.00 Z" fill="#222"/>
<path d="M356.40,308.00 L354.40,307.25 L349.20,307.25 L349.20,309.75 L354.40,309.75 L356.40,309.00 Z" fill="#222"/>
<g transform="translate(252.30,298.70)"><path d="M0.00,1.13 L0.61,0.00 L2.45,0.00 L3.06,1.13 L3.06,2.39 L0.00,6.30 L3.06,6.30 M6.77,0.00 L8.30,0.00 L9.06,0.95 L9.06,5.36 L8.30,6.30 L6.77,6.30 L6.00,5.36 L6.00,0.95 L6.77,0.00 M10.14,0.00 L13.20,0.00 L11.52,2.65 L12.59,2.65 L13.20,3.65 L13.20,5.36 L12.59,6.30 L10.75,6.30 L10.14,5.36" stroke="#111" stroke-width="0.95" fill="none" stroke-linejoin="round" stroke-linecap="square"/><rect x="4.34" y="5.30" width="0.95" height="1.00" fill="#111"/></g>
<g transform="translate(316.50,299.20)"><path d="M0.45,1.50 L1.65,0.00 L1.65,6.80 M0.45,6.80 L2.85,6.80 M4.06,0.00 L7.06,0.00 L5.41,2.86 L6.46,2.86 L7.06,3.94 L7.06,5.78 L6.46,6.80 L4.66,6.80 L4.06,5.78 M9.94,0.00 L12.94,0.00 L10.99,6.80 M14.00,1.22 L14.60,0.00 L16.40,0.00 L17.00,1.22 L17.00,2.58 L14.00,6.80 L17.00,6.80" stroke="#111" stroke-width="0.95" fill="none" stroke-linejoin="round" stroke-linecap="square"/><rect x="8.30" y="5.80" width="0.95" height="1.00" fill="#111"/></g>
<line x1="284.50" y1="302.00" x2="284.50" y2="337.50" stroke="#222" stroke-width="0.9" />
<line x1="293.50" y1="302.00" x2="293.50" y2="337.50" stroke="#222" stroke-width="0.9" />
<line x1="356.50" y1="302.00" x2="356.50" y2="337.50" stroke="#222" stroke-width="0.9" />
<line x1="304.40" y1="320.50" x2="345.60" y2="320.50" stroke="#333" stroke-width="0.9" />
<path d="M304.40,319.80 L306.40,319.05 L311.60,319.05 L311.60,321.55 L306.40,321.55 L304.40,320.80 Z" fill="#222"/>
<path d="M345.60,319.80 L343.60,319.05 L338.40,319.05 L338.40,321.55 L343.60,321.55 L345.60,320.80 Z" fill="#222"/>
<g transform="translate(318.80,311.40)"><path d="M2.69,2.97 L0.54,2.97 L0.00,2.16 L0.00,0.81 L0.54,0.00 L2.15,0.00 L2.69,0.81 L2.69,3.78 L1.88,5.40 L0.40,5.40 M5.68,1.19 L6.75,0.00 L6.75,5.40 M5.68,5.40 L7.83,5.40 M10.93,5.40 L10.93,0.00 L8.91,3.67 L11.60,3.67" stroke="#111" stroke-width="0.95" fill="none" stroke-linejoin="round" stroke-linecap="square"/><rect x="3.76" y="4.40" width="0.95" height="1.00" fill="#111"/></g>
<line x1="304.50" y1="314.00" x2="304.50" y2="337.50" stroke="#222" stroke-width="0.9" />
<line x1="345.50" y1="314.00" x2="345.50" y2="337.50" stroke="#222" stroke-width="0.9" />
<line x1="397.00" y1="313.50" x2="468.20" y2="313.50" stroke="#333" stroke-width="0.9" />
<path d="M397.00,312.70 L399.00,311.95 L404.20,311.95 L404.20,314.45 L399.00,314.45 L397.00,313.70 Z" fill="#222"/>
<path d="M468.20,312.70 L466.20,311.95 L461.00,311.95 L461.00,314.45 L466.20,314.45 L468.20,313.70 Z" fill="#222"/>
<g transform="translate(424.00,303.60)"><path d="M0.43,1.28 L1.58,0.00 L1.58,5.80 M0.43,5.80 L2.73,5.80 M6.77,0.00 L4.03,0.00 L3.89,2.44 L6.05,2.44 L6.77,3.36 L6.77,4.93 L6.05,5.80 L3.89,5.80 M9.53,0.00 L12.41,0.00 L10.54,5.80 M16.30,0.00 L13.57,0.00 L13.42,2.44 L15.58,2.44 L16.30,3.36 L16.30,4.93 L15.58,5.80 L13.42,5.80" stroke="#111" stroke-width="0.95" fill="none" stroke-linejoin="round" stroke-linecap="square"/><rect x="7.94" y="4.80" width="0.95" height="1.00" fill="#111"/></g>
<line x1="397.50" y1="307.00" x2="397.50" y2="328.80" stroke="#222" stroke-width="0.9" />
<line x1="468.50" y1="307.00" x2="468.50" y2="328.80" stroke="#222" stroke-width="0.9" />
<line x1="432.50" y1="315.30" x2="432.50" y2="421.30" stroke="#8a8a8a" stroke-width="0.8" />
<g transform="translate(421.80,426.00)"><path d="M0.46,1.52 L1.67,0.00 L1.67,6.90 M0.46,6.90 L2.89,6.90 M4.10,1.24 L4.71,0.00 L6.53,0.00 L7.14,1.24 L7.14,2.62 L4.10,6.90 L7.14,6.90 M8.21,1.24 L8.82,0.00 L10.64,0.00 L11.25,1.24 L11.25,2.62 L8.21,6.90 L11.25,6.90 M17.20,3.79 L14.77,3.79 L14.16,2.76 L14.16,1.03 L14.77,0.00 L16.59,0.00 L17.20,1.03 L17.20,4.83 L16.28,6.90 L14.61,6.90 M20.54,6.90 L20.54,0.00 L18.26,4.69 L21.30,4.69" stroke="#111" stroke-width="0.95" fill="none" stroke-linejoin="round" stroke-linecap="square"/><rect x="12.51" y="5.90" width="0.95" height="1.00" fill="#111"/></g>
<line x1="472.10" y1="332.50" x2="772.70" y2="332.50" stroke="#222" stroke-width="0.9" />
<line x1="719.40" y1="337.50" x2="754.20" y2="337.50" stroke="#222" stroke-width="0.9" />
<line x1="728.70" y1="379.50" x2="772.70" y2="379.50" stroke="#222" stroke-width="0.9" />
<line x1="747.50" y1="337.50" x2="747.50" y2="379.20" stroke="#333" stroke-width="0.9" />
<path d="M747.00,337.50 L746.25,339.50 L746.25,344.70 L748.75,344.70 L748.75,339.50 L748.00,337.50 Z" fill="#222"/>
<path d="M747.00,379.20 L746.25,377.20 L746.25,372.00 L748.75,372.00 L748.75,377.20 L748.00,379.20 Z" fill="#222"/>
<g transform="matrix(0,-1,1,0,738.40,364.30)"><path d="M2.27,2.64 L0.45,2.64 L0.00,1.92 L0.00,0.72 L0.45,0.00 L1.82,0.00 L2.27,0.72 L2.27,3.36 L1.59,4.80 L0.34,4.80 M4.80,1.06 L5.70,0.00 L5.70,4.80 M4.80,4.80 L6.61,4.80 M9.23,4.80 L9.23,0.00 L7.53,3.26 L9.80,3.26" stroke="#111" stroke-width="0.95" fill="none" stroke-linejoin="round" stroke-linecap="square"/><rect x="3.11" y="3.80" width="0.95" height="1.00" fill="#111"/></g>
<line x1="766.50" y1="332.60" x2="766.50" y2="379.20" stroke="#333" stroke-width="0.9" />
<path d="M766.10,332.60 L765.35,334.60 L765.35,339.80 L767.85,339.80 L767.85,334.60 L767.10,332.60 Z" fill="#222"/>
<path d="M766.10,379.20 L765.35,377.20 L765.35,372.00 L767.85,372.00 L767.85,377.20 L767.10,379.20 Z" fill="#222"/>
<g transform="matrix(0,-1,1,0,756.60,363.20)"><path d="M0.37,1.32 L1.34,0.00 L1.34,6.00 M0.37,6.00 L2.32,6.00 M3.90,0.00 L5.12,0.00 L5.73,0.90 L5.73,5.10 L5.12,6.00 L3.90,6.00 L3.29,5.10 L3.29,0.90 L3.90,0.00 M8.43,1.32 L9.41,0.00 L9.41,6.00 M8.43,6.00 L10.38,6.00 M13.43,0.00 L12.09,0.00 L11.36,1.80 L11.36,5.10 L11.85,6.00 L13.31,6.00 L13.80,5.10 L13.80,3.60 L13.31,2.70 L11.36,2.70" stroke="#111" stroke-width="0.95" fill="none" stroke-linejoin="round" stroke-linecap="square"/><rect x="6.66" y="5.00" width="0.95" height="1.00" fill="#111"/></g>
<line x1="48.75" y1="359.50" x2="165.60" y2="359.50" stroke="#222" stroke-width="0.9" />
<line x1="70.00" y1="363.50" x2="141.00" y2="363.50" stroke="#222" stroke-width="0.9" />
<line x1="92.50" y1="367.50" x2="170.50" y2="367.50" stroke="#222" stroke-width="0.9" />
<line x1="48.75" y1="379.50" x2="145.60" y2="379.50" stroke="#222" stroke-width="0.9" />
<line x1="55.50" y1="343.70" x2="55.50" y2="415.50" stroke="#333" stroke-width="0.9" />
<g transform="matrix(0,-1,1,0,46.30,410.00)"><path d="M2.17,6.30 L2.17,0.00 L0.00,4.28 L2.90,4.28 M5.68,0.00 L8.58,0.00 L6.99,2.65 L8.00,2.65 L8.58,3.65 L8.58,5.36 L8.00,6.30 L6.26,6.30 L5.68,5.36 M9.60,1.13 L10.18,0.00 L11.92,0.00 L12.50,1.13 L12.50,2.39 L9.60,6.30 L12.50,6.30" stroke="#111" stroke-width="0.95" fill="none" stroke-linejoin="round" stroke-linecap="square"/><rect x="4.09" y="5.30" width="0.95" height="1.00" fill="#111"/></g>
<line x1="76.50" y1="348.70" x2="76.50" y2="415.50" stroke="#333" stroke-width="0.9" />
<g transform="matrix(0,-1,1,0,66.30,410.00)"><path d="M0.00,0.00 L2.90,0.00 L1.30,2.65 L2.32,2.65 L2.90,3.65 L2.90,5.35 L2.32,6.30 L0.58,6.30 L0.00,5.35 M7.86,6.30 L7.86,0.00 L5.68,4.28 L8.58,4.28 M9.60,0.00 L12.50,0.00 L10.91,2.65 L11.92,2.65 L12.50,3.65 L12.50,5.35 L11.92,6.30 L10.18,6.30 L9.60,5.35" stroke="#111" stroke-width="0.95" fill="none" stroke-linejoin="round" stroke-linecap="square"/><rect x="4.09" y="5.30" width="0.95" height="1.00" fill="#111"/></g>
<line x1="99.50" y1="352.50" x2="99.50" y2="415.50" stroke="#333" stroke-width="0.9" />
<g transform="matrix(0,-1,1,0,88.80,410.00)"><path d="M0.00,1.13 L0.58,0.00 L2.32,0.00 L2.90,1.13 L2.90,2.39 L0.00,6.30 L2.90,6.30 M8.58,0.00 L5.83,0.00 L5.68,2.65 L7.86,2.65 L8.58,3.65 L8.58,5.35 L7.86,6.30 L5.68,6.30 M11.78,6.30 L11.78,0.00 L9.60,4.28 L12.50,4.28" stroke="#111" stroke-width="0.95" fill="none" stroke-linejoin="round" stroke-linecap="square"/><rect x="4.09" y="5.30" width="0.95" height="1.00" fill="#111"/></g>
<path d="M55.00,359.25 L54.25,357.25 L54.25,352.05 L56.75,352.05 L56.75,357.25 L56.00,359.25 Z" fill="#222"/>
<path d="M55.00,379.20 L54.25,381.20 L54.25,386.40 L56.75,386.40 L56.75,381.20 L56.00,379.20 Z" fill="#222"/>
<path d="M75.80,363.20 L75.05,361.20 L75.05,356.00 L77.55,356.00 L77.55,361.20 L76.80,363.20 Z" fill="#222"/>
<path d="M75.80,379.20 L75.05,381.20 L75.05,386.40 L77.55,386.40 L77.55,381.20 L76.80,379.20 Z" fill="#222"/>
<path d="M98.70,367.50 L97.95,365.50 L97.95,360.30 L100.45,360.30 L100.45,365.50 L99.70,367.50 Z" fill="#222"/>
<path d="M98.70,379.20 L97.95,381.20 L97.95,386.40 L100.45,386.40 L100.45,381.20 L99.70,379.20 Z" fill="#222"/>
<g transform="translate(54.70,302.60)"><path d="M0.00,0.00 L2.85,0.00 L1.28,2.18 L2.28,2.18 L2.85,3.02 L2.85,4.42 L2.28,5.20 L0.57,5.20 L0.00,4.42 M3.85,0.94 L4.42,0.00 L6.13,0.00 L6.70,0.94 L6.70,1.98 L3.85,5.20 L6.70,5.20 M7.85,2.86 L10.42,2.86 M12.42,1.14 L13.56,1.14 L14.41,2.08 L14.41,3.74 L13.56,4.68 L12.42,4.68 L11.56,3.74 L11.56,2.08 L12.42,1.14 M12.99,0.10 L12.99,5.62 M16.13,0.00 L17.55,0.00 L18.27,0.78 L18.27,4.42 L17.55,5.20 L16.13,5.20 L15.41,4.42 L15.41,0.78 L16.13,0.00 M23.85,2.86 L21.57,2.86 L21.00,2.08 L21.00,0.78 L21.57,0.00 L23.28,0.00 L23.85,0.78 L23.85,3.64 L23.00,5.20 L21.43,5.20 M26.28,0.62 L26.28,3.22 M25.00,1.92 L27.56,1.92 M25.00,4.58 L27.56,4.58 M29.42,0.00 L30.85,0.00 L31.56,0.78 L31.56,4.42 L30.85,5.20 L29.42,5.20 L28.71,4.42 L28.71,0.78 L29.42,0.00 M35.01,0.00 L36.43,0.00 L37.15,0.78 L37.15,4.42 L36.43,5.20 L35.01,5.20 L34.30,4.42 L34.30,0.78 L35.01,0.00 M40.43,2.44 L41.00,1.82 L41.00,0.62 L40.43,0.00 L38.72,0.00 L38.15,0.62 L38.15,1.82 L38.72,2.44 L40.43,2.44 L41.00,3.12 L41.00,4.58 L40.43,5.20 L38.72,5.20 L38.15,4.58 L38.15,3.12 L38.72,2.44" stroke="#111" stroke-width="0.95" fill="none" stroke-linejoin="round" stroke-linecap="square"/><rect x="19.42" y="4.20" width="0.95" height="1.00" fill="#111"/><rect x="32.72" y="4.20" width="0.95" height="1.00" fill="#111"/></g>
<line x1="54.70" y1="311.50" x2="102.60" y2="311.50" stroke="#222" stroke-width="0.9" />
<line x1="102.60" y1="311.70" x2="164.96" y2="345.04" stroke="#222" stroke-width="0.9" />
<path d="M148.13,337.07 L142.21,334.36 L143.44,332.06 L148.98,335.48 Z" fill="#222"/>
<path d="M153.57,337.93 L159.49,340.64 L158.26,342.94 L152.72,339.52 Z" fill="#222"/>
<path d="M158.77,340.71 L161.60,341.78 L160.38,344.07 L157.92,342.30 Z" fill="#222"/>
<g transform="translate(60.10,332.00)"><path d="M2.14,5.30 L2.14,0.00 L0.00,3.60 L2.85,3.60 M3.99,2.92 L6.55,2.92 M8.55,1.17 L9.69,1.17 L10.55,2.12 L10.55,3.82 L9.69,4.77 L8.55,4.77 L7.70,3.82 L7.70,2.12 L8.55,1.17 M9.12,0.11 L9.12,5.72 M11.97,1.17 L13.11,0.00 L13.11,5.30 M11.97,5.30 L14.25,5.30 M17.13,0.00 L19.97,0.00 L18.12,5.30 M22.40,0.64 L22.40,3.29 M21.12,1.96 L23.68,1.96 M21.12,4.66 L23.68,4.66 M25.54,0.00 L26.96,0.00 L27.67,0.80 L27.67,4.51 L26.96,5.30 L25.54,5.30 L24.82,4.51 L24.82,0.80 L25.54,0.00 M31.12,0.00 L32.54,0.00 L33.25,0.80 L33.25,4.51 L32.54,5.30 L31.12,5.30 L30.40,4.51 L30.40,0.80 L31.12,0.00 M36.53,2.49 L37.10,1.86 L37.10,0.64 L36.53,0.00 L34.82,0.00 L34.25,0.64 L34.25,1.86 L34.82,2.49 L36.53,2.49 L37.10,3.18 L37.10,4.66 L36.53,5.30 L34.82,5.30 L34.25,4.66 L34.25,3.18 L34.82,2.49" stroke="#111" stroke-width="0.95" fill="none" stroke-linejoin="round" stroke-linecap="square"/><rect x="15.55" y="4.30" width="0.95" height="1.00" fill="#111"/><rect x="28.83" y="4.30" width="0.95" height="1.00" fill="#111"/></g>
<line x1="60.10" y1="339.50" x2="102.60" y2="339.50" stroke="#222" stroke-width="0.9" />
<line x1="102.60" y1="339.20" x2="153.85" y2="368.05" stroke="#222" stroke-width="0.9" />
<path d="M140.77,361.72 L134.91,358.88 L136.19,356.62 L141.66,360.15 Z" fill="#222"/>
<path d="M148.63,364.08 L154.49,366.92 L153.21,369.18 L147.74,365.65 Z" fill="#222"/>
<line x1="115.00" y1="416.50" x2="236.50" y2="416.50" stroke="#333" stroke-width="0.9" />
<path d="M152.40,415.50 L150.40,414.75 L145.20,414.75 L145.20,417.25 L150.40,417.25 L152.40,416.50 Z" fill="#222"/>
<path d="M165.50,415.50 L167.50,414.75 L172.70,414.75 L172.70,417.25 L167.50,417.25 L165.50,416.50 Z" fill="#222"/>
<path d="M236.50,415.50 L234.50,414.75 L229.30,414.75 L229.30,417.25 L234.50,417.25 L236.50,416.50 Z" fill="#222"/>
<g transform="translate(120.00,406.40)"><path d="M0.00,1.12 L0.64,0.00 L2.56,0.00 L3.20,1.12 L3.20,2.36 L0.00,6.20 L3.20,6.20 M6.27,0.00 L9.47,0.00 L7.39,6.20 M13.16,2.91 L13.80,2.17 L13.80,0.74 L13.16,0.00 L11.24,0.00 L10.60,0.74 L10.60,2.17 L11.24,2.91 L13.16,2.91 L13.80,3.72 L13.80,5.46 L13.16,6.20 L11.24,6.20 L10.60,5.46 L10.60,3.72 L11.24,2.91" stroke="#111" stroke-width="0.95" fill="none" stroke-linejoin="round" stroke-linecap="square"/><rect x="4.56" y="5.20" width="0.95" height="1.00" fill="#111"/></g>
<g transform="translate(193.00,406.90)"><path d="M0.41,1.39 L1.52,0.00 L1.52,6.30 M0.41,6.30 L2.62,6.30 M6.48,0.00 L3.86,0.00 L3.72,2.65 L5.79,2.65 L6.48,3.65 L6.48,5.36 L5.79,6.30 L3.72,6.30 M9.12,0.00 L11.88,0.00 L10.09,6.30 M15.60,0.00 L12.98,0.00 L12.84,2.65 L14.91,2.65 L15.60,3.65 L15.60,5.36 L14.91,6.30 L12.84,6.30" stroke="#111" stroke-width="0.95" fill="none" stroke-linejoin="round" stroke-linecap="square"/><rect x="7.58" y="5.30" width="0.95" height="1.00" fill="#111"/></g>
<line x1="165.50" y1="368.00" x2="165.50" y2="422.50" stroke="#222" stroke-width="0.9" />
<line x1="236.50" y1="359.20" x2="236.50" y2="422.50" stroke="#222" stroke-width="0.9" />
<line x1="318.50" y1="359.20" x2="318.50" y2="405.60" stroke="#222" stroke-width="0.9" />
<line x1="322.50" y1="367.30" x2="322.50" y2="405.60" stroke="#222" stroke-width="0.9" />
<line x1="302.50" y1="399.50" x2="358.10" y2="399.50" stroke="#333" stroke-width="0.9" />
<path d="M318.10,398.90 L316.10,398.15 L310.90,398.15 L310.90,400.65 L316.10,400.65 L318.10,399.90 Z" fill="#222"/>
<path d="M322.70,398.90 L324.70,398.15 L329.90,398.15 L329.90,400.65 L324.70,400.65 L322.70,399.90 Z" fill="#222"/>
<g transform="translate(341.90,388.80)"><path d="M0.40,1.32 L1.48,0.00 L1.48,6.00 M0.40,6.00 L2.56,6.00 M5.95,0.00 L7.29,0.00 L7.96,0.90 L7.96,5.10 L7.29,6.00 L5.95,6.00 L5.27,5.10 L5.27,0.90 L5.95,0.00 M8.91,1.08 L9.45,0.00 L11.06,0.00 L11.60,1.08 L11.60,2.28 L8.91,6.00 L11.60,6.00" stroke="#111" stroke-width="0.95" fill="none" stroke-linejoin="round" stroke-linecap="square"/><rect x="3.76" y="5.00" width="0.95" height="1.00" fill="#111"/></g>
<line x1="528.50" y1="367.30" x2="528.50" y2="422.60" stroke="#222" stroke-width="0.9" />
<line x1="537.50" y1="367.30" x2="537.50" y2="422.60" stroke="#222" stroke-width="0.9" />
<line x1="512.40" y1="416.50" x2="573.60" y2="416.50" stroke="#333" stroke-width="0.9" />
<path d="M528.50,415.90 L526.50,415.15 L521.30,415.15 L521.30,417.65 L526.50,417.65 L528.50,416.90 Z" fill="#222"/>
<path d="M537.70,415.90 L539.70,415.15 L544.90,415.15 L544.90,417.65 L539.70,417.65 L537.70,416.90 Z" fill="#222"/>
<g transform="translate(556.60,406.60)"><path d="M0.00,1.10 L0.64,0.00 L2.58,0.00 L3.22,1.10 L3.22,2.32 L0.00,6.10 L3.22,6.10 M7.12,0.00 L8.74,0.00 L9.54,0.91 L9.54,5.18 L8.74,6.10 L7.12,6.10 L6.32,5.18 L6.32,0.91 L7.12,0.00 M13.09,6.10 L13.09,0.00 L10.68,4.15 L13.90,4.15" stroke="#111" stroke-width="0.95" fill="none" stroke-linejoin="round" stroke-linecap="square"/><rect x="4.59" y="5.10" width="0.95" height="1.00" fill="#111"/></g>
<line x1="152.40" y1="436.50" x2="711.90" y2="436.50" stroke="#333" stroke-width="0.9" />
<path d="M152.40,435.90 L154.40,435.15 L159.60,435.15 L159.60,437.65 L154.40,437.65 L152.40,436.90 Z" fill="#222"/>
<path d="M711.90,435.90 L709.90,435.15 L704.70,435.15 L704.70,437.65 L709.90,437.65 L711.90,436.90 Z" fill="#222"/>
<line x1="711.50" y1="382.00" x2="711.50" y2="442.70" stroke="#222" stroke-width="0.9" />
<g transform="translate(642.90,380.40)"><path d="M2.49,0.00 L0.88,0.00 L0.00,1.80 L0.00,5.10 L0.59,6.00 L2.34,6.00 L2.93,5.10 L2.93,3.60 L2.34,2.70 L0.00,2.70 M6.15,6.00 L6.15,0.00 L3.96,4.08 L6.88,4.08 M8.06,3.30 L10.70,3.30 M12.75,1.32 L13.92,1.32 L14.80,2.40 L14.80,4.32 L13.92,5.40 L12.75,5.40 L11.87,4.32 L11.87,2.40 L12.75,1.32 M13.33,0.12 L13.33,6.48 M16.56,0.00 L18.02,0.00 L18.76,0.90 L18.76,5.10 L18.02,6.00 L16.56,6.00 L15.83,5.10 L15.83,0.90 L16.56,0.00 M24.49,3.30 L22.15,3.30 L21.56,2.40 L21.56,0.90 L22.15,0.00 L23.91,0.00 L24.49,0.90 L24.49,4.20 L23.61,6.00 L22.00,6.00 M26.99,0.72 L26.99,3.72 M25.67,2.22 L28.30,2.22 M25.67,5.28 L28.30,5.28 M29.92,1.32 L31.09,0.00 L31.09,6.00 M29.92,6.00 L32.26,6.00 M35.65,1.32 L36.83,0.00 L36.83,6.00 M35.65,6.00 L38.00,6.00 M41.51,2.82 L42.10,2.10 L42.10,0.72 L41.51,0.00 L39.76,0.00 L39.17,0.72 L39.17,2.10 L39.76,2.82 L41.51,2.82 L42.10,3.60 L42.10,5.28 L41.51,6.00 L39.76,6.00 L39.17,5.28 L39.17,3.60 L39.76,2.82" stroke="#111" stroke-width="0.95" fill="none" stroke-linejoin="round" stroke-linecap="square"/><rect x="19.96" y="5.00" width="0.95" height="1.00" fill="#111"/><rect x="33.61" y="5.00" width="0.95" height="1.00" fill="#111"/></g>
<line x1="642.70" y1="388.50" x2="689.20" y2="388.50" stroke="#222" stroke-width="0.9" />
<line x1="689.20" y1="388.40" x2="706.89" y2="352.50" stroke="#222" stroke-width="0.9" />
<path d="M699.26,370.03 L696.74,376.04 L694.41,374.89 L697.64,369.23 Z" fill="#222"/>
<path d="M699.94,364.57 L702.46,358.56 L704.79,359.71 L701.56,365.37 Z" fill="#222"/>
<g transform="translate(642.90,389.60)"><path d="M0.00,0.00 L2.93,0.00 L1.32,2.65 L2.34,2.65 L2.93,3.65 L2.93,5.35 L2.34,6.30 L0.59,6.30 L0.00,5.35 M4.10,3.46 L6.74,3.46 M8.79,1.39 L9.96,1.39 L10.84,2.52 L10.84,4.54 L9.96,5.67 L8.79,5.67 L7.91,4.54 L7.91,2.52 L8.79,1.39 M9.38,0.13 L9.38,6.80 M11.87,0.00 L14.80,0.00 L13.19,2.65 L14.21,2.65 L14.80,3.65 L14.80,5.35 L14.21,6.30 L12.46,6.30 L11.87,5.35 M17.61,1.13 L18.19,0.00 L19.95,0.00 L20.54,1.13 L20.54,2.39 L17.61,6.30 L20.54,6.30 M24.49,0.00 L21.71,0.00 L21.56,2.65 L23.76,2.65 L24.49,3.65 L24.49,5.35 L23.76,6.30 L21.56,6.30 M26.99,0.76 L26.99,3.91 M25.67,2.33 L28.30,2.33 M25.67,5.54 L28.30,5.54 M30.21,0.00 L31.67,0.00 L32.41,0.94 L32.41,5.35 L31.67,6.30 L30.21,6.30 L29.48,5.35 L29.48,0.94 L30.21,0.00 M35.95,0.00 L37.41,0.00 L38.14,0.94 L38.14,5.35 L37.41,6.30 L35.95,6.30 L35.22,5.35 L35.22,0.94 L35.95,0.00 M41.51,2.96 L42.10,2.20 L42.10,0.76 L41.51,0.00 L39.76,0.00 L39.17,0.76 L39.17,2.20 L39.76,2.96 L41.51,2.96 L42.10,3.78 L42.10,5.54 L41.51,6.30 L39.76,6.30 L39.17,5.54 L39.17,3.78 L39.76,2.96" stroke="#111" stroke-width="0.95" fill="none" stroke-linejoin="round" stroke-linecap="square"/><rect x="16.00" y="5.30" width="0.95" height="1.00" fill="#111"/><rect x="33.61" y="5.30" width="0.95" height="1.00" fill="#111"/></g>
<line x1="642.70" y1="399.50" x2="689.20" y2="399.50" stroke="#222" stroke-width="0.9" />
<line x1="689.20" y1="399.40" x2="728.50" y2="363.20" stroke="#222" stroke-width="0.9" />
<path d="M706.95,384.58 L702.44,389.28 L700.67,387.36 L705.73,383.25 Z" fill="#222"/>
<path d="M717.05,372.82 L721.56,368.12 L723.33,370.04 L718.27,374.15 Z" fill="#222"/>
<line x1="719.50" y1="362.80" x2="719.50" y2="289.30" stroke="#222" stroke-width="0.9" />
</svg>
</body></html>
